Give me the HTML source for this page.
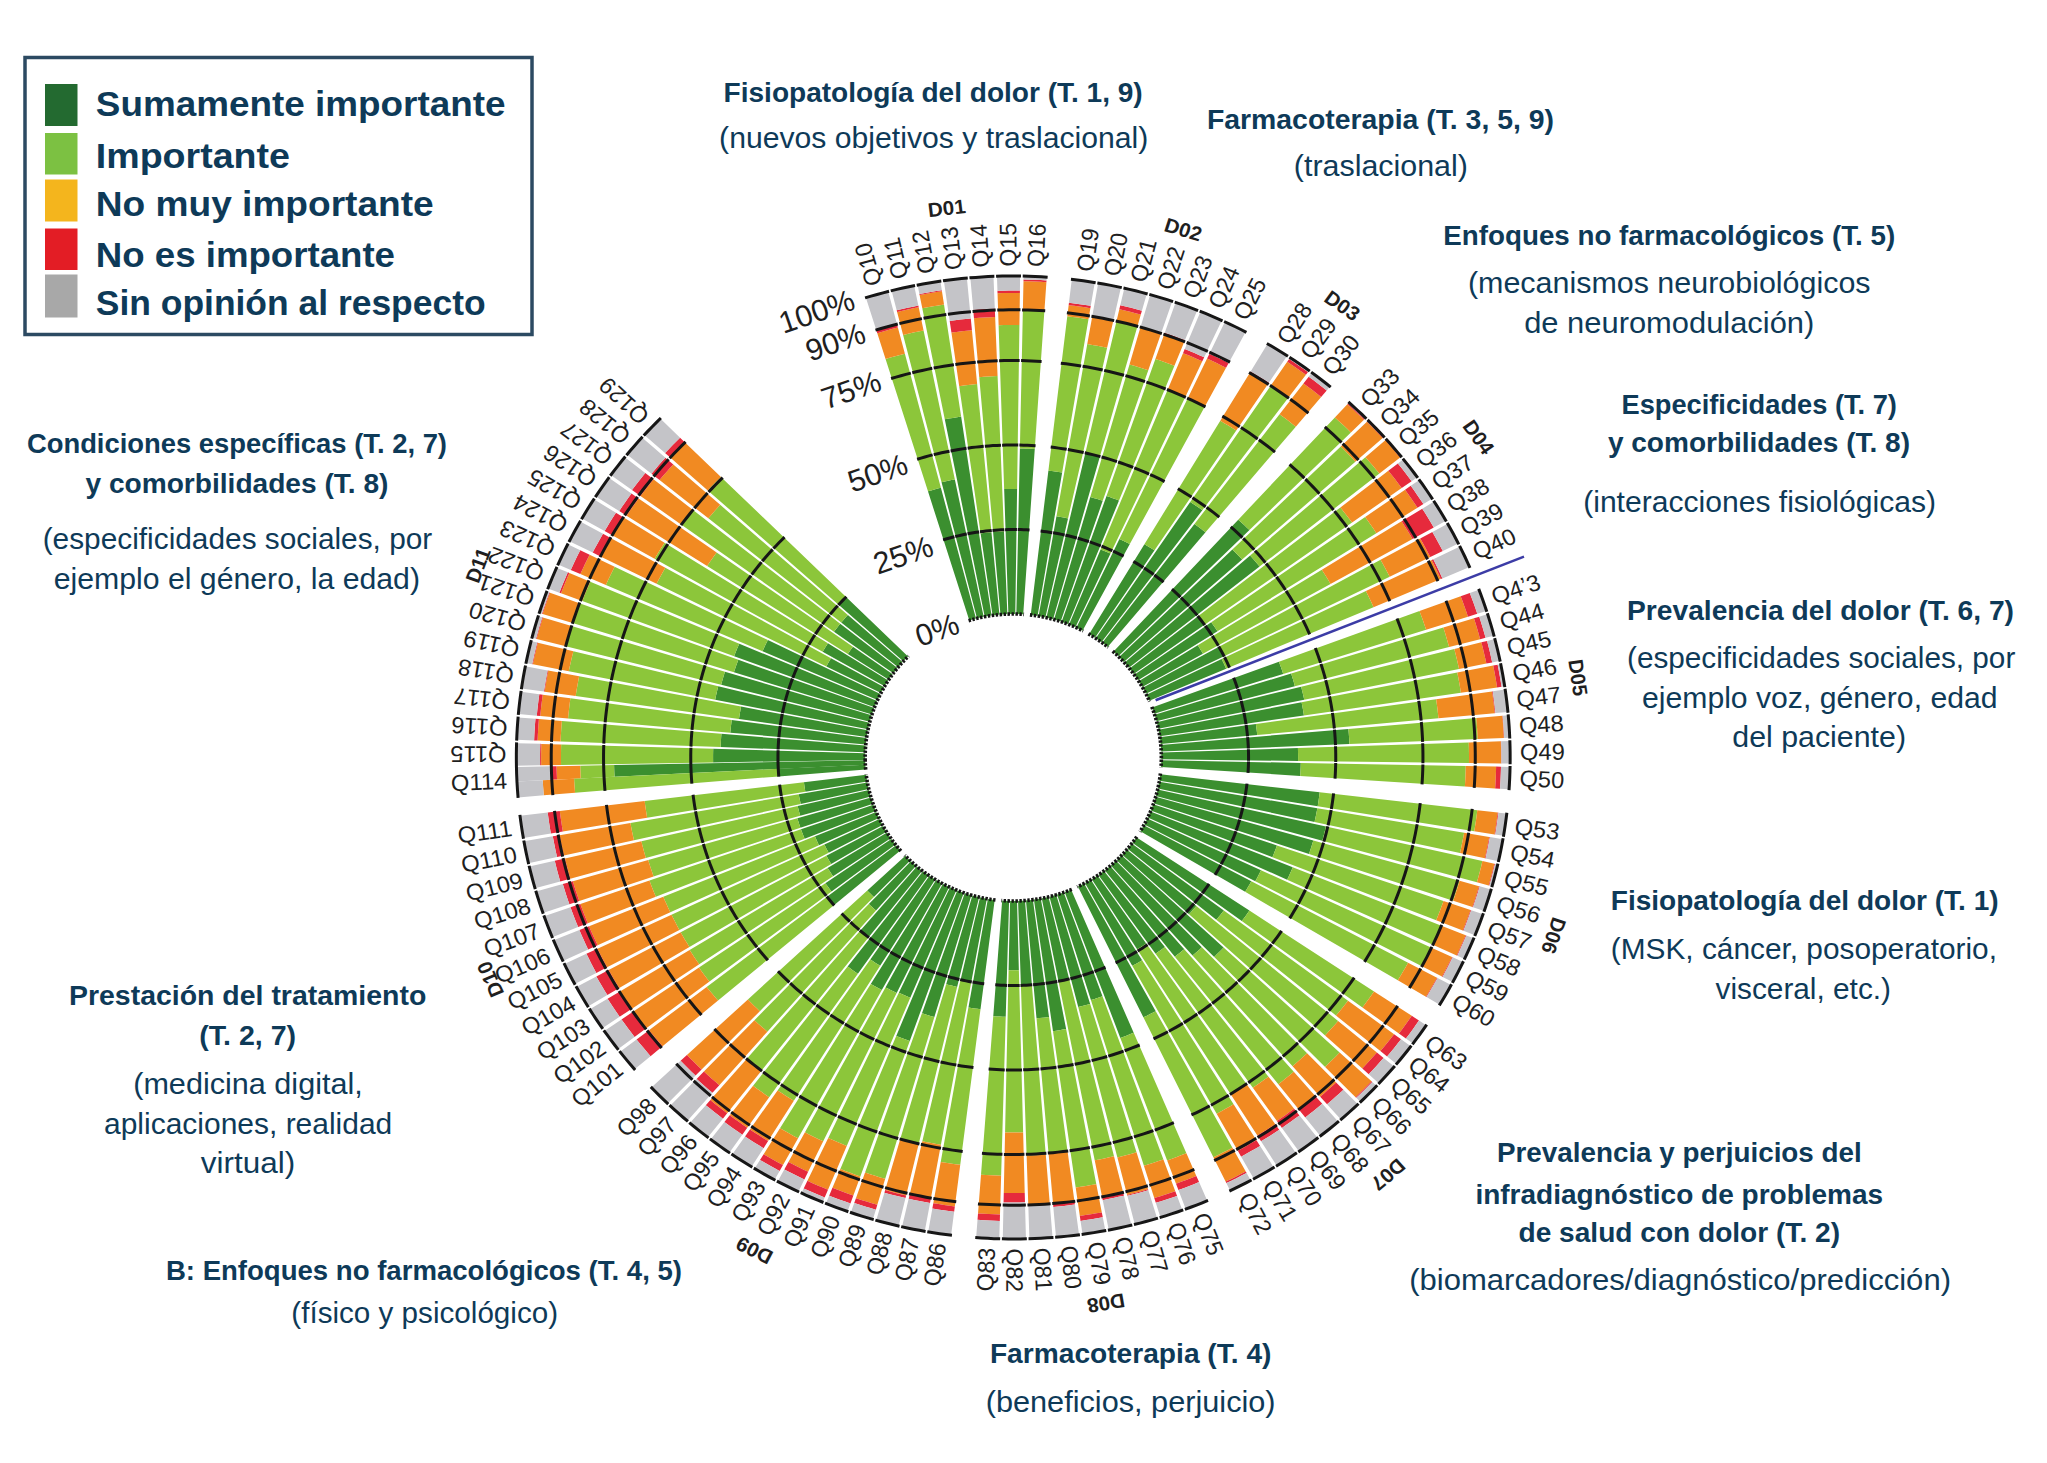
<!DOCTYPE html><html><head><meta charset="utf-8"><style>html,body{margin:0;padding:0;background:#fff;width:2047px;height:1463px;overflow:hidden}svg{display:block}text{font-family:"Liberation Sans",sans-serif}</style></head><body>
<svg width="2047" height="1463" viewBox="0 0 2047 1463">
<path d="M927.97,491.33 L931.18,490.39 L934.40,489.48 L937.63,488.60 L940.88,487.77 L975.99,618.62 L974.32,619.05 L972.65,619.50 L970.99,619.97 L969.34,620.45Z" fill="#3b8f2f"/>
<path d="M885.56,358.98 L890.37,357.57 L895.19,356.21 L900.03,354.90 L904.89,353.65 L940.88,487.77 L937.63,488.60 L934.40,489.48 L931.18,490.39 L927.97,491.33Z" fill="#8cc63a"/>
<path d="M877.29,333.16 L882.41,331.65 L887.54,330.20 L892.70,328.81 L897.87,327.48 L904.89,353.65 L900.03,354.90 L895.19,356.21 L890.37,357.57 L885.56,358.98Z" fill="#f18a22"/>
<path d="M875.95,328.96 L881.11,327.44 L886.30,325.98 L891.51,324.57 L896.73,323.22 L897.87,327.48 L892.70,328.81 L887.54,330.20 L882.41,331.65 L877.29,333.16Z" fill="#e62a3c"/>
<path d="M865.91,297.65 L871.46,296.02 L877.03,294.45 L882.61,292.94 L888.21,291.49 L896.73,323.22 L891.51,324.57 L886.30,325.98 L881.11,327.44 L875.95,328.96Z" fill="#c4c4c8"/>
<path d="M941.54,482.37 L944.86,481.58 L948.18,480.82 L951.52,480.11 L954.86,479.43 L983.72,616.88 L982.03,617.22 L980.35,617.59 L978.66,617.97 L976.99,618.37Z" fill="#3b8f2f"/>
<path d="M903.10,334.90 L908.20,333.68 L913.31,332.52 L918.43,331.42 L923.57,330.38 L954.86,479.43 L951.52,480.11 L948.18,480.82 L944.86,481.58 L941.54,482.37Z" fill="#8cc63a"/>
<path d="M897.12,311.96 L902.49,310.68 L907.88,309.46 L913.28,308.30 L918.70,307.20 L923.57,330.38 L918.43,331.42 L913.31,332.52 L908.20,333.68 L903.10,334.90Z" fill="#f18a22"/>
<path d="M896.69,310.32 L902.09,309.03 L907.49,307.81 L912.92,306.64 L918.35,305.54 L918.70,307.20 L913.28,308.30 L907.88,309.46 L902.49,310.68 L897.12,311.96Z" fill="#e62a3c"/>
<path d="M891.57,290.66 L897.20,289.32 L902.84,288.04 L908.50,286.82 L914.18,285.67 L918.35,305.54 L912.92,306.64 L907.49,307.81 L902.09,309.03 L896.69,310.32Z" fill="#c4c4c8"/>
<path d="M944.78,419.34 L948.85,418.59 L952.94,417.88 L957.03,417.22 L961.13,416.61 L991.55,615.55 L989.84,615.80 L988.14,616.08 L986.43,616.37 L984.74,616.68Z" fill="#3b8f2f"/>
<path d="M922.28,308.23 L927.69,307.23 L933.12,306.29 L938.56,305.42 L944.01,304.60 L961.13,416.61 L957.03,417.22 L952.94,417.88 L948.85,418.59 L944.78,419.34Z" fill="#8cc63a"/>
<path d="M919.59,294.96 L925.17,293.93 L930.75,292.97 L936.35,292.07 L941.96,291.23 L944.01,304.60 L938.56,305.42 L933.12,306.29 L927.69,307.23 L922.28,308.23Z" fill="#f18a22"/>
<path d="M919.39,293.96 L924.98,292.93 L930.58,291.97 L936.19,291.07 L941.81,290.23 L941.96,291.23 L936.35,292.07 L930.75,292.97 L925.17,293.93 L919.59,294.96Z" fill="#e62a3c"/>
<path d="M917.58,285.01 L923.27,283.96 L928.98,282.97 L934.70,282.05 L940.43,281.20 L941.81,290.23 L936.19,291.07 L930.58,291.97 L924.98,292.93 L919.39,293.96Z" fill="#c4c4c8"/>
<path d="M980.63,533.41 L983.34,533.05 L986.04,532.73 L988.75,532.44 L991.46,532.18 L999.43,614.63 L997.71,614.79 L996.00,614.98 L994.28,615.18 L992.57,615.41Z" fill="#3b8f2f"/>
<path d="M959.20,386.14 L963.68,385.56 L968.16,385.02 L972.65,384.54 L977.14,384.11 L991.46,532.18 L988.75,532.44 L986.04,532.73 L983.34,533.05 L980.63,533.41Z" fill="#8cc63a"/>
<path d="M951.41,332.59 L956.53,331.92 L961.66,331.31 L966.79,330.76 L971.93,330.26 L977.14,384.11 L972.65,384.54 L968.16,385.02 L963.68,385.56 L959.20,386.14Z" fill="#f18a22"/>
<path d="M949.70,320.88 L954.96,320.19 L960.23,319.56 L965.51,318.99 L970.79,318.48 L971.93,330.26 L966.79,330.76 L961.66,331.31 L956.53,331.92 L951.41,332.59Z" fill="#e62a3c"/>
<path d="M943.86,280.72 L949.60,279.97 L955.36,279.28 L961.12,278.66 L966.89,278.10 L970.79,318.48 L965.51,318.99 L960.23,319.56 L954.96,320.19 L949.70,320.88Z" fill="#c4c4c8"/>
<path d="M993.08,532.04 L995.80,531.82 L998.52,531.64 L1001.24,531.49 L1003.96,531.37 L1007.36,614.11 L1005.63,614.19 L1003.91,614.29 L1002.18,614.40 L1000.46,614.54Z" fill="#3b8f2f"/>
<path d="M979.23,377.14 L983.81,376.78 L988.39,376.47 L992.98,376.22 L997.58,376.01 L1003.96,531.37 L1001.24,531.49 L998.52,531.64 L995.80,531.82 L993.08,532.04Z" fill="#8cc63a"/>
<path d="M973.95,318.21 L979.25,317.79 L984.54,317.44 L989.84,317.14 L995.15,316.91 L997.58,376.01 L992.98,376.22 L988.39,376.47 L983.81,376.78 L979.23,377.14Z" fill="#f18a22"/>
<path d="M973.20,309.79 L978.59,309.37 L983.99,309.01 L989.39,308.70 L994.80,308.47 L995.15,316.91 L989.84,317.14 L984.54,317.44 L979.25,317.79 L973.95,318.21Z" fill="#e62a3c"/>
<path d="M970.34,277.80 L976.12,277.35 L981.90,276.96 L987.69,276.64 L993.48,276.38 L994.80,308.47 L989.39,308.70 L983.99,309.01 L978.59,309.37 L973.20,309.79Z" fill="#c4c4c8"/>
<path d="M1004.16,489.08 L1007.39,489.00 L1010.62,488.95 L1013.85,488.94 L1017.09,488.97 L1015.30,614.01 L1013.57,614.00 L1011.85,614.01 L1010.12,614.03 L1008.39,614.08Z" fill="#3b8f2f"/>
<path d="M998.60,325.24 L1003.81,325.11 L1009.02,325.03 L1014.22,325.01 L1019.43,325.05 L1017.09,488.97 L1013.85,488.94 L1010.62,488.95 L1007.39,489.00 L1004.16,489.08Z" fill="#8cc63a"/>
<path d="M997.52,293.15 L1003.11,293.00 L1008.70,292.92 L1014.30,292.90 L1019.89,292.94 L1019.43,325.05 L1014.22,325.01 L1009.02,325.03 L1003.81,325.11 L998.60,325.24Z" fill="#f18a22"/>
<path d="M997.44,290.79 L1003.06,290.64 L1008.68,290.56 L1014.30,290.54 L1019.92,290.58 L1019.89,292.94 L1014.30,292.90 L1008.70,292.92 L1003.11,293.00 L997.52,293.15Z" fill="#e62a3c"/>
<path d="M996.94,276.26 L1002.74,276.11 L1008.54,276.02 L1014.33,276.00 L1020.13,276.05 L1019.92,290.58 L1014.30,290.54 L1008.68,290.56 L1003.06,290.64 L997.44,290.79Z" fill="#c4c4c8"/>
<path d="M1019.89,448.45 L1023.61,448.54 L1027.33,448.68 L1031.05,448.86 L1034.76,449.08 L1023.24,614.33 L1021.51,614.22 L1019.79,614.14 L1018.06,614.08 L1016.33,614.03Z" fill="#3b8f2f"/>
<path d="M1022.87,309.90 L1028.26,310.04 L1033.64,310.24 L1039.03,310.50 L1044.41,310.82 L1034.76,449.08 L1031.05,448.86 L1027.33,448.68 L1023.61,448.54 L1019.89,448.45Z" fill="#8cc63a"/>
<path d="M1023.49,281.17 L1029.22,281.32 L1034.95,281.53 L1040.68,281.81 L1046.41,282.15 L1044.41,310.82 L1039.03,310.50 L1033.64,310.24 L1028.26,310.04 L1022.87,309.90Z" fill="#f18a22"/>
<path d="M1023.52,279.48 L1029.28,279.63 L1035.03,279.85 L1040.78,280.12 L1046.53,280.47 L1046.41,282.15 L1040.68,281.81 L1034.95,281.53 L1029.22,281.32 L1023.49,281.17Z" fill="#e62a3c"/>
<path d="M1023.60,276.10 L1029.39,276.25 L1035.18,276.47 L1040.98,276.75 L1046.76,277.10 L1046.53,280.47 L1040.78,280.12 L1035.03,279.85 L1029.28,279.63 L1023.52,279.48Z" fill="#c4c4c8"/>
<path d="M1048.39,470.67 L1051.84,471.09 L1055.28,471.55 L1058.72,472.04 L1062.16,472.57 L1037.55,615.94 L1035.84,615.68 L1034.13,615.43 L1032.42,615.21 L1030.71,615.00Z" fill="#3b8f2f"/>
<path d="M1067.30,316.28 L1072.61,316.92 L1077.91,317.62 L1083.20,318.38 L1088.48,319.20 L1062.16,472.57 L1058.72,472.04 L1055.28,471.55 L1051.84,471.09 L1048.39,470.67Z" fill="#8cc63a"/>
<path d="M1068.66,305.20 L1074.10,305.86 L1079.53,306.58 L1084.96,307.36 L1090.37,308.20 L1088.48,319.20 L1083.20,318.38 L1077.91,317.62 L1072.61,316.92 L1067.30,316.28Z" fill="#f18a22"/>
<path d="M1068.95,302.85 L1074.42,303.51 L1079.88,304.23 L1085.33,305.02 L1090.77,305.86 L1090.37,308.20 L1084.96,307.36 L1079.53,306.58 L1074.10,305.86 L1068.66,305.20Z" fill="#e62a3c"/>
<path d="M1071.82,279.36 L1077.58,280.05 L1083.32,280.81 L1089.06,281.64 L1094.78,282.53 L1090.77,305.86 L1085.33,305.02 L1079.88,304.23 L1074.42,303.51 L1068.95,302.85Z" fill="#c4c4c8"/>
<path d="M1056.46,516.20 L1059.36,516.71 L1062.25,517.25 L1065.14,517.82 L1068.03,518.42 L1045.35,617.41 L1043.66,617.06 L1041.96,616.72 L1040.27,616.41 L1038.57,616.11Z" fill="#3b8f2f"/>
<path d="M1087.28,344.03 L1092.26,344.90 L1097.22,345.82 L1102.17,346.79 L1107.11,347.83 L1068.03,518.42 L1065.14,517.82 L1062.25,517.25 L1059.36,516.71 L1056.46,516.20Z" fill="#8cc63a"/>
<path d="M1092.05,317.39 L1097.35,318.31 L1102.63,319.29 L1107.90,320.33 L1113.16,321.43 L1107.11,347.83 L1102.17,346.79 L1097.22,345.82 L1092.26,344.90 L1087.28,344.03Z" fill="#f18a22"/>
<path d="M1092.23,316.39 L1097.54,317.31 L1102.83,318.30 L1108.12,319.34 L1113.38,320.44 L1113.16,321.43 L1107.90,320.33 L1102.63,319.29 L1097.35,318.31 L1092.05,317.39Z" fill="#e62a3c"/>
<path d="M1098.20,283.09 L1103.90,284.08 L1109.60,285.14 L1115.28,286.26 L1120.94,287.44 L1113.38,320.44 L1108.12,319.34 L1102.83,318.30 L1097.54,317.31 L1092.23,316.39Z" fill="#c4c4c8"/>
<path d="M1085.34,452.91 L1089.00,453.74 L1092.65,454.62 L1096.29,455.54 L1099.92,456.50 L1053.05,619.28 L1051.38,618.84 L1049.71,618.42 L1048.04,618.01 L1046.35,617.63Z" fill="#3b8f2f"/>
<path d="M1116.37,321.79 L1121.61,322.98 L1126.83,324.24 L1132.04,325.55 L1137.24,326.92 L1099.92,456.50 L1096.29,455.54 L1092.65,454.62 L1089.00,453.74 L1085.34,452.91Z" fill="#8cc63a"/>
<path d="M1119.33,309.27 L1124.72,310.50 L1130.10,311.79 L1135.46,313.14 L1140.80,314.55 L1137.24,326.92 L1132.04,325.55 L1126.83,324.24 L1121.61,322.98 L1116.37,321.79Z" fill="#f18a22"/>
<path d="M1120.27,305.31 L1125.71,306.56 L1131.13,307.86 L1136.53,309.22 L1141.92,310.65 L1140.80,314.55 L1135.46,313.14 L1130.10,311.79 L1124.72,310.50 L1119.33,309.27Z" fill="#e62a3c"/>
<path d="M1124.32,288.18 L1129.97,289.47 L1135.59,290.82 L1141.21,292.24 L1146.80,293.72 L1141.92,310.65 L1136.53,309.22 L1131.13,307.86 L1125.71,306.56 L1120.27,305.31Z" fill="#c4c4c8"/>
<path d="M1090.27,497.06 L1093.40,497.94 L1096.52,498.87 L1099.63,499.83 L1102.73,500.82 L1060.64,621.55 L1059.00,621.02 L1057.36,620.51 L1055.70,620.02 L1054.04,619.55Z" fill="#3b8f2f"/>
<path d="M1129.47,364.49 L1134.20,365.83 L1138.91,367.22 L1143.60,368.67 L1148.27,370.17 L1102.73,500.82 L1099.63,499.83 L1096.52,498.87 L1093.40,497.94 L1090.27,497.06Z" fill="#8cc63a"/>
<path d="M1140.52,327.12 L1145.70,328.59 L1150.85,330.12 L1155.99,331.70 L1161.11,333.34 L1148.27,370.17 L1143.60,368.67 L1138.91,367.22 L1134.20,365.83 L1129.47,364.49Z" fill="#f18a22"/>
<path d="M1140.72,326.47 L1145.90,327.94 L1151.06,329.47 L1156.20,331.06 L1161.33,332.70 L1161.11,333.34 L1155.99,331.70 L1150.85,330.12 L1145.70,328.59 L1140.52,327.12Z" fill="#e62a3c"/>
<path d="M1150.13,294.63 L1155.70,296.21 L1161.24,297.85 L1166.77,299.55 L1172.27,301.32 L1161.33,332.70 L1156.20,331.06 L1151.06,329.47 L1145.90,327.94 L1140.72,326.47Z" fill="#c4c4c8"/>
<path d="M1106.51,496.00 L1109.65,497.07 L1112.78,498.18 L1115.89,499.32 L1119.00,500.50 L1068.10,624.20 L1066.49,623.59 L1064.87,623.00 L1063.25,622.43 L1061.62,621.87Z" fill="#3b8f2f"/>
<path d="M1155.38,358.95 L1160.17,360.59 L1164.94,362.27 L1169.69,364.02 L1174.42,365.81 L1119.00,500.50 L1115.89,499.32 L1112.78,498.18 L1109.65,497.07 L1106.51,496.00Z" fill="#8cc63a"/>
<path d="M1164.38,333.71 L1169.48,335.45 L1174.55,337.25 L1179.60,339.10 L1184.62,341.01 L1174.42,365.81 L1169.69,364.02 L1164.94,362.27 L1160.17,360.59 L1155.38,358.95Z" fill="#f18a22"/>
<path d="M1164.73,332.76 L1169.83,334.50 L1174.91,336.30 L1179.97,338.15 L1185.01,340.07 L1184.62,341.01 L1179.60,339.10 L1174.55,337.25 L1169.48,335.45 L1164.38,333.71Z" fill="#e62a3c"/>
<path d="M1175.55,302.41 L1181.02,304.27 L1186.46,306.20 L1191.88,308.19 L1197.28,310.24 L1185.01,340.07 L1179.97,338.15 L1174.91,336.30 L1169.83,334.50 L1164.73,332.76Z" fill="#c4c4c8"/>
<path d="M1100.60,549.44 L1103.10,550.44 L1105.59,551.47 L1108.06,552.53 L1110.52,553.61 L1075.39,627.25 L1073.82,626.55 L1072.24,625.88 L1070.65,625.22 L1069.05,624.58Z" fill="#3b8f2f"/>
<path d="M1167.64,389.76 L1172.05,391.54 L1176.45,393.36 L1180.82,395.23 L1185.17,397.14 L1110.52,553.61 L1108.06,552.53 L1105.59,551.47 L1103.10,550.44 L1100.60,549.44Z" fill="#8cc63a"/>
<path d="M1183.01,353.13 L1187.87,355.08 L1192.71,357.08 L1197.51,359.14 L1202.30,361.25 L1185.17,397.14 L1180.82,395.23 L1176.45,393.36 L1172.05,391.54 L1167.64,389.76Z" fill="#f18a22"/>
<path d="M1184.72,349.06 L1189.63,351.03 L1194.51,353.05 L1199.37,355.13 L1204.20,357.26 L1202.30,361.25 L1197.51,359.14 L1192.71,357.08 L1187.87,355.08 L1183.01,353.13Z" fill="#e62a3c"/>
<path d="M1200.50,311.49 L1205.85,313.64 L1211.18,315.85 L1216.49,318.12 L1221.77,320.44 L1204.20,357.26 L1199.37,355.13 L1194.51,353.05 L1189.63,351.03 L1184.72,349.06Z" fill="#c4c4c8"/>
<path d="M1119.42,538.99 L1122.04,540.20 L1124.65,541.44 L1127.24,542.72 L1129.82,544.02 L1082.51,630.66 L1080.98,629.89 L1079.44,629.13 L1077.89,628.39 L1076.33,627.67Z" fill="#3b8f2f"/>
<path d="M1187.76,398.31 L1192.07,400.31 L1196.36,402.36 L1200.63,404.45 L1204.86,406.59 L1129.82,544.02 L1127.24,542.72 L1124.65,541.44 L1122.04,540.20 L1119.42,538.99Z" fill="#8cc63a"/>
<path d="M1207.08,358.56 L1211.87,360.78 L1216.63,363.05 L1221.37,365.38 L1226.07,367.76 L1204.86,406.59 L1200.63,404.45 L1196.36,402.36 L1192.07,400.31 L1187.76,398.31Z" fill="#f18a22"/>
<path d="M1209.45,353.67 L1214.30,355.91 L1219.12,358.21 L1223.92,360.57 L1228.68,362.98 L1226.07,367.76 L1221.37,365.38 L1216.63,363.05 L1211.87,360.78 L1207.08,358.56Z" fill="#e62a3c"/>
<path d="M1224.91,321.86 L1230.14,324.29 L1235.34,326.77 L1240.51,329.31 L1245.65,331.91 L1228.68,362.98 L1223.92,360.57 L1219.12,358.21 L1214.30,355.91 L1209.45,353.67Z" fill="#c4c4c8"/>
<path d="M1144.40,544.21 L1146.96,545.71 L1149.50,547.23 L1152.02,548.79 L1154.52,550.37 L1094.90,637.78 L1093.46,636.87 L1092.00,635.97 L1090.53,635.09 L1089.05,634.22Z" fill="#3b8f2f"/>
<path d="M1220.28,420.80 L1224.32,423.17 L1228.33,425.57 L1232.31,428.03 L1236.26,430.53 L1154.52,550.37 L1152.02,548.79 L1149.50,547.23 L1146.96,545.71 L1144.40,544.21Z" fill="#8cc63a"/>
<path d="M1249.74,372.89 L1254.35,375.59 L1258.93,378.34 L1263.48,381.15 L1268.00,384.00 L1236.26,430.53 L1232.31,428.03 L1228.33,425.57 L1224.32,423.17 L1220.28,420.80Z" fill="#f18a22"/>
<path d="M1250.63,371.44 L1255.26,374.15 L1259.86,376.91 L1264.43,379.73 L1268.96,382.59 L1268.00,384.00 L1263.48,381.15 L1258.93,378.34 L1254.35,375.59 L1249.74,372.89Z" fill="#e62a3c"/>
<path d="M1267.59,343.85 L1272.55,346.76 L1277.48,349.72 L1282.37,352.73 L1287.23,355.80 L1268.96,382.59 L1264.43,379.73 L1259.86,376.91 L1255.26,374.15 L1250.63,371.44Z" fill="#c4c4c8"/>
<path d="M1190.22,501.93 L1193.28,503.95 L1196.32,506.00 L1199.34,508.09 L1202.33,510.21 L1101.41,642.20 L1100.02,641.21 L1098.61,640.24 L1097.19,639.28 L1095.76,638.34Z" fill="#3b8f2f"/>
<path d="M1270.68,385.73 L1275.14,388.67 L1279.56,391.65 L1283.95,394.69 L1288.30,397.77 L1202.33,510.21 L1199.34,508.09 L1196.32,506.00 L1193.28,503.95 L1190.22,501.93Z" fill="#8cc63a"/>
<path d="M1287.20,361.87 L1291.94,365.00 L1296.65,368.18 L1301.32,371.41 L1305.95,374.69 L1288.30,397.77 L1283.95,394.69 L1279.56,391.65 L1275.14,388.67 L1270.68,385.73Z" fill="#f18a22"/>
<path d="M1289.14,359.07 L1293.92,362.21 L1298.66,365.41 L1303.36,368.67 L1308.02,371.97 L1305.95,374.69 L1301.32,371.41 L1296.65,368.18 L1291.94,365.00 L1287.20,361.87Z" fill="#e62a3c"/>
<path d="M1290.11,357.66 L1294.91,360.82 L1299.67,364.03 L1304.38,367.30 L1309.06,370.62 L1308.02,371.97 L1303.36,368.67 L1298.66,365.41 L1293.92,362.21 L1289.14,359.07Z" fill="#c4c4c8"/>
<path d="M1194.46,523.92 L1197.26,525.98 L1200.04,528.08 L1202.79,530.21 L1205.51,532.37 L1107.66,646.94 L1106.33,645.88 L1104.98,644.84 L1103.61,643.81 L1102.24,642.80Z" fill="#3b8f2f"/>
<path d="M1279.56,414.23 L1283.68,417.26 L1287.75,420.34 L1291.79,423.47 L1295.80,426.64 L1205.51,532.37 L1202.79,530.21 L1200.04,528.08 L1197.26,525.98 L1194.46,523.92Z" fill="#8cc63a"/>
<path d="M1303.46,383.43 L1307.94,386.74 L1312.38,390.09 L1316.79,393.50 L1321.15,396.96 L1295.80,426.64 L1291.79,423.47 L1287.75,420.34 L1283.68,417.26 L1279.56,414.23Z" fill="#f18a22"/>
<path d="M1308.70,376.68 L1313.26,380.04 L1317.78,383.46 L1322.27,386.93 L1326.71,390.45 L1321.15,396.96 L1316.79,393.50 L1312.38,390.09 L1307.94,386.74 L1303.46,383.43Z" fill="#e62a3c"/>
<path d="M1311.84,372.62 L1316.45,376.03 L1321.03,379.48 L1325.56,382.98 L1330.04,386.54 L1326.71,390.45 L1322.27,386.93 L1317.78,383.46 L1313.26,380.04 L1308.70,376.68Z" fill="#c4c4c8"/>
<path d="M1238.24,519.66 L1241.09,522.22 L1243.91,524.82 L1246.69,527.44 L1249.45,530.09 L1118.30,656.36 L1117.08,655.18 L1115.84,654.01 L1114.59,652.86 L1113.32,651.72Z" fill="#3b8f2f"/>
<path d="M1334.88,417.51 L1338.95,421.17 L1342.98,424.87 L1346.96,428.62 L1350.90,432.42 L1249.45,530.09 L1246.69,527.44 L1243.91,524.82 L1241.09,522.22 L1238.24,519.66Z" fill="#8cc63a"/>
<path d="M1347.37,404.30 L1351.60,408.11 L1355.79,411.96 L1359.92,415.85 L1364.01,419.79 L1350.90,432.42 L1346.96,428.62 L1342.98,424.87 L1338.95,421.17 L1334.88,417.51Z" fill="#f18a22"/>
<path d="M1348.08,403.56 L1352.32,407.37 L1356.51,411.22 L1360.66,415.13 L1364.76,419.08 L1364.01,419.79 L1359.92,415.85 L1355.79,411.96 L1351.60,408.11 L1347.37,404.30Z" fill="#e62a3c"/>
<path d="M1349.02,402.56 L1353.27,406.38 L1357.48,410.25 L1361.64,414.16 L1365.75,418.13 L1364.76,419.08 L1360.66,415.13 L1356.51,411.22 L1352.32,407.37 L1348.08,403.56Z" fill="#c4c4c8"/>
<path d="M1232.39,549.44 L1234.88,551.93 L1237.34,554.45 L1239.77,557.00 L1242.17,559.57 L1123.75,661.96 L1122.59,660.72 L1121.42,659.49 L1120.23,658.27 L1119.03,657.07Z" fill="#3b8f2f"/>
<path d="M1340.77,446.54 L1344.50,450.26 L1348.17,454.03 L1351.80,457.83 L1355.39,461.68 L1242.17,559.57 L1239.77,557.00 L1237.34,554.45 L1234.88,551.93 L1232.39,549.44Z" fill="#8cc63a"/>
<path d="M1366.93,421.70 L1370.95,425.72 L1374.92,429.79 L1378.85,433.90 L1382.72,438.05 L1355.39,461.68 L1351.80,457.83 L1348.17,454.03 L1344.50,450.26 L1340.77,446.54Z" fill="#f18a22"/>
<path d="M1367.43,421.23 L1371.46,425.25 L1375.43,429.33 L1379.36,433.44 L1383.24,437.60 L1382.72,438.05 L1378.85,433.90 L1374.92,429.79 L1370.95,425.72 L1366.93,421.70Z" fill="#e62a3c"/>
<path d="M1368.18,420.52 L1372.21,424.55 L1376.20,428.63 L1380.13,432.76 L1384.02,436.93 L1383.24,437.60 L1379.36,433.44 L1375.43,429.33 L1371.46,425.25 L1367.43,421.23Z" fill="#c4c4c8"/>
<path d="M1250.14,555.54 L1252.55,558.23 L1254.94,560.95 L1257.29,563.70 L1259.60,566.47 L1128.88,667.84 L1127.79,666.54 L1126.69,665.25 L1125.57,663.97 L1124.43,662.71Z" fill="#3b8f2f"/>
<path d="M1365.37,457.30 L1368.96,461.30 L1372.50,465.35 L1375.99,469.43 L1379.44,473.55 L1259.60,566.47 L1257.29,563.70 L1254.94,560.95 L1252.55,558.23 L1250.14,555.54Z" fill="#8cc63a"/>
<path d="M1385.27,440.33 L1389.06,444.56 L1392.80,448.83 L1396.49,453.14 L1400.13,457.50 L1379.44,473.55 L1375.99,469.43 L1372.50,465.35 L1368.96,461.30 L1365.37,457.30Z" fill="#f18a22"/>
<path d="M1385.79,439.89 L1389.59,444.12 L1393.34,448.40 L1397.03,452.71 L1400.68,457.07 L1400.13,457.50 L1396.49,453.14 L1392.80,448.83 L1389.06,444.56 L1385.27,440.33Z" fill="#e62a3c"/>
<path d="M1386.32,439.44 L1390.12,443.68 L1393.87,447.96 L1397.57,452.29 L1401.22,456.65 L1400.68,457.07 L1397.03,452.71 L1393.34,448.40 L1389.59,444.12 L1385.79,439.89Z" fill="#c4c4c8"/>
<path d="M1197.98,616.29 L1199.67,618.39 L1201.33,620.50 L1202.97,622.64 L1204.58,624.79 L1133.67,673.98 L1132.66,672.62 L1131.63,671.28 L1130.58,669.94 L1129.52,668.62Z" fill="#3b8f2f"/>
<path d="M1340.39,507.43 L1343.38,511.15 L1346.32,514.89 L1349.22,518.68 L1352.07,522.49 L1204.58,624.79 L1202.97,622.64 L1201.33,620.50 L1199.67,618.39 L1197.98,616.29Z" fill="#8cc63a"/>
<path d="M1388.32,470.79 L1391.74,475.05 L1395.12,479.35 L1398.44,483.69 L1401.71,488.06 L1352.07,522.49 L1349.22,518.68 L1346.32,514.89 L1343.38,511.15 L1340.39,507.43Z" fill="#f18a22"/>
<path d="M1397.90,463.47 L1401.42,467.84 L1404.88,472.24 L1408.28,476.69 L1411.64,481.18 L1401.71,488.06 L1398.44,483.69 L1395.12,479.35 L1391.74,475.05 L1388.32,470.79Z" fill="#e62a3c"/>
<path d="M1403.38,459.28 L1406.94,463.71 L1410.45,468.18 L1413.91,472.69 L1417.31,477.24 L1411.64,481.18 L1408.28,476.69 L1404.88,472.24 L1401.42,467.84 L1397.90,463.47Z" fill="#c4c4c8"/>
<path d="M1211.23,622.19 L1212.85,624.44 L1214.44,626.70 L1216.00,628.99 L1217.53,631.29 L1138.12,680.35 L1137.18,678.95 L1136.23,677.55 L1135.26,676.17 L1134.27,674.79Z" fill="#3b8f2f"/>
<path d="M1365.16,516.99 L1368.03,520.99 L1370.85,525.02 L1373.63,529.07 L1376.36,533.16 L1217.53,631.29 L1216.00,628.99 L1214.44,626.70 L1212.85,624.44 L1211.23,622.19Z" fill="#8cc63a"/>
<path d="M1405.07,489.72 L1408.26,494.17 L1411.41,498.65 L1414.50,503.17 L1417.53,507.72 L1376.36,533.16 L1373.63,529.07 L1370.85,525.02 L1368.03,520.99 L1365.16,516.99Z" fill="#f18a22"/>
<path d="M1410.77,485.82 L1414.01,490.34 L1417.20,494.88 L1420.33,499.47 L1423.41,504.09 L1417.53,507.72 L1414.50,503.17 L1411.41,498.65 L1408.26,494.17 L1405.07,489.72Z" fill="#e62a3c"/>
<path d="M1419.32,479.98 L1422.63,484.59 L1425.89,489.24 L1429.09,493.92 L1432.24,498.64 L1423.41,504.09 L1420.33,499.47 L1417.20,494.88 L1414.01,490.34 L1410.77,485.82Z" fill="#c4c4c8"/>
<path d="M1197.76,645.25 L1199.09,647.35 L1200.41,649.46 L1201.70,651.58 L1202.96,653.72 L1142.21,686.95 L1141.35,685.50 L1140.47,684.05 L1139.58,682.62 L1138.67,681.20Z" fill="#3b8f2f"/>
<path d="M1321.83,569.77 L1324.07,573.27 L1326.27,576.80 L1328.42,580.35 L1330.53,583.92 L1202.96,653.72 L1201.70,651.58 L1200.41,649.46 L1199.09,647.35 L1197.76,645.25Z" fill="#8cc63a"/>
<path d="M1401.59,521.24 L1404.41,525.65 L1407.18,530.09 L1409.89,534.56 L1412.55,539.06 L1330.53,583.92 L1328.42,580.35 L1326.27,576.80 L1324.07,573.27 L1321.83,569.77Z" fill="#f18a22"/>
<path d="M1422.27,508.66 L1425.24,513.31 L1428.15,517.98 L1431.01,522.69 L1433.81,527.43 L1412.55,539.06 L1409.89,534.56 L1407.18,530.09 L1404.41,525.65 L1401.59,521.24Z" fill="#e62a3c"/>
<path d="M1434.09,501.48 L1437.14,506.25 L1440.14,511.06 L1443.08,515.90 L1445.96,520.78 L1433.81,527.43 L1431.01,522.69 L1428.15,517.98 L1425.24,513.31 L1422.27,508.66Z" fill="#c4c4c8"/>
<path d="M1218.95,646.79 L1220.27,649.13 L1221.56,651.48 L1222.82,653.84 L1224.05,656.21 L1145.93,693.75 L1145.15,692.26 L1144.36,690.77 L1143.54,689.29 L1142.71,687.82Z" fill="#3b8f2f"/>
<path d="M1380.57,559.81 L1382.92,563.98 L1385.23,568.17 L1387.48,572.39 L1389.68,576.63 L1224.05,656.21 L1222.82,653.84 L1221.56,651.48 L1220.27,649.13 L1218.95,646.79Z" fill="#8cc63a"/>
<path d="M1420.21,538.48 L1422.82,543.09 L1425.37,547.74 L1427.87,552.41 L1430.31,557.11 L1389.68,576.63 L1387.48,572.39 L1385.23,568.17 L1382.92,563.98 L1380.57,559.81Z" fill="#f18a22"/>
<path d="M1432.40,531.91 L1435.09,536.67 L1437.72,541.45 L1440.29,546.27 L1442.81,551.11 L1430.31,557.11 L1427.87,552.41 L1425.37,547.74 L1422.82,543.09 L1420.21,538.48Z" fill="#e62a3c"/>
<path d="M1447.65,523.71 L1450.44,528.63 L1453.16,533.59 L1455.83,538.58 L1458.43,543.60 L1442.81,551.11 L1440.29,546.27 L1437.72,541.45 L1435.09,536.67 L1432.40,531.91Z" fill="#c4c4c8"/>
<path d="M1221.64,659.12 L1222.81,661.48 L1223.95,663.86 L1225.07,666.25 L1226.15,668.65 L1149.26,700.74 L1148.57,699.20 L1147.86,697.68 L1147.13,696.16 L1146.38,694.65Z" fill="#3b8f2f"/>
<path d="M1365.89,591.02 L1367.87,595.02 L1369.80,599.04 L1371.69,603.08 L1373.52,607.15 L1226.15,668.65 L1225.07,666.25 L1223.95,663.86 L1222.81,661.48 L1221.64,659.12Z" fill="#8cc63a"/>
<path d="M1431.74,559.94 L1434.09,564.68 L1436.38,569.45 L1438.62,574.25 L1440.80,579.07 L1373.52,607.15 L1371.69,603.08 L1369.80,599.04 L1367.87,595.02 L1365.89,591.02Z" fill="#f18a22"/>
<path d="M1433.31,559.20 L1435.67,563.96 L1437.97,568.75 L1440.21,573.56 L1442.40,578.40 L1440.80,579.07 L1438.62,574.25 L1436.38,569.45 L1434.09,564.68 L1431.74,559.94Z" fill="#e62a3c"/>
<path d="M1459.96,546.61 L1462.47,551.68 L1464.92,556.77 L1467.31,561.89 L1469.63,567.04 L1442.40,578.40 L1440.21,573.56 L1437.97,568.75 L1435.67,563.96 L1433.31,559.20Z" fill="#c4c4c8"/>
<path d="M1278.91,661.77 L1280.04,664.78 L1281.14,667.81 L1282.20,670.84 L1283.23,673.89 L1154.31,713.81 L1153.78,712.22 L1153.22,710.64 L1152.65,709.06 L1152.06,707.48Z" fill="#3b8f2f"/>
<path d="M1419.49,611.12 L1421.23,615.72 L1422.91,620.34 L1424.53,624.98 L1426.10,629.64 L1283.23,673.89 L1282.20,670.84 L1281.14,667.81 L1280.04,664.78 L1278.91,661.77Z" fill="#8cc63a"/>
<path d="M1460.69,596.27 L1462.60,601.34 L1464.45,606.43 L1466.24,611.54 L1467.96,616.67 L1426.10,629.64 L1424.53,624.98 L1422.91,620.34 L1421.23,615.72 L1419.49,611.12Z" fill="#f18a22"/>
<path d="M1469.84,592.97 L1471.79,598.15 L1473.68,603.34 L1475.51,608.56 L1477.27,613.79 L1467.96,616.67 L1466.24,611.54 L1464.45,606.43 L1462.60,601.34 L1460.69,596.27Z" fill="#e62a3c"/>
<path d="M1479.00,589.67 L1480.99,594.95 L1482.91,600.25 L1484.77,605.57 L1486.57,610.91 L1477.27,613.79 L1475.51,608.56 L1473.68,603.34 L1471.79,598.15 L1469.84,592.97Z" fill="#c4c4c8"/>
<path d="M1291.15,673.50 L1292.14,676.65 L1293.10,679.81 L1294.01,682.97 L1294.89,686.15 L1156.53,721.20 L1156.08,719.59 L1155.61,717.97 L1155.13,716.37 L1154.62,714.77Z" fill="#3b8f2f"/>
<path d="M1443.33,627.50 L1444.86,632.37 L1446.34,637.26 L1447.76,642.16 L1449.12,647.08 L1294.89,686.15 L1294.01,682.97 L1293.10,679.81 L1292.14,676.65 L1291.15,673.50Z" fill="#8cc63a"/>
<path d="M1473.96,618.24 L1475.61,623.46 L1477.19,628.69 L1478.71,633.95 L1480.16,639.22 L1449.12,647.08 L1447.76,642.16 L1446.34,637.26 L1444.86,632.37 L1443.33,627.50Z" fill="#f18a22"/>
<path d="M1479.29,616.63 L1480.95,621.91 L1482.55,627.20 L1484.09,632.52 L1485.56,637.85 L1480.16,639.22 L1478.71,633.95 L1477.19,628.69 L1475.61,623.46 L1473.96,618.24Z" fill="#e62a3c"/>
<path d="M1487.61,614.11 L1489.31,619.49 L1490.94,624.88 L1492.50,630.29 L1494.00,635.71 L1485.56,637.85 L1484.09,632.52 L1482.55,627.20 L1480.95,621.91 L1479.29,616.63Z" fill="#c4c4c8"/>
<path d="M1301.15,686.64 L1301.98,689.90 L1302.77,693.17 L1303.53,696.45 L1304.24,699.74 L1158.33,728.70 L1157.97,727.06 L1157.60,725.43 L1157.20,723.80 L1156.78,722.17Z" fill="#3b8f2f"/>
<path d="M1454.30,648.95 L1455.57,653.94 L1456.79,658.95 L1457.95,663.97 L1459.04,669.01 L1304.24,699.74 L1303.53,696.45 L1302.77,693.17 L1301.98,689.90 L1301.15,686.64Z" fill="#8cc63a"/>
<path d="M1481.34,642.29 L1482.70,647.59 L1483.99,652.91 L1485.22,658.24 L1486.38,663.58 L1459.04,669.01 L1457.95,663.97 L1456.79,658.95 L1455.57,653.94 L1454.30,648.95Z" fill="#f18a22"/>
<path d="M1487.09,640.88 L1488.46,646.24 L1489.77,651.62 L1491.01,657.02 L1492.19,662.43 L1486.38,663.58 L1485.22,658.24 L1483.99,652.91 L1482.70,647.59 L1481.34,642.29Z" fill="#e62a3c"/>
<path d="M1494.87,638.97 L1496.26,644.42 L1497.59,649.89 L1498.85,655.37 L1500.05,660.87 L1492.19,662.43 L1491.01,657.02 L1489.77,651.62 L1488.46,646.24 L1487.09,640.88Z" fill="#c4c4c8"/>
<path d="M1301.57,702.29 L1302.22,705.56 L1302.82,708.83 L1303.39,712.10 L1303.92,715.39 L1159.71,736.28 L1159.45,734.63 L1159.16,732.97 L1158.86,731.33 L1158.53,729.68Z" fill="#3b8f2f"/>
<path d="M1457.27,672.48 L1458.27,677.50 L1459.20,682.54 L1460.07,687.59 L1460.88,692.64 L1303.92,715.39 L1303.39,712.10 L1302.82,708.83 L1302.22,705.56 L1301.57,702.29Z" fill="#8cc63a"/>
<path d="M1493.20,665.60 L1494.28,671.03 L1495.29,676.48 L1496.23,681.93 L1497.11,687.40 L1460.88,692.64 L1460.07,687.59 L1459.20,682.54 L1458.27,677.50 L1457.27,672.48Z" fill="#f18a22"/>
<path d="M1497.65,664.75 L1498.74,670.23 L1499.75,675.72 L1500.70,681.23 L1501.59,686.75 L1497.11,687.40 L1496.23,681.93 L1495.29,676.48 L1494.28,671.03 L1493.20,665.60Z" fill="#e62a3c"/>
<path d="M1500.73,664.16 L1501.82,669.68 L1502.85,675.20 L1503.80,680.75 L1504.69,686.30 L1501.59,686.75 L1500.70,681.23 L1499.75,675.72 L1498.74,670.23 L1497.65,664.75Z" fill="#c4c4c8"/>
<path d="M1255.87,724.02 L1256.25,726.77 L1256.61,729.52 L1256.93,732.27 L1257.21,735.03 L1160.68,743.92 L1160.50,742.25 L1160.31,740.59 L1160.10,738.93 L1159.86,737.27Z" fill="#3b8f2f"/>
<path d="M1436.13,699.15 L1436.80,703.93 L1437.42,708.73 L1437.98,713.52 L1438.48,718.33 L1257.21,735.03 L1256.93,732.27 L1256.61,729.52 L1256.25,726.77 L1255.87,724.02Z" fill="#8cc63a"/>
<path d="M1492.07,691.43 L1492.84,696.85 L1493.53,702.27 L1494.17,707.71 L1494.73,713.15 L1438.48,718.33 L1437.98,713.52 L1437.42,708.73 L1436.80,703.93 L1436.13,699.15Z" fill="#f18a22"/>
<path d="M1492.76,691.33 L1493.53,696.76 L1494.23,702.19 L1494.86,707.63 L1495.43,713.08 L1494.73,713.15 L1494.17,707.71 L1493.53,702.27 L1492.84,696.85 L1492.07,691.43Z" fill="#e62a3c"/>
<path d="M1505.20,689.62 L1505.98,695.19 L1506.70,700.76 L1507.35,706.34 L1507.93,711.93 L1495.43,713.08 L1494.86,707.63 L1494.23,702.19 L1493.53,696.76 L1492.76,691.33Z" fill="#c4c4c8"/>
<path d="M1348.41,728.91 L1348.73,732.70 L1349.00,736.50 L1349.23,740.29 L1349.42,744.09 L1161.22,751.60 L1161.14,749.93 L1161.03,748.25 L1160.91,746.58 L1160.77,744.92Z" fill="#3b8f2f"/>
<path d="M1476.28,718.00 L1476.72,723.24 L1477.10,728.48 L1477.42,733.73 L1477.67,738.98 L1349.42,744.09 L1349.23,740.29 L1349.00,736.50 L1348.73,732.70 L1348.41,728.91Z" fill="#8cc63a"/>
<path d="M1502.34,715.78 L1502.81,721.31 L1503.21,726.85 L1503.54,732.39 L1503.81,737.93 L1477.67,738.98 L1477.42,733.73 L1477.10,728.48 L1476.72,723.24 L1476.28,718.00Z" fill="#f18a22"/>
<path d="M1502.68,715.75 L1503.15,721.29 L1503.56,726.83 L1503.89,732.37 L1504.16,737.92 L1503.81,737.93 L1503.54,732.39 L1503.21,726.85 L1502.81,721.31 L1502.34,715.78Z" fill="#e62a3c"/>
<path d="M1508.24,715.28 L1508.72,720.87 L1509.13,726.48 L1509.47,732.09 L1509.74,737.70 L1504.16,737.92 L1503.89,732.37 L1503.56,726.83 L1503.15,721.29 L1502.68,715.75Z" fill="#c4c4c8"/>
<path d="M1297.91,748.07 L1298.01,751.29 L1298.06,754.51 L1298.08,757.73 L1298.06,760.95 L1161.33,759.29 L1161.34,757.62 L1161.33,755.95 L1161.30,754.27 L1161.26,752.60Z" fill="#3b8f2f"/>
<path d="M1468.73,742.42 L1468.88,747.57 L1468.97,752.72 L1469.00,757.87 L1468.96,763.02 L1298.06,760.95 L1298.08,757.73 L1298.06,754.51 L1298.01,751.29 L1297.91,748.07Z" fill="#8cc63a"/>
<path d="M1500.80,741.35 L1500.97,746.87 L1501.06,752.38 L1501.09,757.90 L1501.05,763.41 L1468.96,763.02 L1469.00,757.87 L1468.97,752.72 L1468.88,747.57 L1468.73,742.42Z" fill="#f18a22"/>
<path d="M1501.15,741.34 L1501.31,746.86 L1501.41,752.38 L1501.44,757.90 L1501.40,763.42 L1501.05,763.41 L1501.09,757.90 L1501.06,752.38 L1500.97,746.87 L1500.80,741.35Z" fill="#e62a3c"/>
<path d="M1509.87,741.05 L1510.03,746.67 L1510.13,752.29 L1510.16,757.90 L1510.12,763.52 L1501.40,763.42 L1501.44,757.90 L1501.41,752.38 L1501.31,746.86 L1501.15,741.34Z" fill="#c4c4c8"/>
<path d="M1300.81,762.93 L1300.73,766.18 L1300.60,769.43 L1300.44,772.68 L1300.24,775.92 L1161.02,766.99 L1161.12,765.31 L1161.21,763.64 L1161.27,761.97 L1161.31,760.29Z" fill="#3b8f2f"/>
<path d="M1465.77,766.04 L1465.64,771.16 L1465.44,776.27 L1465.19,781.38 L1464.87,786.49 L1300.24,775.92 L1300.44,772.68 L1300.60,769.43 L1300.73,766.18 L1300.81,762.93Z" fill="#8cc63a"/>
<path d="M1496.11,766.61 L1495.97,772.07 L1495.76,777.53 L1495.49,782.98 L1495.15,788.43 L1464.87,786.49 L1465.19,781.38 L1465.44,776.27 L1465.64,771.16 L1465.77,766.04Z" fill="#f18a22"/>
<path d="M1501.00,766.71 L1500.85,772.22 L1500.64,777.73 L1500.36,783.24 L1500.02,788.75 L1495.15,788.43 L1495.49,782.98 L1495.76,777.53 L1495.97,772.07 L1496.11,766.61Z" fill="#e62a3c"/>
<path d="M1510.06,766.88 L1509.92,772.49 L1509.70,778.11 L1509.42,783.72 L1509.07,789.33 L1500.02,788.75 L1500.36,783.24 L1500.64,777.73 L1500.85,772.22 L1501.00,766.71Z" fill="#c4c4c8"/>
<path d="M1319.69,792.34 L1319.25,795.81 L1318.77,799.26 L1318.25,802.71 L1317.68,806.16 L1159.37,780.85 L1159.64,779.20 L1159.89,777.54 L1160.12,775.89 L1160.33,774.22Z" fill="#3b8f2f"/>
<path d="M1477.32,810.27 L1476.66,815.51 L1475.93,820.74 L1475.13,825.97 L1474.28,831.19 L1317.68,806.16 L1318.25,802.71 L1318.77,799.26 L1319.25,795.81 L1319.69,792.34Z" fill="#8cc63a"/>
<path d="M1497.76,812.59 L1497.07,818.06 L1496.31,823.53 L1495.48,828.99 L1494.58,834.43 L1474.28,831.19 L1475.13,825.97 L1475.93,820.74 L1476.66,815.51 L1477.32,810.27Z" fill="#f18a22"/>
<path d="M1498.46,812.67 L1497.76,818.15 L1497.00,823.62 L1496.17,829.09 L1495.27,834.54 L1494.58,834.43 L1495.48,828.99 L1496.31,823.53 L1497.07,818.06 L1497.76,812.59Z" fill="#e62a3c"/>
<path d="M1506.77,813.61 L1506.06,819.19 L1505.29,824.76 L1504.44,830.32 L1503.53,835.86 L1495.27,834.54 L1496.17,829.09 L1497.00,823.62 L1497.76,818.15 L1498.46,812.67Z" fill="#c4c4c8"/>
<path d="M1317.33,808.21 L1316.69,811.65 L1316.02,815.08 L1315.31,818.49 L1314.55,821.91 L1157.87,788.41 L1158.23,786.78 L1158.57,785.13 L1158.89,783.49 L1159.20,781.84Z" fill="#3b8f2f"/>
<path d="M1464.11,832.70 L1463.18,837.79 L1462.18,842.87 L1461.12,847.94 L1460.00,853.00 L1314.55,821.91 L1315.31,818.49 L1316.02,815.08 L1316.69,811.65 L1317.33,808.21Z" fill="#8cc63a"/>
<path d="M1489.21,836.88 L1488.22,842.26 L1487.17,847.62 L1486.05,852.97 L1484.87,858.31 L1460.00,853.00 L1461.12,847.94 L1462.18,842.87 L1463.18,837.79 L1464.11,832.70Z" fill="#f18a22"/>
<path d="M1489.89,837.00 L1488.90,842.38 L1487.85,847.75 L1486.73,853.11 L1485.55,858.46 L1484.87,858.31 L1486.05,852.97 L1487.17,847.62 L1488.22,842.26 L1489.21,836.88Z" fill="#e62a3c"/>
<path d="M1502.96,839.17 L1501.94,844.71 L1500.86,850.22 L1499.71,855.73 L1498.49,861.22 L1485.55,858.46 L1486.73,853.11 L1487.85,847.75 L1488.90,842.38 L1489.89,837.00Z" fill="#c4c4c8"/>
<path d="M1325.99,826.57 L1325.13,830.10 L1324.24,833.62 L1323.30,837.13 L1322.32,840.63 L1155.95,795.88 L1156.40,794.27 L1156.83,792.64 L1157.25,791.02 L1157.64,789.39Z" fill="#3b8f2f"/>
<path d="M1482.43,861.12 L1481.15,866.42 L1479.81,871.70 L1478.40,876.97 L1476.93,882.22 L1322.32,840.63 L1323.30,837.13 L1324.24,833.62 L1325.13,830.10 L1325.99,826.57Z" fill="#8cc63a"/>
<path d="M1494.33,863.75 L1493.02,869.18 L1491.64,874.60 L1490.20,880.00 L1488.69,885.38 L1476.93,882.22 L1478.40,876.97 L1479.81,871.70 L1481.15,866.42 L1482.43,861.12Z" fill="#f18a22"/>
<path d="M1495.01,863.90 L1493.70,869.34 L1492.32,874.76 L1490.88,880.17 L1489.37,885.56 L1488.69,885.38 L1490.20,880.00 L1491.64,874.60 L1493.02,869.18 L1494.33,863.75Z" fill="#e62a3c"/>
<path d="M1497.73,864.50 L1496.41,869.97 L1495.03,875.42 L1493.57,880.86 L1492.05,886.28 L1489.37,885.56 L1490.88,880.17 L1492.32,874.76 L1493.70,869.34 L1495.01,863.90Z" fill="#c4c4c8"/>
<path d="M1313.33,840.40 L1312.31,843.79 L1311.25,847.16 L1310.15,850.53 L1309.01,853.88 L1153.62,803.24 L1154.16,801.65 L1154.68,800.05 L1155.18,798.45 L1155.67,796.84Z" fill="#3b8f2f"/>
<path d="M1459.58,880.81 L1458.07,885.84 L1456.49,890.86 L1454.86,895.86 L1453.16,900.85 L1309.01,853.88 L1310.15,850.53 L1311.25,847.16 L1312.31,843.79 L1313.33,840.40Z" fill="#8cc63a"/>
<path d="M1479.04,886.18 L1477.46,891.44 L1475.81,896.68 L1474.11,901.90 L1472.34,907.10 L1453.16,900.85 L1454.86,895.86 L1456.49,890.86 L1458.07,885.84 L1459.58,880.81Z" fill="#f18a22"/>
<path d="M1479.71,886.37 L1478.13,891.63 L1476.48,896.88 L1474.77,902.10 L1473.00,907.31 L1472.34,907.10 L1474.11,901.90 L1475.81,896.68 L1477.46,891.44 L1479.04,886.18Z" fill="#e62a3c"/>
<path d="M1491.12,889.52 L1489.49,894.91 L1487.81,900.28 L1486.06,905.64 L1484.24,910.98 L1473.00,907.31 L1474.77,902.10 L1476.48,896.88 L1478.13,891.63 L1479.71,886.37Z" fill="#c4c4c8"/>
<path d="M1276.97,845.42 L1275.90,848.40 L1274.79,851.36 L1273.64,854.31 L1272.45,857.25 L1150.88,810.47 L1151.51,808.91 L1152.12,807.34 L1152.71,805.77 L1153.29,804.19Z" fill="#3b8f2f"/>
<path d="M1443.54,900.96 L1441.79,905.81 L1439.97,910.65 L1438.10,915.46 L1436.17,920.25 L1272.45,857.25 L1273.64,854.31 L1274.79,851.36 L1275.90,848.40 L1276.97,845.42Z" fill="#8cc63a"/>
<path d="M1470.59,909.98 L1468.72,915.14 L1466.79,920.27 L1464.80,925.39 L1462.75,930.48 L1436.17,920.25 L1438.10,915.46 L1439.97,910.65 L1441.79,905.81 L1443.54,900.96Z" fill="#f18a22"/>
<path d="M1471.25,910.20 L1469.38,915.36 L1467.45,920.51 L1465.45,925.63 L1463.40,930.73 L1462.75,930.48 L1464.80,925.39 L1466.79,920.27 L1468.72,915.14 L1470.59,909.98Z" fill="#e62a3c"/>
<path d="M1483.12,914.15 L1481.21,919.46 L1479.22,924.73 L1477.18,929.99 L1475.07,935.22 L1463.40,930.73 L1465.45,925.63 L1467.45,920.51 L1469.38,915.36 L1471.25,910.20Z" fill="#c4c4c8"/>
<path d="M1292.74,867.25 L1291.40,870.40 L1290.02,873.54 L1288.61,876.66 L1287.15,879.77 L1147.76,817.54 L1148.47,816.02 L1149.17,814.48 L1149.84,812.94 L1150.50,811.40Z" fill="#3b8f2f"/>
<path d="M1441.45,925.65 L1439.40,930.48 L1437.29,935.28 L1435.12,940.06 L1432.89,944.82 L1287.15,879.77 L1288.61,876.66 L1290.02,873.54 L1291.40,870.40 L1292.74,867.25Z" fill="#8cc63a"/>
<path d="M1465.70,935.17 L1463.53,940.27 L1461.30,945.35 L1459.00,950.40 L1456.65,955.43 L1432.89,944.82 L1435.12,940.06 L1437.29,935.28 L1439.40,930.48 L1441.45,925.65Z" fill="#f18a22"/>
<path d="M1466.34,935.42 L1464.17,940.53 L1461.94,945.62 L1459.64,950.68 L1457.29,955.71 L1456.65,955.43 L1459.00,950.40 L1461.30,945.35 L1463.53,940.27 L1465.70,935.17Z" fill="#e62a3c"/>
<path d="M1473.78,938.34 L1471.57,943.53 L1469.30,948.70 L1466.97,953.85 L1464.57,958.96 L1457.29,955.71 L1459.64,950.68 L1461.94,945.62 L1464.17,940.53 L1466.34,935.42Z" fill="#c4c4c8"/>
<path d="M1261.01,870.13 L1259.63,872.92 L1258.23,875.70 L1256.79,878.46 L1255.31,881.21 L1144.24,824.44 L1145.04,822.96 L1145.82,821.46 L1146.58,819.96 L1147.32,818.45Z" fill="#3b8f2f"/>
<path d="M1431.53,947.65 L1429.21,952.37 L1426.84,957.06 L1424.41,961.72 L1421.92,966.35 L1255.31,881.21 L1256.79,878.46 L1258.23,875.70 L1259.63,872.92 L1261.01,870.13Z" fill="#8cc63a"/>
<path d="M1452.06,956.98 L1449.63,961.93 L1447.14,966.85 L1444.59,971.74 L1441.98,976.60 L1421.92,966.35 L1424.41,961.72 L1426.84,957.06 L1429.21,952.37 L1431.53,947.65Z" fill="#f18a22"/>
<path d="M1452.69,957.27 L1450.25,962.22 L1447.76,967.15 L1445.21,972.05 L1442.59,976.92 L1441.98,976.60 L1444.59,971.74 L1447.14,966.85 L1449.63,961.93 L1452.06,956.98Z" fill="#e62a3c"/>
<path d="M1463.11,962.01 L1460.62,967.08 L1458.06,972.12 L1455.45,977.14 L1452.78,982.12 L1442.59,976.92 L1445.21,972.05 L1447.76,967.15 L1450.25,962.22 L1452.69,957.27Z" fill="#c4c4c8"/>
<path d="M1251.34,881.24 L1249.84,883.93 L1248.30,886.59 L1246.73,889.24 L1245.13,891.87 L1140.35,831.15 L1141.23,829.71 L1142.09,828.26 L1142.93,826.80 L1143.76,825.33Z" fill="#3b8f2f"/>
<path d="M1408.11,962.72 L1405.62,967.17 L1403.06,971.59 L1400.46,975.98 L1397.80,980.35 L1245.13,891.87 L1246.73,889.24 L1248.30,886.59 L1249.84,883.93 L1251.34,881.24Z" fill="#8cc63a"/>
<path d="M1437.01,977.74 L1434.33,982.51 L1431.59,987.26 L1428.79,991.97 L1425.94,996.65 L1397.80,980.35 L1400.46,975.98 L1403.06,971.59 L1405.62,967.17 L1408.11,962.72Z" fill="#f18a22"/>
<path d="M1437.62,978.06 L1434.94,982.84 L1432.20,987.59 L1429.40,992.31 L1426.54,997.00 L1425.94,996.65 L1428.79,991.97 L1431.59,987.26 L1434.33,982.51 L1437.01,977.74Z" fill="#e62a3c"/>
<path d="M1451.15,985.09 L1448.38,990.02 L1445.55,994.92 L1442.66,999.79 L1439.71,1004.63 L1426.54,997.00 L1429.40,992.31 L1432.20,987.59 L1434.94,982.84 L1437.62,978.06Z" fill="#c4c4c8"/>
<path d="M1249.40,910.59 L1247.54,913.25 L1245.65,915.89 L1243.73,918.51 L1241.78,921.10 L1132.36,842.77 L1133.38,841.42 L1134.38,840.06 L1135.37,838.68 L1136.34,837.29Z" fill="#3b8f2f"/>
<path d="M1374.07,991.41 L1371.23,995.47 L1368.34,999.50 L1365.40,1003.50 L1362.41,1007.47 L1241.78,921.10 L1243.73,918.51 L1245.65,915.89 L1247.54,913.25 L1249.40,910.59Z" fill="#8cc63a"/>
<path d="M1411.76,1015.84 L1408.62,1020.33 L1405.43,1024.78 L1402.18,1029.20 L1398.88,1033.58 L1362.41,1007.47 L1365.40,1003.50 L1368.34,999.50 L1371.23,995.47 L1374.07,991.41Z" fill="#f18a22"/>
<path d="M1419.00,1020.54 L1415.81,1025.11 L1412.56,1029.64 L1409.26,1034.14 L1405.90,1038.60 L1398.88,1033.58 L1402.18,1029.20 L1405.43,1024.78 L1408.62,1020.33 L1411.76,1015.84Z" fill="#e62a3c"/>
<path d="M1426.25,1025.24 L1423.00,1029.89 L1419.69,1034.51 L1416.33,1039.08 L1412.91,1043.62 L1405.90,1038.60 L1409.26,1034.14 L1412.56,1029.64 L1415.81,1025.11 L1419.00,1020.54Z" fill="#c4c4c8"/>
<path d="M1223.85,910.48 L1221.99,912.85 L1220.11,915.20 L1218.19,917.53 L1216.25,919.83 L1127.47,848.84 L1128.56,847.54 L1129.64,846.23 L1130.70,844.91 L1131.74,843.57Z" fill="#3b8f2f"/>
<path d="M1348.05,1000.70 L1345.09,1004.47 L1342.10,1008.20 L1339.06,1011.90 L1335.97,1015.57 L1216.25,919.83 L1218.19,917.53 L1220.11,915.20 L1221.99,912.85 L1223.85,910.48Z" fill="#8cc63a"/>
<path d="M1394.10,1034.15 L1390.74,1038.44 L1387.33,1042.68 L1383.87,1046.89 L1380.36,1051.06 L1335.97,1015.57 L1339.06,1011.90 L1342.10,1008.20 L1345.09,1004.47 L1348.05,1000.70Z" fill="#f18a22"/>
<path d="M1401.07,1039.22 L1397.66,1043.58 L1394.19,1047.91 L1390.66,1052.20 L1387.09,1056.44 L1380.36,1051.06 L1383.87,1046.89 L1387.33,1042.68 L1390.74,1038.44 L1394.10,1034.15Z" fill="#e62a3c"/>
<path d="M1410.84,1046.31 L1407.34,1050.79 L1403.78,1055.22 L1400.17,1059.62 L1396.51,1063.97 L1387.09,1056.44 L1390.66,1052.20 L1394.19,1047.91 L1397.66,1043.58 L1401.07,1039.22Z" fill="#c4c4c8"/>
<path d="M1196.36,906.01 L1194.55,908.07 L1192.73,910.11 L1190.88,912.13 L1189.01,914.13 L1122.25,854.64 L1123.41,853.40 L1124.56,852.15 L1125.69,850.88 L1126.81,849.61Z" fill="#3b8f2f"/>
<path d="M1338.12,1021.00 L1334.93,1024.65 L1331.69,1028.27 L1328.40,1031.85 L1325.08,1035.39 L1189.01,914.13 L1190.88,912.13 L1192.73,910.11 L1194.55,908.07 L1196.36,906.01Z" fill="#8cc63a"/>
<path d="M1376.90,1052.45 L1373.33,1056.54 L1369.70,1060.59 L1366.03,1064.60 L1362.31,1068.57 L1325.08,1035.39 L1328.40,1031.85 L1331.69,1028.27 L1334.93,1024.65 L1338.12,1021.00Z" fill="#f18a22"/>
<path d="M1383.59,1057.88 L1379.95,1062.04 L1376.26,1066.17 L1372.52,1070.25 L1368.73,1074.29 L1362.31,1068.57 L1366.03,1064.60 L1369.70,1060.59 L1373.33,1056.54 L1376.90,1052.45Z" fill="#e62a3c"/>
<path d="M1394.29,1066.55 L1390.54,1070.84 L1386.75,1075.09 L1382.90,1079.29 L1379.00,1083.44 L1368.73,1074.29 L1372.52,1070.25 L1376.26,1066.17 L1379.95,1062.04 L1383.59,1057.88Z" fill="#c4c4c8"/>
<path d="M1223.59,947.59 L1221.28,949.95 L1218.95,952.29 L1216.59,954.60 L1214.21,956.89 L1116.72,860.16 L1117.95,858.99 L1119.16,857.80 L1120.36,856.59 L1121.55,855.37Z" fill="#3b8f2f"/>
<path d="M1339.65,1052.48 L1336.08,1056.15 L1332.46,1059.78 L1328.80,1063.37 L1325.10,1066.91 L1214.21,956.89 L1216.59,954.60 L1218.95,952.29 L1221.28,949.95 L1223.59,947.59Z" fill="#8cc63a"/>
<path d="M1371.54,1081.30 L1367.62,1085.32 L1363.65,1089.31 L1359.63,1093.25 L1355.56,1097.14 L1325.10,1066.91 L1328.80,1063.37 L1332.46,1059.78 L1336.08,1056.15 L1339.65,1052.48Z" fill="#f18a22"/>
<path d="M1372.31,1081.99 L1368.37,1086.03 L1364.39,1090.02 L1360.37,1093.96 L1356.29,1097.87 L1355.56,1097.14 L1359.63,1093.25 L1363.65,1089.31 L1367.62,1085.32 L1371.54,1081.30Z" fill="#e62a3c"/>
<path d="M1376.64,1085.91 L1372.66,1089.99 L1368.64,1094.03 L1364.56,1098.03 L1360.43,1101.98 L1356.29,1097.87 L1360.37,1093.96 L1364.39,1090.02 L1368.37,1086.03 L1372.31,1081.99Z" fill="#c4c4c8"/>
<path d="M1201.88,947.29 L1199.58,949.41 L1197.26,951.50 L1194.91,953.57 L1192.54,955.61 L1110.89,865.39 L1112.18,864.28 L1113.46,863.15 L1114.73,862.01 L1115.98,860.86Z" fill="#3b8f2f"/>
<path d="M1307.13,1053.19 L1303.55,1056.49 L1299.93,1059.75 L1296.28,1062.97 L1292.58,1066.15 L1192.54,955.61 L1194.91,953.57 L1197.26,951.50 L1199.58,949.41 L1201.88,947.29Z" fill="#8cc63a"/>
<path d="M1336.17,1082.40 L1332.24,1086.03 L1328.26,1089.62 L1324.24,1093.15 L1320.18,1096.65 L1292.58,1066.15 L1296.28,1062.97 L1299.93,1059.75 L1303.55,1056.49 L1307.13,1053.19Z" fill="#f18a22"/>
<path d="M1343.43,1089.71 L1339.41,1093.42 L1335.34,1097.08 L1331.23,1100.70 L1327.08,1104.27 L1320.18,1096.65 L1324.24,1093.15 L1328.26,1089.62 L1332.24,1086.03 L1336.17,1082.40Z" fill="#e62a3c"/>
<path d="M1357.95,1104.31 L1353.75,1108.19 L1349.50,1112.01 L1345.21,1115.79 L1340.87,1119.52 L1327.08,1104.27 L1331.23,1100.70 L1335.34,1097.08 L1339.41,1093.42 L1343.43,1089.71Z" fill="#c4c4c8"/>
<path d="M1184.26,949.14 L1181.94,951.06 L1179.60,952.96 L1177.23,954.82 L1174.85,956.67 L1104.78,870.31 L1106.13,869.27 L1107.47,868.21 L1108.80,867.14 L1110.11,866.05Z" fill="#3b8f2f"/>
<path d="M1293.77,1071.87 L1289.97,1075.02 L1286.13,1078.12 L1282.25,1081.19 L1278.33,1084.21 L1174.85,956.67 L1177.23,954.82 L1179.60,952.96 L1181.94,951.06 L1184.26,949.14Z" fill="#8cc63a"/>
<path d="M1315.45,1096.16 L1311.35,1099.55 L1307.21,1102.90 L1303.03,1106.20 L1298.81,1109.45 L1278.33,1084.21 L1282.25,1081.19 L1286.13,1078.12 L1289.97,1075.02 L1293.77,1071.87Z" fill="#f18a22"/>
<path d="M1322.29,1103.83 L1318.10,1107.30 L1313.87,1110.72 L1309.59,1114.09 L1305.28,1117.42 L1298.81,1109.45 L1303.03,1106.20 L1307.21,1102.90 L1311.35,1099.55 L1315.45,1096.16Z" fill="#e62a3c"/>
<path d="M1338.26,1121.72 L1333.85,1125.37 L1329.40,1128.97 L1324.91,1132.52 L1320.37,1136.02 L1305.28,1117.42 L1309.59,1114.09 L1313.87,1110.72 L1318.10,1107.30 L1322.29,1103.83Z" fill="#c4c4c8"/>
<path d="M1164.86,947.07 L1162.57,948.77 L1160.26,950.44 L1157.92,952.09 L1155.57,953.71 L1098.41,874.90 L1099.81,873.93 L1101.21,872.95 L1102.59,871.94 L1103.97,870.92Z" fill="#3b8f2f"/>
<path d="M1268.50,1076.64 L1264.64,1079.50 L1260.74,1082.32 L1256.81,1085.10 L1252.85,1087.83 L1155.57,953.71 L1157.92,952.09 L1160.26,950.44 L1162.57,948.77 L1164.86,947.07Z" fill="#8cc63a"/>
<path d="M1294.14,1108.70 L1289.89,1111.85 L1285.60,1114.95 L1281.28,1118.01 L1276.92,1121.01 L1252.85,1087.83 L1256.81,1085.10 L1260.74,1082.32 L1264.64,1079.50 L1268.50,1076.64Z" fill="#f18a22"/>
<path d="M1299.48,1115.38 L1295.15,1118.59 L1290.78,1121.75 L1286.38,1124.86 L1281.94,1127.93 L1276.92,1121.01 L1281.28,1118.01 L1285.60,1114.95 L1289.89,1111.85 L1294.14,1108.70Z" fill="#e62a3c"/>
<path d="M1317.64,1138.09 L1313.04,1141.50 L1308.39,1144.86 L1303.71,1148.17 L1298.99,1151.43 L1281.94,1127.93 L1286.38,1124.86 L1290.78,1121.75 L1295.15,1118.59 L1299.48,1115.38Z" fill="#c4c4c8"/>
<path d="M1146.21,943.55 L1143.96,945.05 L1141.70,946.51 L1139.41,947.95 L1137.11,949.36 L1091.79,879.16 L1093.25,878.26 L1094.70,877.35 L1096.13,876.42 L1097.56,875.47Z" fill="#3b8f2f"/>
<path d="M1246.50,1083.88 L1242.55,1086.50 L1238.58,1089.07 L1234.57,1091.59 L1230.53,1094.07 L1137.11,949.36 L1139.41,947.95 L1141.70,946.51 L1143.96,945.05 L1146.21,943.55Z" fill="#8cc63a"/>
<path d="M1275.29,1124.18 L1270.86,1127.11 L1266.39,1130.00 L1261.89,1132.84 L1257.35,1135.62 L1230.53,1094.07 L1234.57,1091.59 L1238.58,1089.07 L1242.55,1086.50 L1246.50,1083.88Z" fill="#f18a22"/>
<path d="M1279.26,1129.73 L1274.76,1132.72 L1270.23,1135.65 L1265.66,1138.53 L1261.05,1141.35 L1257.35,1135.62 L1261.89,1132.84 L1266.39,1130.00 L1270.86,1127.11 L1275.29,1124.18Z" fill="#e62a3c"/>
<path d="M1296.14,1153.35 L1291.36,1156.52 L1286.53,1159.64 L1281.67,1162.70 L1276.78,1165.71 L1261.05,1141.35 L1265.66,1138.53 L1270.23,1135.65 L1274.76,1132.72 L1279.26,1129.73Z" fill="#c4c4c8"/>
<path d="M1142.13,960.27 L1139.68,961.71 L1137.21,963.13 L1134.73,964.51 L1132.23,965.87 L1084.94,883.06 L1086.45,882.24 L1087.95,881.41 L1089.43,880.56 L1090.91,879.69Z" fill="#3b8f2f"/>
<path d="M1233.59,1104.17 L1229.40,1106.63 L1225.18,1109.05 L1220.94,1111.43 L1216.66,1113.75 L1132.23,965.87 L1134.73,964.51 L1137.21,963.13 L1139.68,961.71 L1142.13,960.27Z" fill="#8cc63a"/>
<path d="M1256.46,1140.14 L1251.83,1142.86 L1247.18,1145.53 L1242.49,1148.15 L1237.77,1150.72 L1216.66,1113.75 L1220.94,1111.43 L1225.18,1109.05 L1229.40,1106.63 L1233.59,1104.17Z" fill="#f18a22"/>
<path d="M1260.11,1145.90 L1255.42,1148.66 L1250.69,1151.37 L1245.94,1154.03 L1241.15,1156.63 L1237.77,1150.72 L1242.49,1148.15 L1247.18,1145.53 L1251.83,1142.86 L1256.46,1140.14Z" fill="#e62a3c"/>
<path d="M1273.83,1167.48 L1268.88,1170.40 L1263.89,1173.26 L1258.87,1176.07 L1253.81,1178.81 L1241.15,1156.63 L1245.94,1154.03 L1250.69,1151.37 L1255.42,1148.66 L1260.11,1145.90Z" fill="#c4c4c8"/>
<path d="M1155.73,1011.21 L1152.67,1012.80 L1149.59,1014.36 L1146.48,1015.88 L1143.36,1017.37 L1077.89,886.61 L1079.44,885.87 L1080.98,885.11 L1082.52,884.34 L1084.04,883.54Z" fill="#3b8f2f"/>
<path d="M1232.43,1147.77 L1227.72,1150.22 L1222.97,1152.62 L1218.20,1154.97 L1213.40,1157.26 L1143.36,1017.37 L1146.48,1015.88 L1149.59,1014.36 L1152.67,1012.80 L1155.73,1011.21Z" fill="#8cc63a"/>
<path d="M1245.77,1171.52 L1240.77,1174.12 L1235.74,1176.67 L1230.68,1179.15 L1225.58,1181.58 L1213.40,1157.26 L1218.20,1154.97 L1222.97,1152.62 L1227.72,1150.22 L1232.43,1147.77Z" fill="#f18a22"/>
<path d="M1246.60,1173.01 L1241.59,1175.62 L1236.54,1178.17 L1231.46,1180.67 L1226.35,1183.10 L1225.58,1181.58 L1230.68,1179.15 L1235.74,1176.67 L1240.77,1174.12 L1245.77,1171.52Z" fill="#e62a3c"/>
<path d="M1250.77,1180.43 L1245.66,1183.09 L1240.52,1185.68 L1235.35,1188.23 L1230.15,1190.71 L1226.35,1183.10 L1231.46,1180.67 L1236.54,1178.17 L1241.59,1175.62 L1246.60,1173.01Z" fill="#c4c4c8"/>
<path d="M1133.70,1032.76 L1130.38,1034.10 L1127.04,1035.40 L1123.69,1036.67 L1120.32,1037.90 L1064.64,892.08 L1066.26,891.49 L1067.87,890.88 L1069.47,890.26 L1071.06,889.61Z" fill="#3b8f2f"/>
<path d="M1186.40,1153.18 L1181.63,1155.11 L1176.83,1156.99 L1172.01,1158.81 L1167.16,1160.58 L1120.32,1037.90 L1123.69,1036.67 L1127.04,1035.40 L1130.38,1034.10 L1133.70,1032.76Z" fill="#8cc63a"/>
<path d="M1196.34,1175.90 L1191.29,1177.94 L1186.22,1179.92 L1181.12,1181.85 L1176.00,1183.72 L1167.16,1160.58 L1172.01,1158.81 L1176.83,1156.99 L1181.63,1155.11 L1186.40,1153.18Z" fill="#f18a22"/>
<path d="M1199.07,1182.12 L1193.94,1184.19 L1188.79,1186.21 L1183.62,1188.16 L1178.42,1190.06 L1176.00,1183.72 L1181.12,1181.85 L1186.22,1179.92 L1191.29,1177.94 L1196.34,1175.90Z" fill="#e62a3c"/>
<path d="M1207.24,1200.79 L1201.88,1202.96 L1196.51,1205.06 L1191.11,1207.10 L1185.68,1209.08 L1178.42,1190.06 L1183.62,1188.16 L1188.79,1186.21 L1193.94,1184.19 L1199.07,1182.12Z" fill="#c4c4c8"/>
<path d="M1102.50,996.35 L1099.62,997.34 L1096.73,998.30 L1093.82,999.23 L1090.91,1000.12 L1057.12,894.56 L1058.77,894.05 L1060.41,893.53 L1062.04,892.99 L1063.67,892.43Z" fill="#3b8f2f"/>
<path d="M1163.43,1159.39 L1158.58,1161.06 L1153.71,1162.67 L1148.82,1164.23 L1143.91,1165.74 L1090.91,1000.12 L1093.82,999.23 L1096.73,998.30 L1099.62,997.34 L1102.50,996.35Z" fill="#8cc63a"/>
<path d="M1175.30,1191.17 L1170.07,1192.97 L1164.82,1194.71 L1159.54,1196.40 L1154.25,1198.02 L1143.91,1165.74 L1148.82,1164.23 L1153.71,1162.67 L1158.58,1161.06 L1163.43,1159.39Z" fill="#f18a22"/>
<path d="M1177.08,1195.93 L1171.79,1197.76 L1166.48,1199.52 L1161.15,1201.22 L1155.80,1202.86 L1154.25,1198.02 L1159.54,1196.40 L1164.82,1194.71 L1170.07,1192.97 L1175.30,1191.17Z" fill="#e62a3c"/>
<path d="M1182.43,1210.23 L1176.97,1212.12 L1171.48,1213.94 L1165.97,1215.69 L1160.45,1217.39 L1155.80,1202.86 L1161.15,1201.22 L1166.48,1199.52 L1171.79,1197.76 L1177.08,1195.93Z" fill="#c4c4c8"/>
<path d="M1090.17,1003.88 L1087.20,1004.73 L1084.22,1005.55 L1081.22,1006.34 L1078.22,1007.09 L1049.47,896.64 L1051.14,896.22 L1052.81,895.78 L1054.47,895.33 L1056.13,894.85Z" fill="#3b8f2f"/>
<path d="M1136.53,1152.37 L1131.77,1153.74 L1126.99,1155.05 L1122.19,1156.31 L1117.38,1157.52 L1078.22,1007.09 L1081.22,1006.34 L1084.22,1005.55 L1087.20,1004.73 L1090.17,1003.88Z" fill="#8cc63a"/>
<path d="M1148.04,1189.26 L1142.84,1190.75 L1137.61,1192.19 L1132.37,1193.56 L1127.11,1194.88 L1117.38,1157.52 L1122.19,1156.31 L1126.99,1155.05 L1131.77,1153.74 L1136.53,1152.37Z" fill="#f18a22"/>
<path d="M1148.35,1190.23 L1143.13,1191.72 L1137.89,1193.16 L1132.64,1194.54 L1127.37,1195.86 L1127.11,1194.88 L1132.37,1193.56 L1137.61,1192.19 L1142.84,1190.75 L1148.04,1189.26Z" fill="#e62a3c"/>
<path d="M1157.13,1218.37 L1151.57,1219.97 L1146.00,1221.50 L1140.40,1222.97 L1134.79,1224.38 L1127.37,1195.86 L1132.64,1194.54 L1137.89,1193.16 L1143.13,1191.72 L1148.35,1190.23Z" fill="#c4c4c8"/>
<path d="M1069.21,978.96 L1066.54,979.58 L1063.86,980.16 L1061.18,980.72 L1058.49,981.25 L1041.72,898.32 L1043.41,897.99 L1045.10,897.64 L1046.79,897.27 L1048.47,896.88Z" fill="#3b8f2f"/>
<path d="M1114.00,1156.24 L1109.20,1157.35 L1104.38,1158.41 L1099.54,1159.41 L1094.70,1160.36 L1058.49,981.25 L1061.18,980.72 L1063.86,980.16 L1066.54,979.58 L1069.21,978.96Z" fill="#8cc63a"/>
<path d="M1123.13,1192.36 L1117.89,1193.57 L1112.63,1194.72 L1107.36,1195.81 L1102.07,1196.85 L1094.70,1160.36 L1099.54,1159.41 L1104.38,1158.41 L1109.20,1157.35 L1114.00,1156.24Z" fill="#f18a22"/>
<path d="M1123.96,1195.64 L1118.68,1196.86 L1113.38,1198.02 L1108.07,1199.12 L1102.74,1200.17 L1102.07,1196.85 L1107.36,1195.81 L1112.63,1194.72 L1117.89,1193.57 L1123.13,1192.36Z" fill="#e62a3c"/>
<path d="M1131.43,1225.19 L1125.79,1226.49 L1120.13,1227.73 L1114.46,1228.91 L1108.78,1230.02 L1102.74,1200.17 L1108.07,1199.12 L1113.38,1198.02 L1118.68,1196.86 L1123.96,1195.64Z" fill="#c4c4c8"/>
<path d="M1066.12,1029.04 L1062.85,1029.62 L1059.57,1030.16 L1056.28,1030.67 L1052.99,1031.14 L1033.89,899.60 L1035.60,899.36 L1037.30,899.09 L1039.01,898.81 L1040.71,898.51Z" fill="#3b8f2f"/>
<path d="M1096.32,1184.15 L1091.18,1185.06 L1086.03,1185.91 L1080.86,1186.71 L1075.69,1187.44 L1052.99,1031.14 L1056.28,1030.67 L1059.57,1030.16 L1062.85,1029.62 L1066.12,1029.04Z" fill="#8cc63a"/>
<path d="M1101.82,1212.38 L1096.34,1213.35 L1090.84,1214.26 L1085.34,1215.11 L1079.82,1215.89 L1075.69,1187.44 L1080.86,1186.71 L1086.03,1185.91 L1091.18,1185.06 L1096.32,1184.15Z" fill="#f18a22"/>
<path d="M1102.79,1217.37 L1097.25,1218.35 L1091.69,1219.27 L1086.13,1220.12 L1080.55,1220.91 L1079.82,1215.89 L1085.34,1215.11 L1090.84,1214.26 L1096.34,1213.35 L1101.82,1212.38Z" fill="#e62a3c"/>
<path d="M1105.38,1230.65 L1099.67,1231.66 L1093.96,1232.61 L1088.23,1233.49 L1082.50,1234.30 L1080.55,1220.91 L1086.13,1220.12 L1091.69,1219.27 L1097.25,1218.35 L1102.79,1217.37Z" fill="#c4c4c8"/>
<path d="M1049.03,1016.99 L1045.91,1017.38 L1042.78,1017.73 L1039.64,1018.05 L1036.50,1018.33 L1025.99,900.47 L1027.72,900.31 L1029.43,900.14 L1031.15,899.95 L1032.86,899.74Z" fill="#3b8f2f"/>
<path d="M1067.42,1150.33 L1062.69,1150.92 L1057.95,1151.45 L1053.20,1151.93 L1048.45,1152.35 L1036.50,1018.33 L1039.64,1018.05 L1042.78,1017.73 L1045.91,1017.38 L1049.03,1016.99Z" fill="#8cc63a"/>
<path d="M1074.35,1200.59 L1069.01,1201.25 L1063.67,1201.85 L1058.31,1202.39 L1052.95,1202.87 L1048.45,1152.35 L1053.20,1151.93 L1057.95,1151.45 L1062.69,1150.92 L1067.42,1150.33Z" fill="#f18a22"/>
<path d="M1074.91,1204.61 L1069.52,1205.27 L1064.12,1205.88 L1058.72,1206.42 L1053.31,1206.91 L1052.95,1202.87 L1058.31,1202.39 L1063.67,1201.85 L1069.01,1201.25 L1074.35,1200.59Z" fill="#e62a3c"/>
<path d="M1079.06,1234.76 L1073.31,1235.47 L1067.55,1236.12 L1061.79,1236.70 L1056.01,1237.21 L1053.31,1206.91 L1058.72,1206.42 L1064.12,1205.88 L1069.52,1205.27 L1074.91,1204.61Z" fill="#c4c4c8"/>
<path d="M1031.86,984.79 L1029.13,984.98 L1026.39,985.14 L1023.64,985.28 L1020.90,985.38 L1018.07,900.92 L1019.79,900.86 L1021.52,900.78 L1023.24,900.67 L1024.97,900.55Z" fill="#3b8f2f"/>
<path d="M1045.77,1154.60 L1040.99,1154.94 L1036.20,1155.23 L1031.41,1155.46 L1026.62,1155.64 L1020.90,985.38 L1023.64,985.28 L1026.39,985.14 L1029.13,984.98 L1031.86,984.79Z" fill="#8cc63a"/>
<path d="M1049.83,1204.13 L1044.45,1204.52 L1039.06,1204.84 L1033.68,1205.10 L1028.29,1205.30 L1026.62,1155.64 L1031.41,1155.46 L1036.20,1155.23 L1040.99,1154.94 L1045.77,1154.60Z" fill="#f18a22"/>
<path d="M1049.88,1204.81 L1044.50,1205.19 L1039.10,1205.51 L1033.71,1205.78 L1028.31,1205.98 L1028.29,1205.30 L1033.68,1205.10 L1039.06,1204.84 L1044.45,1204.52 L1049.83,1204.13Z" fill="#e62a3c"/>
<path d="M1052.56,1237.49 L1046.78,1237.90 L1040.99,1238.25 L1035.20,1238.53 L1029.41,1238.75 L1028.31,1205.98 L1033.71,1205.78 L1039.10,1205.51 L1044.50,1205.19 L1049.88,1204.81Z" fill="#c4c4c8"/>
<path d="M1018.86,970.22 L1016.30,970.27 L1013.74,970.29 L1011.17,970.28 L1008.61,970.24 L1010.12,900.97 L1011.85,900.99 L1013.58,901.00 L1015.31,900.99 L1017.03,900.95Z" fill="#3b8f2f"/>
<path d="M1023.14,1132.41 L1018.62,1132.49 L1014.11,1132.53 L1009.59,1132.51 L1005.08,1132.45 L1008.61,970.24 L1011.17,970.28 L1013.74,970.29 L1016.30,970.27 L1018.86,970.22Z" fill="#8cc63a"/>
<path d="M1024.73,1192.89 L1019.49,1192.99 L1014.25,1193.03 L1009.00,1193.01 L1003.76,1192.93 L1005.08,1132.45 L1009.59,1132.51 L1014.11,1132.53 L1018.62,1132.49 L1023.14,1132.41Z" fill="#f18a22"/>
<path d="M1024.98,1202.35 L1019.63,1202.45 L1014.27,1202.49 L1008.91,1202.48 L1003.55,1202.40 L1003.76,1192.93 L1009.00,1193.01 L1014.25,1193.03 L1019.49,1192.99 L1024.73,1192.89Z" fill="#e62a3c"/>
<path d="M1025.95,1238.84 L1020.15,1238.95 L1014.35,1239.00 L1008.55,1238.98 L1002.76,1238.89 L1003.55,1202.40 L1008.91,1202.48 L1014.27,1202.49 L1019.63,1202.45 L1024.98,1202.35Z" fill="#c4c4c8"/>
<path d="M1005.73,1016.83 L1002.61,1016.73 L999.49,1016.59 L996.37,1016.42 L993.25,1016.21 L1002.19,900.60 L1003.91,900.71 L1005.64,900.81 L1007.36,900.89 L1009.09,900.94Z" fill="#3b8f2f"/>
<path d="M1001.13,1175.63 L996.09,1175.46 L991.06,1175.24 L986.03,1174.96 L981.01,1174.63 L993.25,1016.21 L996.37,1016.42 L999.49,1016.59 L1002.61,1016.73 L1005.73,1016.83Z" fill="#8cc63a"/>
<path d="M1000.00,1214.48 L994.50,1214.30 L989.00,1214.06 L983.50,1213.75 L978.01,1213.39 L981.01,1174.63 L986.03,1174.96 L991.06,1175.24 L996.09,1175.46 L1001.13,1175.63Z" fill="#f18a22"/>
<path d="M999.81,1220.90 L994.23,1220.72 L988.66,1220.47 L983.08,1220.16 L977.52,1219.79 L978.01,1213.39 L983.50,1213.75 L989.00,1214.06 L994.50,1214.30 L1000.00,1214.48Z" fill="#e62a3c"/>
<path d="M999.29,1238.81 L993.50,1238.62 L987.71,1238.36 L981.92,1238.04 L976.14,1237.66 L977.52,1219.79 L983.08,1220.16 L988.66,1220.47 L994.23,1220.72 L999.81,1220.90Z" fill="#c4c4c8"/>
<path d="M980.50,1009.20 L977.47,1008.81 L974.45,1008.39 L971.43,1007.93 L968.42,1007.44 L987.89,898.88 L989.59,899.16 L991.30,899.42 L993.01,899.65 L994.72,899.87Z" fill="#3b8f2f"/>
<path d="M960.25,1164.80 L955.35,1164.17 L950.46,1163.49 L945.58,1162.75 L940.70,1161.96 L968.42,1007.44 L971.43,1007.93 L974.45,1008.39 L977.47,1008.81 L980.50,1009.20Z" fill="#8cc63a"/>
<path d="M954.84,1206.38 L949.44,1205.69 L944.05,1204.94 L938.67,1204.12 L933.30,1203.25 L940.70,1161.96 L945.58,1162.75 L950.46,1163.49 L955.35,1164.17 L960.25,1164.80Z" fill="#f18a22"/>
<path d="M954.15,1211.74 L948.68,1211.04 L943.22,1210.28 L937.78,1209.46 L932.34,1208.58 L933.30,1203.25 L938.67,1204.12 L944.05,1204.94 L949.44,1205.69 L954.84,1206.38Z" fill="#e62a3c"/>
<path d="M951.09,1235.22 L945.34,1234.48 L939.61,1233.68 L933.88,1232.82 L928.16,1231.89 L932.34,1208.58 L937.78,1209.46 L943.22,1210.28 L948.68,1211.04 L954.15,1211.74Z" fill="#c4c4c8"/>
<path d="M971.34,981.85 L968.64,981.37 L965.95,980.85 L963.27,980.30 L960.59,979.72 L980.10,897.36 L981.79,897.72 L983.48,898.07 L985.18,898.40 L986.87,898.71Z" fill="#3b8f2f"/>
<path d="M940.90,1144.83 L936.24,1143.98 L931.59,1143.09 L926.96,1142.14 L922.33,1141.13 L960.59,979.72 L963.27,980.30 L965.95,980.85 L968.64,981.37 L971.34,981.85Z" fill="#8cc63a"/>
<path d="M930.96,1198.04 L925.66,1197.08 L920.37,1196.06 L915.10,1194.98 L909.84,1193.84 L922.33,1141.13 L926.96,1142.14 L931.59,1143.09 L936.24,1143.98 L940.90,1144.83Z" fill="#f18a22"/>
<path d="M930.03,1203.03 L924.67,1202.06 L919.32,1201.03 L913.99,1199.94 L908.67,1198.78 L909.84,1193.84 L915.10,1194.98 L920.37,1196.06 L925.66,1197.08 L930.96,1198.04Z" fill="#e62a3c"/>
<path d="M924.75,1231.30 L919.05,1230.27 L913.36,1229.17 L907.69,1228.01 L902.03,1226.78 L908.67,1198.78 L913.99,1199.94 L919.32,1201.03 L924.67,1202.06 L930.03,1203.03Z" fill="#c4c4c8"/>
<path d="M957.14,986.92 L954.38,986.27 L951.63,985.59 L948.89,984.88 L946.15,984.13 L972.41,895.44 L974.08,895.89 L975.75,896.32 L977.42,896.74 L979.10,897.13Z" fill="#3b8f2f"/>
<path d="M918.77,1143.80 L914.12,1142.70 L909.49,1141.56 L904.87,1140.36 L900.27,1139.11 L946.15,984.13 L948.89,984.88 L951.63,985.59 L954.38,986.27 L957.14,986.92Z" fill="#8cc63a"/>
<path d="M906.14,1195.43 L900.87,1194.19 L895.62,1192.89 L890.39,1191.53 L885.17,1190.12 L900.27,1139.11 L904.87,1140.36 L909.49,1141.56 L914.12,1142.70 L918.77,1143.80Z" fill="#f18a22"/>
<path d="M905.50,1198.07 L900.20,1196.82 L894.92,1195.51 L889.65,1194.14 L884.40,1192.72 L885.17,1190.12 L890.39,1191.53 L895.62,1192.89 L900.87,1194.19 L906.14,1195.43Z" fill="#e62a3c"/>
<path d="M898.66,1226.02 L893.02,1224.69 L887.41,1223.30 L881.81,1221.85 L876.23,1220.33 L884.40,1192.72 L889.65,1194.14 L894.92,1195.51 L900.20,1196.82 L905.50,1198.07Z" fill="#c4c4c8"/>
<path d="M934.38,1017.07 L931.26,1016.16 L928.15,1015.22 L925.05,1014.24 L921.97,1013.22 L964.84,893.12 L966.48,893.65 L968.12,894.17 L969.77,894.67 L971.42,895.16Z" fill="#3b8f2f"/>
<path d="M885.21,1178.86 L880.15,1177.39 L875.10,1175.86 L870.07,1174.26 L865.07,1172.62 L921.97,1013.22 L925.05,1014.24 L928.15,1015.22 L931.26,1016.16 L934.38,1017.07Z" fill="#8cc63a"/>
<path d="M877.33,1204.80 L871.96,1203.24 L866.60,1201.61 L861.26,1199.92 L855.94,1198.17 L865.07,1172.62 L870.07,1174.26 L875.10,1175.86 L880.15,1177.39 L885.21,1178.86Z" fill="#f18a22"/>
<path d="M875.85,1209.67 L870.42,1208.08 L865.00,1206.44 L859.61,1204.73 L854.23,1202.96 L855.94,1198.17 L861.26,1199.92 L866.60,1201.61 L871.96,1203.24 L877.33,1204.80Z" fill="#e62a3c"/>
<path d="M872.90,1219.39 L867.35,1217.78 L861.81,1216.10 L856.30,1214.35 L850.81,1212.55 L854.23,1202.96 L859.61,1204.73 L865.00,1206.44 L870.42,1208.08 L875.85,1209.67Z" fill="#c4c4c8"/>
<path d="M909.77,1040.96 L906.37,1039.77 L902.98,1038.54 L899.60,1037.28 L896.24,1035.97 L957.40,890.41 L959.01,891.03 L960.62,891.63 L962.24,892.22 L963.86,892.79Z" fill="#3b8f2f"/>
<path d="M860.34,1176.39 L855.30,1174.63 L850.29,1172.81 L845.30,1170.94 L840.34,1169.02 L896.24,1035.97 L899.60,1037.28 L902.98,1038.54 L906.37,1039.77 L909.77,1040.96Z" fill="#8cc63a"/>
<path d="M853.36,1195.51 L848.10,1193.67 L842.85,1191.77 L837.64,1189.82 L832.44,1187.80 L840.34,1169.02 L845.30,1170.94 L850.29,1172.81 L855.30,1174.63 L860.34,1176.39Z" fill="#f18a22"/>
<path d="M850.45,1203.47 L845.09,1201.60 L839.76,1199.67 L834.44,1197.68 L829.16,1195.63 L832.44,1187.80 L837.64,1189.82 L842.85,1191.77 L848.10,1193.67 L853.36,1195.51Z" fill="#e62a3c"/>
<path d="M847.54,1211.44 L842.09,1209.53 L836.66,1207.57 L831.25,1205.54 L825.87,1203.45 L829.16,1195.63 L834.44,1197.68 L839.76,1199.67 L845.09,1201.60 L850.45,1203.47Z" fill="#c4c4c8"/>
<path d="M910.29,997.72 L907.41,996.54 L904.54,995.32 L901.68,994.08 L898.84,992.80 L950.13,887.31 L951.70,888.02 L953.27,888.71 L954.86,889.37 L956.45,890.03Z" fill="#3b8f2f"/>
<path d="M846.74,1145.99 L842.08,1144.08 L837.44,1142.12 L832.82,1140.10 L828.22,1138.04 L898.84,992.80 L901.68,994.08 L904.54,995.32 L907.41,996.54 L910.29,997.72Z" fill="#8cc63a"/>
<path d="M828.01,1189.69 L822.82,1187.57 L817.66,1185.38 L812.52,1183.14 L807.41,1180.85 L828.22,1138.04 L832.82,1140.10 L837.44,1142.12 L842.08,1144.08 L846.74,1145.99Z" fill="#f18a22"/>
<path d="M824.67,1197.49 L819.38,1195.33 L814.13,1193.11 L808.89,1190.83 L803.69,1188.49 L807.41,1180.85 L812.52,1183.14 L817.66,1185.38 L822.82,1187.57 L828.01,1189.69Z" fill="#e62a3c"/>
<path d="M822.66,1202.18 L817.32,1199.99 L812.01,1197.75 L806.72,1195.44 L801.46,1193.08 L803.69,1188.49 L808.89,1190.83 L814.13,1193.11 L819.38,1195.33 L824.67,1197.49Z" fill="#c4c4c8"/>
<path d="M896.70,992.94 L893.87,991.60 L891.06,990.24 L888.27,988.84 L885.49,987.41 L943.04,883.85 L944.57,884.63 L946.10,885.40 L947.65,886.15 L949.20,886.88Z" fill="#3b8f2f"/>
<path d="M823.22,1141.35 L818.62,1139.18 L814.03,1136.95 L809.48,1134.67 L804.95,1132.34 L885.49,987.41 L888.27,988.84 L891.06,990.24 L893.87,991.60 L896.70,992.94Z" fill="#8cc63a"/>
<path d="M808.14,1171.83 L803.16,1169.48 L798.22,1167.08 L793.30,1164.62 L788.41,1162.10 L804.95,1132.34 L809.48,1134.67 L814.03,1136.95 L818.62,1139.18 L823.22,1141.35Z" fill="#f18a22"/>
<path d="M804.37,1179.44 L799.30,1177.05 L794.26,1174.61 L789.26,1172.10 L784.28,1169.54 L788.41,1162.10 L793.30,1164.62 L798.22,1167.08 L803.16,1169.48 L808.14,1171.83Z" fill="#e62a3c"/>
<path d="M798.33,1191.63 L793.12,1189.17 L787.94,1186.66 L782.78,1184.08 L777.66,1181.45 L784.28,1169.54 L789.26,1172.10 L794.26,1174.61 L799.30,1177.05 L804.37,1179.44Z" fill="#c4c4c8"/>
<path d="M881.83,990.10 L879.04,988.60 L876.26,987.07 L873.51,985.50 L870.77,983.91 L936.15,880.02 L937.63,880.88 L939.12,881.73 L940.62,882.56 L942.13,883.37Z" fill="#3b8f2f"/>
<path d="M798.07,1138.34 L793.50,1135.88 L788.96,1133.37 L784.45,1130.81 L779.97,1128.20 L870.77,983.91 L873.51,985.50 L876.26,987.07 L879.04,988.60 L881.83,990.10Z" fill="#8cc63a"/>
<path d="M782.99,1165.02 L778.10,1162.39 L773.24,1159.70 L768.42,1156.96 L763.63,1154.17 L779.97,1128.20 L784.45,1130.81 L788.96,1133.37 L793.50,1135.88 L798.07,1138.34Z" fill="#f18a22"/>
<path d="M779.64,1170.95 L774.68,1168.28 L769.75,1165.56 L764.86,1162.77 L759.99,1159.94 L763.63,1154.17 L768.42,1156.96 L773.24,1159.70 L778.10,1162.39 L782.99,1165.02Z" fill="#e62a3c"/>
<path d="M774.62,1179.84 L769.55,1177.12 L764.51,1174.33 L759.51,1171.49 L754.55,1168.60 L759.99,1159.94 L764.86,1162.77 L769.75,1165.56 L774.68,1168.28 L779.64,1170.95Z" fill="#c4c4c8"/>
<path d="M880.17,965.70 L877.67,964.18 L875.19,962.63 L872.73,961.06 L870.29,959.45 L929.48,875.84 L930.91,876.77 L932.35,877.70 L933.81,878.60 L935.27,879.49Z" fill="#3b8f2f"/>
<path d="M793.84,1100.75 L789.72,1098.25 L785.63,1095.69 L781.58,1093.10 L777.55,1090.46 L870.29,959.45 L872.73,961.06 L875.19,962.63 L877.67,964.18 L880.17,965.70Z" fill="#8cc63a"/>
<path d="M768.12,1140.98 L763.52,1138.18 L758.96,1135.33 L754.42,1132.43 L749.93,1129.48 L777.55,1090.46 L781.58,1093.10 L785.63,1095.69 L789.72,1098.25 L793.84,1100.75Z" fill="#f18a22"/>
<path d="M763.53,1148.16 L758.85,1145.31 L754.19,1142.41 L749.58,1139.45 L745.00,1136.45 L749.93,1129.48 L754.42,1132.43 L758.96,1135.33 L763.52,1138.18 L768.12,1140.98Z" fill="#e62a3c"/>
<path d="M751.59,1166.84 L746.68,1163.85 L741.81,1160.81 L736.97,1157.71 L732.17,1154.56 L745.00,1136.45 L749.58,1139.45 L754.19,1142.41 L758.85,1145.31 L763.53,1148.16Z" fill="#c4c4c8"/>
<path d="M857.88,973.74 L855.28,971.97 L852.71,970.17 L850.16,968.34 L847.63,966.48 L923.05,871.31 L924.43,872.33 L925.82,873.32 L927.22,874.30 L928.63,875.27Z" fill="#3b8f2f"/>
<path d="M769.18,1097.18 L765.11,1094.40 L761.07,1091.57 L757.06,1088.69 L753.09,1085.77 L847.63,966.48 L850.16,968.34 L852.71,970.17 L855.28,971.97 L857.88,973.74Z" fill="#8cc63a"/>
<path d="M747.26,1127.69 L742.82,1124.66 L738.42,1121.58 L734.05,1118.44 L729.72,1115.26 L753.09,1085.77 L757.06,1088.69 L761.07,1091.57 L765.11,1094.40 L769.18,1097.18Z" fill="#f18a22"/>
<path d="M742.27,1134.63 L737.75,1131.54 L733.27,1128.40 L728.82,1125.21 L724.41,1121.96 L729.72,1115.26 L734.05,1118.44 L738.42,1121.58 L742.82,1124.66 L747.26,1127.69Z" fill="#e62a3c"/>
<path d="M729.32,1152.66 L724.58,1149.42 L719.88,1146.13 L715.22,1142.79 L710.60,1139.39 L724.41,1121.96 L728.82,1125.21 L733.27,1128.40 L737.75,1131.54 L742.27,1134.63Z" fill="#c4c4c8"/>
<path d="M868.64,937.36 L866.49,935.71 L864.35,934.04 L862.24,932.35 L860.14,930.63 L916.89,866.46 L918.20,867.55 L919.54,868.61 L920.88,869.66 L922.24,870.70Z" fill="#3b8f2f"/>
<path d="M761.46,1070.68 L757.70,1067.81 L753.98,1064.90 L750.30,1061.95 L746.65,1058.95 L860.14,930.63 L862.24,932.35 L864.35,934.04 L866.49,935.71 L868.64,937.36Z" fill="#8cc63a"/>
<path d="M727.16,1113.34 L722.89,1110.08 L718.67,1106.77 L714.48,1103.42 L710.34,1100.02 L746.65,1058.95 L750.30,1061.95 L753.98,1064.90 L757.70,1067.81 L761.46,1070.68Z" fill="#f18a22"/>
<path d="M722.87,1118.67 L718.54,1115.36 L714.25,1112.01 L710.00,1108.60 L705.80,1105.15 L710.34,1100.02 L714.48,1103.42 L718.67,1106.77 L722.89,1110.08 L727.16,1113.34Z" fill="#e62a3c"/>
<path d="M707.86,1137.34 L703.31,1133.86 L698.80,1130.33 L694.33,1126.75 L689.91,1123.12 L705.80,1105.15 L710.00,1108.60 L714.25,1112.01 L718.54,1115.36 L722.87,1118.67Z" fill="#c4c4c8"/>
<path d="M876.06,910.45 L874.23,908.89 L872.41,907.31 L870.62,905.71 L868.85,904.09 L910.99,861.30 L912.25,862.45 L913.52,863.58 L914.81,864.70 L916.10,865.81Z" fill="#3b8f2f"/>
<path d="M767.37,1031.63 L764.09,1028.83 L760.84,1026.00 L757.62,1023.13 L754.44,1020.22 L868.85,904.09 L870.62,905.71 L872.41,907.31 L874.23,908.89 L876.06,910.45Z" fill="#8cc63a"/>
<path d="M719.32,1085.21 L715.39,1081.86 L711.51,1078.47 L707.66,1075.04 L703.86,1071.56 L754.44,1020.22 L757.62,1023.13 L760.84,1026.00 L764.09,1028.83 L767.37,1031.63Z" fill="#f18a22"/>
<path d="M712.45,1092.86 L708.44,1089.44 L704.46,1085.97 L700.53,1082.46 L696.64,1078.90 L703.86,1071.56 L707.66,1075.04 L711.51,1078.47 L715.39,1081.86 L719.32,1085.21Z" fill="#e62a3c"/>
<path d="M687.28,1120.92 L682.93,1117.21 L678.62,1113.45 L674.36,1109.65 L670.14,1105.79 L696.64,1078.90 L700.53,1082.46 L704.46,1085.97 L708.44,1089.44 L712.45,1092.86Z" fill="#c4c4c8"/>
<path d="M873.86,897.04 L872.19,895.45 L870.54,893.85 L868.91,892.22 L867.29,890.58 L905.40,855.84 L906.59,857.05 L907.80,858.25 L909.02,859.44 L910.25,860.61Z" fill="#3b8f2f"/>
<path d="M759.83,1011.18 L756.80,1008.30 L753.80,1005.38 L750.83,1002.43 L747.90,999.45 L867.29,890.58 L868.91,892.22 L870.54,893.85 L872.19,895.45 L873.86,897.04Z" fill="#8cc63a"/>
<path d="M701.61,1069.46 L697.87,1065.92 L694.18,1062.33 L690.53,1058.71 L686.93,1055.04 L747.90,999.45 L750.83,1002.43 L753.80,1005.38 L756.80,1008.30 L759.83,1011.18Z" fill="#f18a22"/>
<path d="M695.54,1075.54 L691.74,1071.92 L687.97,1068.27 L684.25,1064.57 L680.58,1060.83 L686.93,1055.04 L690.53,1058.71 L694.18,1062.33 L697.87,1065.92 L701.61,1069.46Z" fill="#e62a3c"/>
<path d="M667.64,1103.46 L663.50,1099.53 L659.41,1095.56 L655.36,1091.53 L651.36,1087.46 L680.58,1060.83 L684.25,1064.57 L687.97,1068.27 L691.74,1071.92 L695.54,1075.54Z" fill="#c4c4c8"/>
<path d="M833.94,905.14 L832.18,903.10 L830.44,901.04 L828.72,898.97 L827.03,896.87 L896.05,845.22 L897.11,846.54 L898.19,847.84 L899.29,849.14 L900.40,850.42Z" fill="#3b8f2f"/>
<path d="M718.05,1000.56 L715.14,997.21 L712.28,993.82 L709.45,990.40 L706.67,986.95 L827.03,896.87 L828.72,898.97 L830.44,901.04 L832.18,903.10 L833.94,905.14Z" fill="#8cc63a"/>
<path d="M662.50,1046.30 L659.04,1042.32 L655.64,1038.30 L652.28,1034.23 L648.97,1030.13 L706.67,986.95 L709.45,990.40 L712.28,993.82 L715.14,997.21 L718.05,1000.56Z" fill="#f18a22"/>
<path d="M650.53,1056.15 L646.96,1052.03 L643.44,1047.87 L639.97,1043.67 L636.55,1039.43 L648.97,1030.13 L652.28,1034.23 L655.64,1038.30 L659.04,1042.32 L662.50,1046.30Z" fill="#e62a3c"/>
<path d="M634.59,1069.28 L630.86,1064.98 L627.18,1060.64 L623.56,1056.25 L619.99,1051.83 L636.55,1039.43 L639.97,1043.67 L643.44,1047.87 L646.96,1052.03 L650.53,1056.15Z" fill="#c4c4c8"/>
<path d="M831.58,891.51 L829.98,889.45 L828.41,887.37 L826.86,885.27 L825.33,883.16 L891.36,839.00 L892.35,840.37 L893.36,841.74 L894.38,843.09 L895.42,844.42Z" fill="#3b8f2f"/>
<path d="M709.47,981.60 L706.79,978.15 L704.15,974.67 L701.56,971.16 L699.01,967.62 L825.33,883.16 L826.86,885.27 L828.41,887.37 L829.98,889.45 L831.58,891.51Z" fill="#8cc63a"/>
<path d="M645.63,1028.69 L642.39,1024.51 L639.20,1020.30 L636.06,1016.06 L632.98,1011.78 L699.01,967.62 L701.56,971.16 L704.15,974.67 L706.79,978.15 L709.47,981.60Z" fill="#f18a22"/>
<path d="M634.53,1036.88 L631.19,1032.58 L627.91,1028.24 L624.67,1023.87 L621.49,1019.45 L632.98,1011.78 L636.06,1016.06 L639.20,1020.30 L642.39,1024.51 L645.63,1028.69Z" fill="#e62a3c"/>
<path d="M617.88,1049.16 L614.39,1044.67 L610.96,1040.14 L607.59,1035.58 L604.27,1030.97 L621.49,1019.45 L624.67,1023.87 L627.91,1028.24 L631.19,1032.58 L634.53,1036.88Z" fill="#c4c4c8"/>
<path d="M833.08,876.18 L831.67,874.14 L830.28,872.08 L828.91,870.00 L827.57,867.91 L887.03,832.55 L887.94,833.97 L888.87,835.39 L889.82,836.79 L890.78,838.18Z" fill="#3b8f2f"/>
<path d="M699.23,964.35 L696.77,960.79 L694.34,957.20 L691.96,953.58 L689.62,949.93 L827.57,867.91 L828.91,870.00 L830.28,872.08 L831.67,874.14 L833.08,876.18Z" fill="#8cc63a"/>
<path d="M631.16,1009.20 L628.15,1004.86 L625.20,1000.49 L622.30,996.09 L619.45,991.65 L689.62,949.93 L691.96,953.58 L694.34,957.20 L696.77,960.79 L699.23,964.35Z" fill="#f18a22"/>
<path d="M619.62,1016.80 L616.52,1012.33 L613.48,1007.83 L610.49,1003.29 L607.56,998.72 L619.45,991.65 L622.30,996.09 L625.20,1000.49 L628.15,1004.86 L631.16,1009.20Z" fill="#e62a3c"/>
<path d="M602.31,1028.20 L599.08,1023.54 L595.90,1018.84 L592.78,1014.10 L589.72,1009.33 L607.56,998.72 L610.49,1003.29 L613.48,1007.83 L616.52,1012.33 L619.62,1016.80Z" fill="#c4c4c8"/>
<path d="M831.26,864.03 L829.98,861.96 L828.74,859.89 L827.52,857.79 L826.32,855.69 L883.06,825.89 L883.89,827.35 L884.74,828.81 L885.61,830.26 L886.49,831.70Z" fill="#3b8f2f"/>
<path d="M689.43,947.04 L687.17,943.37 L684.96,939.67 L682.79,935.95 L680.66,932.20 L826.32,855.69 L827.52,857.79 L828.74,859.89 L829.98,861.96 L831.26,864.03Z" fill="#8cc63a"/>
<path d="M619.27,988.11 L616.52,983.64 L613.82,979.14 L611.18,974.61 L608.60,970.05 L680.66,932.20 L682.79,935.95 L684.96,939.67 L687.17,943.37 L689.43,947.04Z" fill="#f18a22"/>
<path d="M607.33,995.10 L604.49,990.50 L601.72,985.86 L599.00,981.19 L596.33,976.49 L608.60,970.05 L611.18,974.61 L613.82,979.14 L616.52,983.64 L619.27,988.11Z" fill="#e62a3c"/>
<path d="M587.92,1006.46 L584.95,1001.64 L582.04,996.78 L579.19,991.89 L576.40,986.96 L596.33,976.49 L599.00,981.19 L601.72,985.86 L604.49,990.50 L607.33,995.10Z" fill="#c4c4c8"/>
<path d="M828.70,852.83 L827.57,850.74 L826.46,848.63 L825.37,846.51 L824.31,844.38 L879.46,819.02 L880.21,820.53 L880.98,822.03 L881.76,823.52 L882.57,825.01Z" fill="#3b8f2f"/>
<path d="M679.41,929.95 L677.36,926.16 L675.35,922.35 L673.39,918.52 L671.47,914.67 L824.31,844.38 L825.37,846.51 L826.46,848.63 L827.57,850.74 L828.70,852.83Z" fill="#8cc63a"/>
<path d="M607.08,967.31 L604.58,962.71 L602.14,958.07 L599.75,953.41 L597.42,948.72 L671.47,914.67 L673.39,918.52 L675.35,922.35 L677.36,926.16 L679.41,929.95Z" fill="#f18a22"/>
<path d="M596.30,972.88 L593.74,968.15 L591.23,963.39 L588.78,958.61 L586.39,953.79 L597.42,948.72 L599.75,953.41 L602.14,958.07 L604.58,962.71 L607.08,967.31Z" fill="#e62a3c"/>
<path d="M574.76,984.01 L572.06,979.03 L569.42,974.03 L566.85,969.00 L564.33,963.94 L586.39,953.79 L588.78,958.61 L591.23,963.39 L593.74,968.15 L596.30,972.88Z" fill="#c4c4c8"/>
<path d="M818.95,845.25 L817.91,843.04 L816.89,840.83 L815.90,838.60 L814.94,836.37 L876.25,811.98 L876.91,813.53 L877.60,815.07 L878.30,816.60 L879.02,818.12Z" fill="#3b8f2f"/>
<path d="M670.35,912.35 L668.51,908.47 L666.72,904.56 L664.97,900.63 L663.27,896.68 L814.94,836.37 L815.90,838.60 L816.89,840.83 L817.91,843.04 L818.95,845.25Z" fill="#8cc63a"/>
<path d="M597.63,945.19 L595.40,940.48 L593.23,935.75 L591.11,930.98 L589.05,926.20 L663.27,896.68 L664.97,900.63 L666.72,904.56 L668.51,908.47 L670.35,912.35Z" fill="#f18a22"/>
<path d="M588.15,949.48 L585.87,944.66 L583.64,939.81 L581.47,934.94 L579.37,930.05 L589.05,926.20 L591.11,930.98 L593.23,935.75 L595.40,940.48 L597.63,945.19Z" fill="#e62a3c"/>
<path d="M562.85,960.90 L560.44,955.79 L558.08,950.66 L555.78,945.50 L553.55,940.32 L579.37,930.05 L581.47,934.94 L583.64,939.81 L585.87,944.66 L588.15,949.48Z" fill="#c4c4c8"/>
<path d="M804.66,838.81 L803.70,836.45 L802.76,834.07 L801.86,831.69 L800.98,829.29 L873.43,804.79 L874.01,806.37 L874.61,807.94 L875.22,809.50 L875.86,811.06Z" fill="#3b8f2f"/>
<path d="M655.80,896.84 L654.15,892.79 L652.55,888.72 L650.99,884.63 L649.48,880.53 L800.98,829.29 L801.86,831.69 L802.76,834.07 L803.70,836.45 L804.66,838.81Z" fill="#8cc63a"/>
<path d="M587.84,923.33 L585.88,918.51 L583.97,913.67 L582.12,908.80 L580.32,903.92 L649.48,880.53 L650.99,884.63 L652.55,888.72 L654.15,892.79 L655.80,896.84Z" fill="#f18a22"/>
<path d="M578.14,927.11 L576.12,922.18 L574.17,917.23 L572.28,912.26 L570.44,907.26 L580.32,903.92 L582.12,908.80 L583.97,913.67 L585.88,918.51 L587.84,923.33Z" fill="#e62a3c"/>
<path d="M552.25,937.21 L550.12,931.98 L548.05,926.73 L546.04,921.46 L544.10,916.17 L570.44,907.26 L572.28,912.26 L574.17,917.23 L576.12,922.18 L578.14,927.11Z" fill="#c4c4c8"/>
<path d="M800.47,827.86 L799.63,825.45 L798.83,823.03 L798.05,820.60 L797.31,818.16 L871.01,797.46 L871.51,799.06 L872.02,800.66 L872.54,802.25 L873.09,803.84Z" fill="#3b8f2f"/>
<path d="M653.56,876.43 L652.15,872.36 L650.79,868.27 L649.48,864.16 L648.22,860.04 L797.31,818.16 L798.05,820.60 L798.83,823.03 L799.63,825.45 L800.47,827.86Z" fill="#8cc63a"/>
<path d="M579.28,900.99 L577.58,896.07 L575.94,891.14 L574.36,886.19 L572.85,881.22 L648.22,860.04 L649.48,864.16 L650.79,868.27 L652.15,872.36 L653.56,876.43Z" fill="#f18a22"/>
<path d="M569.38,904.26 L567.64,899.24 L565.96,894.19 L564.35,889.12 L562.79,884.04 L572.85,881.22 L574.36,886.19 L575.94,891.14 L577.58,896.07 L579.28,900.99Z" fill="#e62a3c"/>
<path d="M542.97,913.00 L541.13,907.67 L539.35,902.32 L537.64,896.95 L535.99,891.57 L562.79,884.04 L564.35,889.12 L565.96,894.19 L567.64,899.24 L569.38,904.26Z" fill="#c4c4c8"/>
<path d="M800.24,815.78 L799.55,813.37 L798.89,810.95 L798.26,808.52 L797.66,806.09 L869.01,790.01 L869.41,791.64 L869.83,793.26 L870.27,794.88 L870.73,796.49Z" fill="#3b8f2f"/>
<path d="M645.82,858.03 L644.63,853.87 L643.50,849.70 L642.41,845.51 L641.38,841.31 L797.66,806.09 L798.26,808.52 L798.89,810.95 L799.55,813.37 L800.24,815.78Z" fill="#8cc63a"/>
<path d="M570.29,878.70 L568.86,873.68 L567.49,868.65 L566.18,863.60 L564.93,858.54 L641.38,841.31 L642.41,845.51 L643.50,849.70 L644.63,853.87 L645.82,858.03Z" fill="#f18a22"/>
<path d="M560.22,881.45 L558.75,876.32 L557.35,871.18 L556.02,866.01 L554.74,860.84 L564.93,858.54 L566.18,863.60 L567.49,868.65 L568.86,873.68 L570.29,878.70Z" fill="#e62a3c"/>
<path d="M535.04,888.34 L533.50,882.92 L532.02,877.49 L530.61,872.04 L529.26,866.58 L554.74,860.84 L556.02,866.01 L557.35,871.18 L558.75,876.32 L560.22,881.45Z" fill="#c4c4c8"/>
<path d="M800.72,803.89 L800.18,801.48 L799.66,799.07 L799.17,796.65 L798.72,794.23 L867.42,782.47 L867.73,784.11 L868.06,785.76 L868.41,787.40 L868.78,789.03Z" fill="#3b8f2f"/>
<path d="M633.98,840.28 L633.01,835.99 L632.09,831.68 L631.22,827.37 L630.40,823.05 L798.72,794.23 L799.17,796.65 L799.66,799.07 L800.18,801.48 L800.72,803.89Z" fill="#8cc63a"/>
<path d="M563.88,855.58 L562.73,850.50 L561.64,845.40 L560.61,840.28 L559.64,835.16 L630.40,823.05 L631.22,827.37 L632.09,831.68 L633.01,835.99 L633.98,840.28Z" fill="#f18a22"/>
<path d="M557.07,857.07 L555.90,851.90 L554.80,846.73 L553.76,841.54 L552.77,836.34 L559.64,835.16 L560.61,840.28 L561.64,845.40 L562.73,850.50 L563.88,855.58Z" fill="#e62a3c"/>
<path d="M528.49,863.31 L527.25,857.82 L526.07,852.32 L524.96,846.80 L523.92,841.28 L552.77,836.34 L553.76,841.54 L554.80,846.73 L555.90,851.90 L557.07,857.07Z" fill="#c4c4c8"/>
<path d="M805.34,791.65 L804.94,789.30 L804.57,786.94 L804.23,784.58 L803.92,782.21 L866.25,774.86 L866.46,776.52 L866.70,778.17 L866.96,779.83 L867.24,781.48Z" fill="#3b8f2f"/>
<path d="M647.14,817.63 L646.44,813.49 L645.79,809.34 L645.19,805.18 L644.64,801.02 L803.92,782.21 L804.23,784.58 L804.57,786.94 L804.94,789.30 L805.34,791.65Z" fill="#8cc63a"/>
<path d="M562.88,831.47 L562.02,826.38 L561.22,821.27 L560.48,816.16 L559.81,811.03 L644.64,801.02 L645.19,805.18 L645.79,809.34 L646.44,813.49 L647.14,817.63Z" fill="#f18a22"/>
<path d="M550.84,833.45 L549.96,828.22 L549.14,822.97 L548.38,817.72 L547.69,812.46 L559.81,811.03 L560.48,816.16 L561.22,821.27 L562.02,826.38 L562.88,831.47Z" fill="#e62a3c"/>
<path d="M523.33,837.97 L522.39,832.42 L521.53,826.87 L520.72,821.31 L519.99,815.73 L547.69,812.46 L548.38,817.72 L549.14,822.97 L549.96,828.22 L550.84,833.45Z" fill="#c4c4c8"/>
<path d="M614.51,776.78 L614.37,773.85 L614.25,770.92 L614.16,767.99 L614.09,765.06 L865.19,760.30 L865.21,761.39 L865.25,762.48 L865.29,763.57 L865.34,764.65Z" fill="#3b8f2f"/>
<path d="M580.71,778.42 L580.56,775.24 L580.44,772.06 L580.33,768.88 L580.26,765.70 L614.09,765.06 L614.16,767.99 L614.25,770.92 L614.37,773.85 L614.51,776.78Z" fill="#8cc63a"/>
<path d="M557.02,779.56 L556.86,776.21 L556.73,772.86 L556.62,769.51 L556.54,766.15 L580.26,765.70 L580.33,768.88 L580.44,772.06 L580.56,775.24 L580.71,778.42Z" fill="#f18a22"/>
<path d="M551.80,779.81 L551.64,776.43 L551.50,773.03 L551.39,769.64 L551.31,766.25 L556.54,766.15 L556.62,769.51 L556.73,772.86 L556.86,776.21 L557.02,779.56Z" fill="#e62a3c"/>
<path d="M516.96,781.50 L516.79,777.85 L516.64,774.21 L516.52,770.56 L516.44,766.91 L551.31,766.25 L551.39,769.64 L551.50,773.03 L551.64,776.43 L551.80,779.81Z" fill="#c4c4c8"/>
<path d="M713.12,762.43 L713.08,759.03 L713.08,755.64 L713.12,752.25 L713.21,748.85 L865.22,753.23 L865.18,754.91 L865.16,756.58 L865.16,758.26 L865.18,759.93Z" fill="#3b8f2f"/>
<path d="M561.06,764.92 L561.00,759.81 L561.00,754.70 L561.06,749.58 L561.19,744.47 L713.21,748.85 L713.12,752.25 L713.08,755.64 L713.08,759.03 L713.12,762.43Z" fill="#8cc63a"/>
<path d="M541.18,765.25 L541.11,759.91 L541.12,754.57 L541.18,749.24 L541.32,743.90 L561.19,744.47 L561.06,749.58 L561.00,754.70 L561.00,759.81 L561.06,764.92Z" fill="#f18a22"/>
<path d="M540.13,765.27 L540.07,759.92 L540.07,754.57 L540.14,749.22 L540.27,743.87 L541.32,743.90 L541.18,749.24 L541.12,754.57 L541.11,759.91 L541.18,765.25Z" fill="#e62a3c"/>
<path d="M516.41,765.66 L516.35,760.04 L516.35,754.42 L516.42,748.80 L516.56,743.19 L540.27,743.87 L540.14,749.22 L540.07,754.57 L540.07,759.92 L540.13,765.27Z" fill="#c4c4c8"/>
<path d="M720.60,747.09 L720.74,743.78 L720.93,740.47 L721.15,737.17 L721.42,733.87 L865.67,745.55 L865.54,747.22 L865.42,748.89 L865.33,750.56 L865.26,752.23Z" fill="#3b8f2f"/>
<path d="M560.60,741.39 L560.82,736.28 L561.11,731.16 L561.46,726.05 L561.87,720.95 L721.42,733.87 L721.15,737.17 L720.93,740.47 L720.74,743.78 L720.60,747.09Z" fill="#8cc63a"/>
<path d="M537.59,740.57 L537.83,735.20 L538.13,729.83 L538.49,724.46 L538.92,719.09 L561.87,720.95 L561.46,726.05 L561.11,731.16 L560.82,736.28 L560.60,741.39Z" fill="#f18a22"/>
<path d="M534.11,740.45 L534.34,735.04 L534.65,729.62 L535.01,724.21 L535.45,718.81 L538.92,719.09 L538.49,724.46 L538.13,729.83 L537.83,735.20 L537.59,740.57Z" fill="#e62a3c"/>
<path d="M516.68,739.83 L516.92,734.22 L517.24,728.61 L517.62,723.00 L518.07,717.40 L535.45,718.81 L535.01,724.21 L534.65,729.62 L534.34,735.04 L534.11,740.45Z" fill="#c4c4c8"/>
<path d="M730.28,732.66 L730.60,729.46 L730.95,726.27 L731.35,723.08 L731.78,719.89 L866.55,737.90 L866.32,739.56 L866.11,741.22 L865.93,742.89 L865.76,744.55Z" fill="#3b8f2f"/>
<path d="M568.05,718.42 L568.55,713.39 L569.11,708.36 L569.73,703.35 L570.41,698.33 L731.78,719.89 L731.35,723.08 L730.95,726.27 L730.60,729.46 L730.28,732.66Z" fill="#8cc63a"/>
<path d="M540.25,715.98 L540.79,710.63 L541.38,705.30 L542.04,699.96 L542.77,694.64 L570.41,698.33 L569.73,703.35 L569.11,708.36 L568.55,713.39 L568.05,718.42Z" fill="#f18a22"/>
<path d="M536.78,715.67 L537.32,710.29 L537.92,704.91 L538.58,699.54 L539.31,694.18 L542.77,694.64 L542.04,699.96 L541.38,705.30 L540.79,710.63 L540.25,715.98Z" fill="#e62a3c"/>
<path d="M518.37,714.06 L518.93,708.47 L519.55,702.88 L520.24,697.30 L521.00,691.73 L539.31,694.18 L538.58,699.54 L537.92,704.91 L537.32,710.29 L536.78,715.67Z" fill="#c4c4c8"/>
<path d="M738.96,718.96 L739.45,715.87 L739.97,712.77 L740.52,709.69 L741.12,706.61 L867.84,730.31 L867.52,731.95 L867.23,733.60 L866.95,735.25 L866.69,736.91Z" fill="#3b8f2f"/>
<path d="M575.68,696.02 L576.45,691.08 L577.28,686.15 L578.17,681.22 L579.12,676.31 L741.12,706.61 L740.52,709.69 L739.97,712.77 L739.45,715.87 L738.96,718.96Z" fill="#8cc63a"/>
<path d="M544.61,691.66 L545.44,686.36 L546.33,681.08 L547.28,675.81 L548.29,670.54 L579.12,676.31 L578.17,681.22 L577.28,686.15 L576.45,691.08 L575.68,696.02Z" fill="#f18a22"/>
<path d="M543.92,691.56 L544.75,686.26 L545.64,680.97 L546.59,675.69 L547.61,670.42 L548.29,670.54 L547.28,675.81 L546.33,681.08 L545.44,686.36 L544.61,691.66Z" fill="#e62a3c"/>
<path d="M521.48,688.41 L522.35,682.85 L523.28,677.31 L524.28,671.77 L525.35,666.25 L547.61,670.42 L546.59,675.69 L545.64,680.97 L544.75,686.26 L543.92,691.56Z" fill="#c4c4c8"/>
<path d="M715.16,699.66 L715.87,696.29 L716.63,692.93 L717.43,689.59 L718.26,686.25 L869.56,722.79 L869.15,724.42 L868.76,726.05 L868.39,727.68 L868.04,729.32Z" fill="#3b8f2f"/>
<path d="M568.77,671.25 L569.84,666.23 L570.97,661.23 L572.15,656.23 L573.40,651.25 L718.26,686.25 L717.43,689.59 L716.63,692.93 L715.87,696.29 L715.16,699.66Z" fill="#8cc63a"/>
<path d="M532.86,664.29 L534.01,658.86 L535.23,653.45 L536.52,648.05 L537.87,642.67 L573.40,651.25 L572.15,656.23 L570.97,661.23 L569.84,666.23 L568.77,671.25Z" fill="#f18a22"/>
<path d="M532.17,664.15 L533.33,658.72 L534.55,653.30 L535.84,647.90 L537.19,642.51 L537.87,642.67 L536.52,648.05 L535.23,653.45 L534.01,658.86 L532.86,664.29Z" fill="#e62a3c"/>
<path d="M526.01,662.96 L527.19,657.46 L528.42,651.97 L529.73,646.49 L531.10,641.04 L537.19,642.51 L535.84,647.90 L534.55,653.30 L533.33,658.72 L532.17,664.15Z" fill="#c4c4c8"/>
<path d="M721.15,684.84 L722.04,681.55 L722.98,678.26 L723.95,674.98 L724.97,671.72 L871.68,715.37 L871.19,716.98 L870.71,718.59 L870.25,720.20 L869.81,721.82Z" fill="#3b8f2f"/>
<path d="M565.73,646.18 L567.10,641.13 L568.54,636.10 L570.03,631.08 L571.58,626.07 L724.97,671.72 L723.95,674.98 L722.98,678.26 L722.04,681.55 L721.15,684.84Z" fill="#8cc63a"/>
<path d="M536.68,638.96 L538.14,633.58 L539.66,628.21 L541.25,622.87 L542.90,617.54 L571.58,626.07 L570.03,631.08 L568.54,636.10 L567.10,641.13 L565.73,646.18Z" fill="#f18a22"/>
<path d="M536.00,638.79 L537.46,633.40 L538.99,628.03 L540.58,622.68 L542.24,617.34 L542.90,617.54 L541.25,622.87 L539.66,628.21 L538.14,633.58 L536.68,638.96Z" fill="#e62a3c"/>
<path d="M531.95,637.78 L533.42,632.35 L534.96,626.93 L536.57,621.53 L538.23,616.15 L542.24,617.34 L540.58,622.68 L538.99,628.03 L537.46,633.40 L536.00,638.79Z" fill="#c4c4c8"/>
<path d="M733.91,672.31 L734.95,669.16 L736.04,666.02 L737.16,662.89 L738.31,659.77 L874.22,708.08 L873.63,709.66 L873.07,711.24 L872.52,712.83 L871.99,714.42Z" fill="#3b8f2f"/>
<path d="M572.54,623.09 L574.18,618.12 L575.89,613.17 L577.66,608.23 L579.49,603.32 L738.31,659.77 L737.16,662.89 L736.04,666.02 L734.95,669.16 L733.91,672.31Z" fill="#8cc63a"/>
<path d="M542.59,613.96 L544.35,608.65 L546.18,603.36 L548.06,598.09 L550.01,592.84 L579.49,603.32 L577.66,608.23 L575.89,613.17 L574.18,618.12 L572.54,623.09Z" fill="#f18a22"/>
<path d="M541.93,613.76 L543.69,608.44 L545.51,603.14 L547.41,597.86 L549.36,592.61 L550.01,592.84 L548.06,598.09 L546.18,603.36 L544.35,608.65 L542.59,613.96Z" fill="#e62a3c"/>
<path d="M539.26,612.95 L541.04,607.60 L542.87,602.27 L544.77,596.96 L546.74,591.68 L549.36,592.61 L547.41,597.86 L545.51,603.14 L543.69,608.44 L541.93,613.76Z" fill="#c4c4c8"/>
<path d="M734.12,656.14 L735.36,652.99 L736.64,649.86 L737.96,646.74 L739.31,643.63 L877.15,700.93 L876.48,702.47 L875.83,704.02 L875.19,705.58 L874.58,707.14Z" fill="#3b8f2f"/>
<path d="M582.24,600.98 L584.15,596.12 L586.13,591.28 L588.16,586.46 L590.25,581.67 L739.31,643.63 L737.96,646.74 L736.64,649.86 L735.36,652.99 L734.12,656.14Z" fill="#8cc63a"/>
<path d="M561.01,593.27 L563.02,588.17 L565.09,583.09 L567.22,578.04 L569.41,573.01 L590.25,581.67 L588.16,586.46 L586.13,591.28 L584.15,596.12 L582.24,600.98Z" fill="#f18a22"/>
<path d="M559.38,592.68 L561.39,587.56 L563.47,582.46 L565.61,577.39 L567.81,572.34 L569.41,573.01 L567.22,578.04 L565.09,583.09 L563.02,588.17 L561.01,593.27Z" fill="#e62a3c"/>
<path d="M547.94,588.53 L550.01,583.28 L552.14,578.05 L554.33,572.85 L556.59,567.68 L567.81,572.34 L565.61,577.39 L563.47,582.46 L561.39,587.56 L559.38,592.68Z" fill="#c4c4c8"/>
<path d="M762.51,651.26 L763.80,648.43 L765.13,645.62 L766.50,642.82 L767.89,640.04 L880.48,693.94 L879.72,695.44 L878.98,696.96 L878.26,698.48 L877.56,700.01Z" fill="#3b8f2f"/>
<path d="M605.90,584.91 L608.01,580.32 L610.17,575.75 L612.39,571.20 L614.66,566.68 L767.89,640.04 L766.50,642.82 L765.13,645.62 L763.80,648.43 L762.51,651.26Z" fill="#8cc63a"/>
<path d="M580.33,574.08 L582.57,569.19 L584.87,564.34 L587.22,559.51 L589.64,554.71 L614.66,566.68 L612.39,571.20 L610.17,575.75 L608.01,580.32 L605.90,584.91Z" fill="#f18a22"/>
<path d="M570.75,570.01 L573.03,565.02 L575.38,560.06 L577.79,555.12 L580.26,550.21 L589.64,554.71 L587.22,559.51 L584.87,564.34 L582.57,569.19 L580.33,574.08Z" fill="#e62a3c"/>
<path d="M557.96,564.60 L560.32,559.46 L562.73,554.36 L565.21,549.28 L567.75,544.23 L580.26,550.21 L577.79,555.12 L575.38,560.06 L573.03,565.02 L570.75,570.01Z" fill="#c4c4c8"/>
<path d="M826.40,666.47 L827.51,664.37 L828.64,662.27 L829.80,660.19 L830.99,658.13 L884.19,687.13 L883.35,688.60 L882.53,690.07 L881.72,691.55 L880.94,693.04Z" fill="#3b8f2f"/>
<path d="M656.55,583.73 L658.67,579.71 L660.83,575.71 L663.05,571.74 L665.31,567.80 L830.99,658.13 L829.80,660.19 L828.64,662.27 L827.51,664.37 L826.40,666.47Z" fill="#8cc63a"/>
<path d="M600.46,556.40 L602.91,551.75 L605.41,547.12 L607.97,542.53 L610.59,537.96 L665.31,567.80 L663.05,571.74 L660.83,575.71 L658.67,579.71 L656.55,583.73Z" fill="#f18a22"/>
<path d="M592.67,552.61 L595.16,547.87 L597.71,543.15 L600.32,538.47 L602.99,533.82 L610.59,537.96 L607.97,542.53 L605.41,547.12 L602.91,551.75 L600.46,556.40Z" fill="#e62a3c"/>
<path d="M569.29,541.22 L571.93,536.22 L574.62,531.24 L577.37,526.30 L580.19,521.39 L602.99,533.82 L600.32,538.47 L597.71,543.15 L595.16,547.87 L592.67,552.61Z" fill="#c4c4c8"/>
<path d="M822.62,651.86 L823.91,649.72 L825.22,647.58 L826.55,645.46 L827.92,643.36 L888.27,680.53 L887.35,681.95 L886.45,683.37 L885.56,684.81 L884.70,686.26Z" fill="#3b8f2f"/>
<path d="M654.57,558.74 L656.99,554.70 L659.45,550.68 L661.97,546.70 L664.53,542.74 L827.92,643.36 L826.55,645.46 L825.22,647.58 L823.91,649.72 L822.62,651.86Z" fill="#8cc63a"/>
<path d="M612.18,535.25 L614.88,530.73 L617.64,526.24 L620.45,521.78 L623.31,517.36 L664.53,542.74 L661.97,546.70 L659.45,550.68 L656.99,554.70 L654.57,558.74Z" fill="#f18a22"/>
<path d="M604.61,531.05 L607.36,526.45 L610.17,521.87 L613.04,517.33 L615.95,512.82 L623.31,517.36 L620.45,521.78 L617.64,526.24 L614.88,530.73 L612.18,535.25Z" fill="#e62a3c"/>
<path d="M581.90,518.47 L584.81,513.61 L587.77,508.78 L590.79,503.99 L593.88,499.23 L615.95,512.82 L613.04,517.33 L610.17,521.87 L607.36,526.45 L604.61,531.05Z" fill="#c4c4c8"/>
<path d="M847.79,654.02 L849.05,652.16 L850.33,650.31 L851.63,648.48 L852.95,646.66 L892.70,674.14 L891.71,675.51 L890.73,676.89 L889.77,678.28 L888.82,679.68Z" fill="#3b8f2f"/>
<path d="M707.11,566.05 L709.44,562.60 L711.81,559.18 L714.22,555.78 L716.66,552.42 L852.95,646.66 L851.63,648.48 L850.33,650.31 L849.05,652.16 L847.79,654.02Z" fill="#8cc63a"/>
<path d="M626.52,515.64 L629.46,511.29 L632.45,506.97 L635.49,502.68 L638.58,498.42 L716.66,552.42 L714.22,555.78 L711.81,559.18 L709.44,562.60 L707.11,566.05Z" fill="#f18a22"/>
<path d="M619.19,511.06 L622.18,506.62 L625.23,502.22 L628.33,497.85 L631.48,493.52 L638.58,498.42 L635.49,502.68 L632.45,506.97 L629.46,511.29 L626.52,515.64Z" fill="#e62a3c"/>
<path d="M595.74,496.40 L598.92,491.70 L602.15,487.03 L605.43,482.40 L608.77,477.81 L631.48,493.52 L628.33,497.85 L625.23,502.22 L622.18,506.62 L619.19,511.06Z" fill="#c4c4c8"/>
<path d="M833.98,631.70 L835.51,629.68 L837.06,627.68 L838.63,625.70 L840.23,623.73 L897.49,668.00 L896.42,669.32 L895.37,670.64 L894.33,671.98 L893.31,673.33Z" fill="#3b8f2f"/>
<path d="M681.42,524.65 L684.25,520.91 L687.12,517.21 L690.03,513.54 L692.99,509.90 L840.23,623.73 L838.63,625.70 L837.06,627.68 L835.51,629.68 L833.98,631.70Z" fill="#8cc63a"/>
<path d="M640.46,495.90 L643.63,491.70 L646.86,487.54 L650.13,483.42 L653.46,479.33 L692.99,509.90 L690.03,513.54 L687.12,517.21 L684.25,520.91 L681.42,524.65Z" fill="#f18a22"/>
<path d="M631.98,489.95 L635.23,485.66 L638.53,481.40 L641.88,477.19 L645.28,473.01 L653.46,479.33 L650.13,483.42 L646.86,487.54 L643.63,491.70 L640.46,495.90Z" fill="#e62a3c"/>
<path d="M610.79,475.08 L614.22,470.55 L617.70,466.06 L621.24,461.61 L624.83,457.20 L645.28,473.01 L641.88,477.19 L638.53,481.40 L635.23,485.66 L631.98,489.95Z" fill="#c4c4c8"/>
<path d="M841.20,622.57 L842.83,620.63 L844.49,618.71 L846.18,616.82 L847.88,614.94 L902.61,662.12 L901.47,663.37 L900.34,664.64 L899.23,665.93 L898.14,667.22Z" fill="#3b8f2f"/>
<path d="M708.34,518.37 L711.24,514.94 L714.18,511.54 L717.16,508.18 L720.18,504.85 L847.88,614.94 L846.18,616.82 L844.49,618.71 L842.83,620.63 L841.20,622.57Z" fill="#8cc63a"/>
<path d="M659.53,480.10 L662.90,476.12 L666.31,472.18 L669.77,468.27 L673.28,464.41 L720.18,504.85 L717.16,508.18 L714.18,511.54 L711.24,514.94 L708.34,518.37Z" fill="#f18a22"/>
<path d="M651.40,473.72 L654.84,469.65 L658.33,465.61 L661.87,461.62 L665.46,457.67 L673.28,464.41 L669.77,468.27 L666.31,472.18 L662.90,476.12 L659.53,480.10Z" fill="#e62a3c"/>
<path d="M627.00,454.58 L630.67,450.23 L634.40,445.93 L638.17,441.67 L642.00,437.45 L665.46,457.67 L661.87,461.62 L658.33,465.61 L654.84,469.65 L651.40,473.72Z" fill="#c4c4c8"/>
<path d="M838.55,604.77 L840.40,602.80 L842.28,600.86 L844.17,598.93 L846.10,597.03 L908.05,656.51 L906.84,657.70 L905.64,658.91 L904.46,660.13 L903.30,661.37Z" fill="#3b8f2f"/>
<path d="M707.77,490.42 L711.00,486.99 L714.28,483.59 L717.60,480.23 L720.96,476.90 L846.10,597.03 L844.17,598.93 L842.28,600.86 L840.40,602.80 L838.55,604.77Z" fill="#8cc63a"/>
<path d="M670.21,457.59 L673.85,453.73 L677.53,449.92 L681.25,446.14 L685.03,442.41 L720.96,476.90 L717.60,480.23 L714.28,483.59 L711.00,486.99 L707.77,490.42Z" fill="#f18a22"/>
<path d="M665.03,453.06 L668.72,449.15 L672.46,445.27 L676.24,441.44 L680.07,437.65 L685.03,442.41 L681.25,446.14 L677.53,449.92 L673.85,453.73 L670.21,457.59Z" fill="#e62a3c"/>
<path d="M644.32,434.95 L648.22,430.80 L652.18,426.69 L656.19,422.64 L660.25,418.62 L680.07,437.65 L676.24,441.44 L672.46,445.27 L668.72,449.15 L665.03,453.06Z" fill="#c4c4c8"/>
<path d="M778.76,776.41 L778.61,774.52 L778.47,772.64 L778.35,770.75 L778.25,768.86 L865.34,764.65 L865.41,765.84 L865.48,767.03 L865.57,768.21 L865.67,769.40Z" fill="#3b8f2f"/>
<path d="M575.06,792.83 L574.78,789.31 L574.52,785.79 L574.29,782.26 L574.09,778.74 L778.25,768.86 L778.35,770.75 L778.47,772.64 L778.61,774.52 L778.76,776.41Z" fill="#8cc63a"/>
<path d="M543.78,795.36 L543.47,791.58 L543.19,787.81 L542.95,784.03 L542.74,780.25 L574.09,778.74 L574.29,782.26 L574.52,785.79 L574.78,789.31 L575.06,792.83Z" fill="#f18a22"/>
<path d="M518.05,797.43 L517.73,793.45 L517.44,789.47 L517.18,785.49 L516.96,781.50 L542.74,780.25 L542.95,784.03 L543.19,787.81 L543.47,791.58 L543.78,795.36Z" fill="#c4c4c8"/>
<path d="M943.09,539.87 L945.91,539.04 L948.75,538.23 L951.59,537.47 L954.44,536.74 M917.09,459.22 L920.96,458.07 L924.84,456.97 L928.73,455.92 L932.64,454.92 M891.09,378.56 L896.00,377.10 L900.93,375.71 L905.88,374.37 L910.85,373.10 M875.49,330.17 L881.03,328.52 L886.59,326.95 L892.17,325.45 L897.77,324.01 M865.08,297.90 L871.04,296.14 L877.03,294.45 L883.03,292.83 L889.05,291.28 M955.23,536.54 L958.10,535.85 L960.97,535.20 L963.85,534.58 L966.74,534.00 M933.73,454.65 L937.66,453.71 L941.59,452.81 L945.54,451.96 L949.50,451.17 M912.23,372.76 L917.22,371.56 L922.22,370.42 L927.24,369.35 L932.27,368.33 M899.33,323.62 L904.95,322.27 L910.59,320.99 L916.25,319.78 L921.92,318.63 M890.73,290.87 L896.78,289.41 L902.84,288.04 L908.93,286.73 L915.03,285.50 M967.54,533.84 L970.44,533.31 L973.35,532.80 L976.26,532.34 L979.17,531.90 M950.60,450.95 L954.58,450.22 L958.56,449.53 L962.55,448.89 L966.54,448.29 M933.66,368.06 L938.71,367.13 L943.77,366.25 L948.84,365.44 L953.92,364.69 M923.50,318.33 L929.19,317.27 L934.89,316.29 L940.61,315.37 L946.34,314.52 M916.73,285.17 L922.85,284.04 L928.98,282.97 L935.13,281.99 L941.29,281.08 M979.98,531.79 L982.91,531.40 L985.84,531.05 L988.77,530.74 L991.71,530.46 M967.66,448.14 L971.66,447.61 L975.68,447.13 L979.70,446.70 L983.72,446.31 M955.33,364.49 L960.42,363.81 L965.52,363.20 L970.62,362.65 L975.74,362.17 M947.93,314.30 L953.67,313.54 L959.42,312.85 L965.18,312.23 L970.95,311.68 M943.00,280.84 L949.17,280.02 L955.36,279.28 L961.55,278.61 L967.75,278.02 M992.52,530.39 L995.46,530.15 L998.41,529.95 L1001.35,529.79 L1004.30,529.67 M984.84,446.21 L988.87,445.89 L992.90,445.62 L996.94,445.40 L1000.98,445.23 M977.16,362.04 L982.28,361.64 L987.40,361.29 L992.53,361.01 L997.67,360.79 M972.55,311.54 L978.32,311.08 L984.10,310.69 L989.89,310.37 L995.67,310.12 M969.48,277.87 L975.69,277.38 L981.90,276.96 L988.12,276.62 L994.35,276.35 M1005.12,529.64 L1008.07,529.56 L1011.02,529.51 L1013.97,529.50 L1016.92,529.53 M1002.10,445.19 L1006.15,445.08 L1010.19,445.01 L1014.23,445.00 L1018.28,445.04 M999.09,360.74 L1004.23,360.60 L1009.36,360.52 L1014.50,360.50 L1019.64,360.55 M997.28,310.07 L1003.07,309.91 L1008.87,309.82 L1014.66,309.80 L1020.45,309.85 M996.08,276.29 L1002.31,276.12 L1008.54,276.02 L1014.77,276.00 L1021.00,276.06 M1017.74,529.54 L1020.69,529.61 L1023.64,529.72 L1026.58,529.87 L1029.53,530.05 M1019.40,445.06 L1023.44,445.16 L1027.49,445.30 L1031.52,445.50 L1035.56,445.75 M1021.07,360.57 L1026.20,360.70 L1031.34,360.89 L1036.47,361.14 L1041.59,361.45 M1022.06,309.88 L1027.86,310.02 L1033.64,310.24 L1039.43,310.52 L1045.21,310.87 M1022.73,276.09 L1028.96,276.24 L1035.18,276.47 L1041.41,276.77 L1047.63,277.15 M1040.58,531.04 L1043.51,531.39 L1046.43,531.78 L1049.35,532.20 L1052.26,532.66 M1050.71,447.11 L1054.72,447.59 L1058.73,448.12 L1062.73,448.70 L1066.72,449.32 M1060.83,363.19 L1065.93,363.80 L1071.02,364.47 L1076.11,365.20 L1081.18,365.99 M1066.91,312.83 L1072.66,313.52 L1078.40,314.27 L1084.13,315.10 L1089.85,316.00 M1070.96,279.26 L1077.15,280.00 L1083.32,280.81 L1089.48,281.70 L1095.64,282.66 M1053.07,532.79 L1055.97,533.29 L1058.87,533.83 L1061.76,534.40 L1064.65,535.01 M1067.83,449.51 L1071.81,450.19 L1075.78,450.93 L1079.74,451.71 L1083.69,452.55 M1082.58,366.23 L1087.64,367.10 L1092.69,368.03 L1097.72,369.03 L1102.74,370.09 M1091.44,316.26 L1097.14,317.24 L1102.83,318.30 L1108.51,319.42 L1114.17,320.61 M1097.34,282.94 L1103.48,284.00 L1109.60,285.14 L1115.70,286.35 L1121.79,287.63 M1065.45,535.18 L1068.32,535.83 L1071.18,536.52 L1074.04,537.24 L1076.88,538.00 M1084.79,452.79 L1088.73,453.68 L1092.65,454.62 L1096.57,455.61 L1100.47,456.64 M1104.13,370.39 L1109.14,371.53 L1114.12,372.72 L1119.10,373.98 L1124.05,375.29 M1115.74,320.95 L1121.38,322.23 L1127.01,323.58 L1132.61,325.00 L1138.20,326.48 M1123.48,288.00 L1129.55,289.37 L1135.59,290.82 L1141.62,292.35 L1147.63,293.94 M1077.67,538.21 L1080.50,539.01 L1083.33,539.85 L1086.14,540.72 L1088.94,541.62 M1101.55,456.94 L1105.43,458.04 L1109.30,459.18 L1113.15,460.37 L1116.99,461.61 M1125.42,375.67 L1130.36,377.06 L1135.27,378.52 L1140.16,380.03 L1145.04,381.60 M1139.75,326.91 L1145.31,328.48 L1150.85,330.12 L1156.37,331.82 L1161.87,333.59 M1149.30,294.40 L1155.28,296.09 L1161.24,297.85 L1167.18,299.68 L1173.09,301.59 M1089.71,541.87 L1092.50,542.82 L1095.27,543.80 L1098.03,544.81 L1100.77,545.86 M1118.05,461.96 L1121.87,463.26 L1125.67,464.60 L1129.45,465.99 L1133.21,467.42 M1146.39,382.05 L1151.24,383.69 L1156.06,385.40 L1160.87,387.16 L1165.65,388.99 M1163.39,334.10 L1168.86,335.96 L1174.30,337.88 L1179.72,339.87 L1185.11,341.93 M1174.73,302.13 L1180.61,304.13 L1186.46,306.20 L1192.29,308.34 L1198.09,310.55 M1101.53,546.16 L1104.26,547.25 L1106.98,548.37 L1109.68,549.52 L1112.36,550.71 M1134.25,467.83 L1137.99,469.32 L1141.71,470.86 L1145.41,472.45 L1149.09,474.07 M1166.97,389.50 L1171.72,391.40 L1176.45,393.36 L1181.15,395.37 L1185.82,397.44 M1186.60,342.51 L1191.96,344.65 L1197.29,346.85 L1202.59,349.12 L1207.86,351.45 M1199.69,311.18 L1205.45,313.48 L1211.18,315.85 L1216.88,318.29 L1222.55,320.80 M1113.10,551.05 L1115.77,552.28 L1118.41,553.54 L1121.04,554.83 L1123.66,556.16 M1150.11,474.53 L1153.76,476.22 L1157.39,477.95 L1160.99,479.72 L1164.58,481.54 M1187.11,398.02 L1191.75,400.16 L1196.36,402.36 L1200.94,404.61 L1205.50,406.92 M1209.32,352.11 L1214.55,354.53 L1219.75,357.00 L1224.91,359.54 L1230.05,362.15 M1224.12,321.51 L1229.75,324.10 L1235.34,326.77 L1240.89,329.50 L1246.42,332.30 M1133.33,561.43 L1135.86,562.90 L1138.37,564.41 L1140.86,565.94 L1143.33,567.51 M1177.84,488.76 L1181.30,490.78 L1184.74,492.84 L1188.15,494.95 L1191.54,497.09 M1222.34,416.09 L1226.74,418.66 L1231.11,421.28 L1235.45,423.95 L1239.74,426.68 M1249.04,372.49 L1254.01,375.39 L1258.93,378.34 L1263.82,381.36 L1268.67,384.43 M1266.85,343.43 L1272.18,346.54 L1277.48,349.72 L1282.74,352.96 L1287.95,356.27 M1144.01,567.95 L1146.45,569.55 L1148.87,571.19 L1151.27,572.85 L1153.65,574.54 M1192.47,497.70 L1195.82,499.90 L1199.14,502.13 L1202.43,504.41 L1205.69,506.73 M1240.93,427.45 L1245.19,430.24 L1249.40,433.08 L1253.58,435.98 L1257.72,438.92 M1270.01,385.30 L1274.81,388.45 L1279.56,391.65 L1284.27,394.92 L1288.94,398.24 M1289.39,357.20 L1294.55,360.58 L1299.67,364.03 L1304.74,367.54 L1309.76,371.12 M1154.31,575.01 L1156.66,576.74 L1158.99,578.50 L1161.29,580.28 L1163.57,582.10 M1206.59,507.38 L1209.81,509.75 L1213.00,512.16 L1216.16,514.61 L1219.29,517.09 M1258.87,439.75 L1262.96,442.76 L1267.01,445.82 L1271.03,448.93 L1275.00,452.08 M1290.23,399.17 L1294.85,402.57 L1299.42,406.02 L1303.95,409.52 L1308.43,413.08 M1311.15,372.12 L1316.11,375.77 L1321.03,379.48 L1325.89,383.25 L1330.71,387.08 M1171.94,589.16 L1174.11,591.10 L1176.25,593.07 L1178.36,595.06 L1180.45,597.08 M1230.76,526.77 L1233.73,529.43 L1236.66,532.13 L1239.56,534.86 L1242.42,537.63 M1289.57,464.38 L1293.34,467.76 L1297.07,471.19 L1300.75,474.66 L1304.39,478.18 M1324.86,426.95 L1329.11,430.76 L1333.31,434.62 L1337.47,438.54 L1341.57,442.50 M1348.38,401.99 L1352.96,406.09 L1357.48,410.25 L1361.95,414.46 L1366.36,418.72 M1181.03,597.65 L1183.08,599.70 L1185.11,601.77 L1187.11,603.88 L1189.09,606.00 M1243.21,538.40 L1246.03,541.22 L1248.81,544.06 L1251.55,546.94 L1254.26,549.85 M1305.39,479.16 L1308.97,482.73 L1312.50,486.35 L1315.99,490.00 L1319.43,493.70 M1342.70,443.61 L1346.74,447.64 L1350.72,451.72 L1354.65,455.84 L1358.53,460.01 M1367.57,419.92 L1371.91,424.25 L1376.20,428.63 L1380.43,433.07 L1384.59,437.56 M1189.63,606.59 L1191.57,608.75 L1193.48,610.93 L1195.37,613.13 L1197.22,615.35 M1255.00,550.67 L1257.66,553.62 L1260.28,556.61 L1262.86,559.62 L1265.40,562.67 M1320.37,494.74 L1323.75,498.49 L1327.08,502.28 L1330.35,506.12 L1333.58,509.99 M1359.59,461.18 L1363.40,465.41 L1367.15,469.69 L1370.85,474.01 L1374.49,478.38 M1385.74,438.81 L1389.84,443.36 L1393.87,447.96 L1397.85,452.61 L1401.76,457.31 M1197.73,615.98 L1199.55,618.23 L1201.33,620.50 L1203.09,622.80 L1204.82,625.12 M1266.10,563.52 L1268.59,566.61 L1271.04,569.73 L1273.45,572.88 L1275.82,576.05 M1334.47,511.07 L1337.63,515.00 L1340.75,518.96 L1343.81,522.95 L1346.82,526.99 M1375.49,479.60 L1379.06,484.03 L1382.57,488.49 L1386.02,493.00 L1389.42,497.55 M1402.84,458.62 L1406.68,463.38 L1410.45,468.18 L1414.17,473.03 L1417.82,477.93 M1205.29,625.76 L1206.98,628.11 L1208.64,630.47 L1210.27,632.86 L1211.87,635.26 M1276.47,576.94 L1278.79,580.15 L1281.06,583.39 L1283.29,586.66 L1285.48,589.96 M1347.64,528.12 L1350.59,532.20 L1353.47,536.31 L1356.31,540.47 L1359.09,544.65 M1390.35,498.82 L1393.67,503.42 L1396.92,508.07 L1400.12,512.75 L1403.26,517.47 M1418.82,479.29 L1422.39,484.24 L1425.89,489.24 L1429.33,494.27 L1432.70,499.35 M1212.31,635.93 L1213.87,638.36 L1215.39,640.81 L1216.89,643.27 L1218.35,645.75 M1286.08,590.87 L1288.22,594.20 L1290.31,597.56 L1292.36,600.94 L1294.36,604.34 M1359.85,545.82 L1362.57,550.05 L1365.22,554.31 L1367.83,558.60 L1370.37,562.93 M1404.12,518.79 L1407.18,523.55 L1410.17,528.36 L1413.11,533.20 L1415.98,538.08 M1433.63,500.76 L1436.92,505.89 L1440.14,511.06 L1443.30,516.27 L1446.38,521.51 M1218.75,646.45 L1220.17,648.95 L1221.56,651.48 L1222.91,654.01 L1224.24,656.57 M1294.91,605.29 L1296.86,608.72 L1298.76,612.18 L1300.62,615.66 L1302.43,619.16 M1371.07,564.13 L1373.54,568.49 L1375.96,572.89 L1378.32,577.31 L1380.62,581.76 M1416.77,539.44 L1419.56,544.36 L1422.28,549.31 L1424.94,554.30 L1427.54,559.32 M1447.23,522.97 L1450.23,528.27 L1453.16,533.59 L1456.03,538.96 L1458.82,544.35 M1224.60,657.28 L1225.88,659.86 L1227.12,662.45 L1228.34,665.06 L1229.52,667.68 M1302.93,620.14 L1304.68,623.67 L1306.39,627.22 L1308.05,630.80 L1309.67,634.39 M1381.25,583.00 L1383.48,587.49 L1385.65,592.00 L1387.77,596.54 L1389.82,601.10 M1428.25,560.71 L1430.77,565.77 L1433.21,570.86 L1435.60,575.98 L1437.91,581.12 M1459.58,545.86 L1462.29,551.30 L1464.92,556.77 L1467.48,562.27 L1469.97,567.81 M1233.65,677.66 L1234.66,680.34 L1235.64,683.04 L1236.59,685.75 L1237.50,688.47 M1315.33,648.07 L1316.72,651.75 L1318.07,655.44 L1319.36,659.15 L1320.61,662.88 M1397.01,618.48 L1398.78,623.15 L1400.49,627.85 L1402.14,632.56 L1403.72,637.30 M1446.02,600.72 L1448.02,605.99 L1449.94,611.29 L1451.80,616.61 L1453.59,621.95 M1478.69,588.89 L1480.84,594.56 L1482.91,600.25 L1484.91,605.97 L1486.83,611.71 M1237.75,689.22 L1238.61,691.96 L1239.44,694.70 L1240.24,697.45 L1241.00,700.22 M1320.95,663.92 L1322.14,667.67 L1323.28,671.43 L1324.37,675.20 L1325.41,678.99 M1404.15,638.62 L1405.66,643.37 L1407.11,648.15 L1408.49,652.95 L1409.81,657.76 M1454.07,623.43 L1455.77,628.80 L1457.40,634.19 L1458.97,639.59 L1460.46,645.02 M1487.35,613.31 L1489.18,619.08 L1490.94,624.88 L1492.62,630.69 L1494.22,636.53 M1241.20,700.99 L1241.92,703.76 L1242.59,706.54 L1243.24,709.33 L1243.84,712.13 M1325.69,680.04 L1326.66,683.84 L1327.59,687.66 L1328.47,691.48 L1329.30,695.32 M1410.17,659.10 L1411.41,663.93 L1412.59,668.77 L1413.71,673.63 L1414.76,678.50 M1460.86,646.53 L1462.26,651.98 L1463.59,657.44 L1464.85,662.92 L1466.04,668.42 M1494.65,638.15 L1496.16,644.01 L1497.59,649.89 L1498.94,655.78 L1500.22,661.69 M1244.00,712.91 L1244.56,715.72 L1245.08,718.53 L1245.57,721.35 L1246.02,724.18 M1329.52,696.38 L1330.29,700.23 L1331.00,704.09 L1331.67,707.95 L1332.29,711.83 M1415.04,679.86 L1416.02,684.75 L1416.93,689.65 L1417.77,694.56 L1418.55,699.48 M1466.35,669.94 L1467.45,675.46 L1468.48,680.98 L1469.43,686.52 L1470.32,692.07 M1500.56,663.33 L1501.74,669.26 L1502.85,675.20 L1503.87,681.16 L1504.82,687.13 M1246.14,724.96 L1246.54,727.80 L1246.91,730.63 L1247.24,733.47 L1247.53,736.32 M1332.45,712.90 L1333.00,716.79 L1333.50,720.67 L1333.95,724.57 L1334.36,728.47 M1418.76,700.85 L1419.46,705.78 L1420.10,710.72 L1420.67,715.66 L1421.18,720.62 M1470.55,693.61 L1471.34,699.17 L1472.06,704.74 L1472.70,710.32 L1473.28,715.91 M1505.07,688.79 L1505.92,694.77 L1506.70,700.76 L1507.39,706.76 L1508.01,712.77 M1247.60,737.11 L1247.85,739.96 L1248.06,742.81 L1248.23,745.66 L1248.36,748.52 M1334.46,729.55 L1334.79,733.46 L1335.08,737.37 L1335.32,741.28 L1335.50,745.19 M1421.31,722.00 L1421.74,726.96 L1422.10,731.92 L1422.40,736.89 L1422.64,741.87 M1473.42,717.46 L1473.91,723.06 L1474.32,728.66 L1474.65,734.26 L1474.92,739.87 M1508.17,714.44 L1508.69,720.46 L1509.13,726.48 L1509.49,732.51 L1509.77,738.54 M1248.39,749.31 L1248.48,752.17 L1248.53,755.03 L1248.55,757.89 L1248.52,760.75 M1335.54,746.28 L1335.66,750.20 L1335.73,754.12 L1335.75,758.03 L1335.72,761.95 M1422.69,743.25 L1422.84,748.22 L1422.93,753.20 L1422.95,758.18 L1422.91,763.16 M1474.98,741.43 L1475.15,747.04 L1475.25,752.65 L1475.28,758.27 L1475.23,763.88 M1509.84,740.21 L1510.02,746.25 L1510.13,752.29 L1510.16,758.32 L1510.11,764.36 M1248.51,761.54 L1248.44,764.40 L1248.33,767.26 L1248.19,770.11 L1248.00,772.97 M1335.70,763.04 L1335.60,766.96 L1335.45,770.87 L1335.26,774.79 L1335.01,778.70 M1422.89,764.54 L1422.77,769.52 L1422.58,774.49 L1422.33,779.46 L1422.01,784.43 M1475.20,765.44 L1475.06,771.05 L1474.85,776.66 L1474.57,782.27 L1474.21,787.87 M1510.08,766.04 L1509.93,772.07 L1509.70,778.11 L1509.40,784.14 L1509.01,790.17 M1246.99,783.68 L1246.63,786.51 L1246.24,789.35 L1245.81,792.18 L1245.34,795.00 M1333.62,793.38 L1333.13,797.27 L1332.59,801.15 L1332.00,805.03 L1331.36,808.90 M1420.24,803.08 L1419.62,808.02 L1418.94,812.95 L1418.19,817.88 L1417.37,822.79 M1472.22,808.90 L1471.52,814.47 L1470.75,820.04 L1469.90,825.59 L1468.98,831.13 M1506.87,812.78 L1506.12,818.77 L1505.29,824.76 L1504.38,830.73 L1503.39,836.69 M1245.21,795.78 L1244.69,798.60 L1244.14,801.41 L1243.56,804.21 L1242.93,807.00 M1331.17,809.97 L1330.47,813.83 L1329.71,817.68 L1328.91,821.52 L1328.06,825.35 M1417.14,824.16 L1416.24,829.06 L1415.29,833.95 L1414.26,838.83 L1413.18,843.70 M1468.72,832.67 L1467.71,838.20 L1466.63,843.72 L1465.48,849.22 L1464.25,854.70 M1503.10,838.35 L1502.02,844.29 L1500.86,850.22 L1499.62,856.14 L1498.30,862.04 M1242.75,807.78 L1242.08,810.56 L1241.38,813.34 L1240.64,816.11 L1239.86,818.87 M1327.81,826.41 L1326.89,830.23 L1325.93,834.03 L1324.91,837.83 L1323.85,841.61 M1412.87,845.05 L1411.70,849.89 L1410.48,854.73 L1409.19,859.55 L1407.84,864.35 M1463.90,856.23 L1462.59,861.69 L1461.21,867.15 L1459.75,872.58 L1458.23,878.00 M1497.93,863.68 L1496.51,869.56 L1495.03,875.42 L1493.46,881.27 L1491.82,887.09 M1239.64,819.63 L1238.82,822.38 L1237.96,825.11 L1237.07,827.84 L1236.14,830.55 M1323.55,842.66 L1322.42,846.42 L1321.24,850.17 L1320.02,853.90 L1318.75,857.62 M1407.45,865.68 L1406.02,870.46 L1404.53,875.23 L1402.97,879.97 L1401.36,884.70 M1457.79,879.50 L1456.18,884.89 L1454.49,890.26 L1452.74,895.61 L1450.92,900.94 M1491.35,888.71 L1489.62,894.51 L1487.81,900.28 L1485.92,906.04 L1483.96,911.77 M1235.88,831.30 L1234.91,834.00 L1233.90,836.69 L1232.86,839.36 L1231.78,842.03 M1318.39,858.65 L1317.05,862.35 L1315.67,866.04 L1314.24,869.70 L1312.77,873.35 M1400.90,886.01 L1399.20,890.71 L1397.45,895.39 L1395.63,900.04 L1393.76,904.68 M1450.40,902.42 L1448.49,907.72 L1446.51,913.00 L1444.47,918.25 L1442.35,923.47 M1483.41,913.36 L1481.35,919.06 L1479.22,924.73 L1477.02,930.38 L1474.75,936.01 M1231.47,842.76 L1230.35,845.41 L1229.20,848.04 L1228.01,850.66 L1226.79,853.26 M1312.35,874.36 L1310.82,877.99 L1309.23,881.59 L1307.60,885.18 L1305.93,888.75 M1393.23,905.96 L1391.28,910.57 L1389.27,915.15 L1387.20,919.71 L1385.07,924.24 M1441.75,924.92 L1439.55,930.12 L1437.29,935.28 L1434.95,940.42 L1432.55,945.53 M1474.10,937.56 L1471.74,943.15 L1469.30,948.70 L1466.79,954.23 L1464.21,959.73 M1226.44,853.98 L1225.18,856.56 L1223.88,859.13 L1222.55,861.68 L1221.18,864.21 M1305.45,889.73 L1303.72,893.27 L1301.94,896.79 L1300.12,900.29 L1298.24,903.76 M1384.47,925.49 L1382.26,929.99 L1380.00,934.46 L1377.68,938.90 L1375.31,943.31 M1431.87,946.94 L1429.39,952.02 L1426.84,957.06 L1424.22,962.07 L1421.54,967.04 M1463.48,961.25 L1460.81,966.70 L1458.06,972.12 L1455.25,977.51 L1452.37,982.86 M1220.80,864.92 L1219.39,867.43 L1217.95,869.92 L1216.48,872.40 L1214.98,874.86 M1297.72,904.73 L1295.79,908.17 L1293.82,911.59 L1291.80,914.99 L1289.74,918.36 M1374.64,944.53 L1372.19,948.91 L1369.68,953.26 L1367.12,957.57 L1364.50,961.86 M1420.79,968.42 L1418.03,973.36 L1415.20,978.26 L1412.31,983.12 L1409.36,987.96 M1451.56,984.34 L1448.59,989.65 L1445.55,994.92 L1442.44,1000.16 L1439.27,1005.35 M1209.04,883.95 L1207.39,886.32 L1205.71,888.67 L1204.00,891.00 L1202.25,893.30 M1281.61,930.81 L1279.34,934.06 L1277.04,937.28 L1274.69,940.47 L1272.30,943.63 M1354.17,977.68 L1351.29,981.80 L1348.36,985.89 L1345.38,989.95 L1342.35,993.96 M1397.71,1005.80 L1394.47,1010.45 L1391.16,1015.06 L1387.80,1019.63 L1384.38,1024.16 M1426.73,1024.54 L1423.25,1029.55 L1419.69,1034.51 L1416.08,1039.42 L1412.40,1044.30 M1201.76,893.94 L1199.98,896.22 L1198.17,898.48 L1196.34,900.71 L1194.47,902.93 M1271.63,944.51 L1269.19,947.63 L1266.71,950.73 L1264.19,953.79 L1261.63,956.83 M1341.50,995.07 L1338.40,999.04 L1335.25,1002.98 L1332.04,1006.87 L1328.79,1010.72 M1383.42,1025.41 L1379.92,1029.89 L1376.37,1034.32 L1372.76,1038.71 L1369.09,1043.06 M1411.36,1045.64 L1407.60,1050.46 L1403.78,1055.22 L1399.90,1059.95 L1395.95,1064.62 M1193.94,903.54 L1192.04,905.72 L1190.11,907.88 L1188.15,910.02 L1186.16,912.13 M1260.91,957.66 L1258.30,960.66 L1255.65,963.62 L1252.97,966.55 L1250.24,969.44 M1327.88,1011.79 L1324.56,1015.59 L1321.20,1019.35 L1317.79,1023.07 L1314.33,1026.75 M1368.06,1044.26 L1364.32,1048.55 L1360.53,1052.79 L1356.68,1056.99 L1352.78,1061.14 M1394.85,1065.91 L1390.83,1070.52 L1386.75,1075.09 L1382.61,1079.60 L1378.41,1084.06 M1185.60,912.72 L1183.58,914.80 L1181.53,916.86 L1179.46,918.89 L1177.35,920.89 M1249.48,970.24 L1246.71,973.10 L1243.90,975.91 L1241.06,978.70 L1238.17,981.45 M1313.36,1027.77 L1309.84,1031.39 L1306.27,1034.97 L1302.65,1038.51 L1298.99,1042.01 M1351.68,1062.28 L1347.71,1066.37 L1343.69,1070.41 L1339.61,1074.40 L1335.49,1078.34 M1377.23,1085.29 L1372.96,1089.69 L1368.64,1094.03 L1364.25,1098.33 L1359.81,1102.56 M1176.77,921.45 L1174.63,923.42 L1172.47,925.37 L1170.29,927.29 L1168.08,929.19 M1237.37,982.21 L1234.44,984.91 L1231.48,987.58 L1228.49,990.22 L1225.46,992.81 M1297.97,1042.97 L1294.25,1046.41 L1290.49,1049.80 L1286.69,1053.14 L1282.84,1056.44 M1334.33,1079.43 L1330.14,1083.30 L1325.90,1087.13 L1321.61,1090.90 L1317.27,1094.62 M1358.57,1103.73 L1354.06,1107.90 L1349.50,1112.01 L1344.89,1116.07 L1340.22,1120.07 M1167.46,929.71 L1165.22,931.57 L1162.95,933.40 L1160.67,935.21 L1158.36,936.98 M1224.61,993.53 L1221.54,996.08 L1218.44,998.59 L1215.30,1001.07 L1212.13,1003.50 M1281.76,1057.35 L1277.86,1060.59 L1273.92,1063.78 L1269.94,1066.93 L1265.91,1070.02 M1316.06,1095.64 L1311.66,1099.30 L1307.21,1102.90 L1302.72,1106.44 L1298.18,1109.93 M1338.92,1121.17 L1334.18,1125.10 L1329.40,1128.97 L1324.57,1132.79 L1319.69,1136.54 M1157.71,937.47 L1155.37,939.21 L1153.01,940.92 L1150.62,942.61 L1148.22,944.26 M1211.25,1004.17 L1208.04,1006.56 L1204.80,1008.90 L1201.53,1011.21 L1198.24,1013.48 M1264.79,1070.87 L1260.71,1073.90 L1256.60,1076.88 L1252.45,1079.82 L1248.26,1082.70 M1296.91,1110.89 L1292.31,1114.31 L1287.68,1117.67 L1282.99,1120.98 L1278.27,1124.23 M1318.33,1137.57 L1313.38,1141.25 L1308.39,1144.86 L1303.36,1148.42 L1298.28,1151.91 M1147.54,944.72 L1145.11,946.33 L1142.66,947.92 L1140.18,949.48 L1137.69,951.01 M1197.31,1014.10 L1193.98,1016.32 L1190.62,1018.49 L1187.22,1020.63 L1183.81,1022.72 M1247.09,1083.49 L1242.85,1086.30 L1238.58,1089.07 L1234.27,1091.78 L1229.92,1094.44 M1276.95,1125.12 L1272.17,1128.29 L1267.35,1131.41 L1262.49,1134.47 L1257.59,1137.47 M1296.86,1152.87 L1291.72,1156.29 L1286.53,1159.64 L1281.31,1162.93 L1276.04,1166.16 M1136.99,951.43 L1134.47,952.91 L1131.93,954.37 L1129.38,955.80 L1126.80,957.19 M1182.85,1023.30 L1179.40,1025.34 L1175.92,1027.33 L1172.41,1029.29 L1168.88,1031.20 M1228.71,1095.17 L1224.32,1097.76 L1219.90,1100.30 L1215.45,1102.78 L1210.97,1105.21 M1256.23,1138.29 L1251.28,1141.21 L1246.30,1144.08 L1241.27,1146.88 L1236.22,1149.62 M1274.57,1167.04 L1269.25,1170.18 L1263.89,1173.26 L1258.49,1176.27 L1253.05,1179.22 M1126.08,957.58 L1123.48,958.93 L1120.87,960.25 L1118.24,961.55 L1115.59,962.81 M1167.90,1031.73 L1164.34,1033.58 L1160.75,1035.40 L1157.15,1037.17 L1153.52,1038.89 M1209.72,1105.88 L1205.19,1108.24 L1200.64,1110.54 L1196.06,1112.79 L1191.44,1114.98 M1234.81,1150.37 L1229.71,1153.03 L1224.57,1155.63 L1219.40,1158.16 L1214.20,1160.64 M1251.53,1180.03 L1246.05,1182.89 L1240.52,1185.68 L1234.97,1188.41 L1229.37,1191.07 M1105.48,967.25 L1102.76,968.36 L1100.03,969.43 L1097.28,970.47 L1094.51,971.47 M1139.67,1044.99 L1135.94,1046.50 L1132.19,1047.97 L1128.42,1049.39 L1124.63,1050.77 M1173.85,1122.73 L1169.11,1124.65 L1164.35,1126.52 L1159.56,1128.32 L1154.75,1130.07 M1194.36,1169.37 L1189.02,1171.54 L1183.64,1173.64 L1178.25,1175.68 L1172.82,1177.65 M1208.03,1200.46 L1202.29,1202.80 L1196.51,1205.06 L1190.70,1207.25 L1184.87,1209.37 M1093.75,971.74 L1090.97,972.70 L1088.18,973.63 L1085.37,974.53 L1082.56,975.38 M1123.58,1051.14 L1119.77,1052.46 L1115.94,1053.73 L1112.10,1054.96 L1108.24,1056.14 M1153.41,1130.55 L1148.57,1132.22 L1143.71,1133.83 L1138.83,1135.39 L1133.93,1136.89 M1171.31,1178.19 L1165.85,1180.07 L1160.37,1181.90 L1154.87,1183.65 L1149.34,1185.34 M1183.24,1209.95 L1177.37,1211.98 L1171.48,1213.94 L1165.56,1215.82 L1159.62,1217.64 M1081.77,975.62 L1078.95,976.43 L1076.11,977.21 L1073.26,977.96 L1070.40,978.67 M1107.17,1056.45 L1103.29,1057.57 L1099.40,1058.64 L1095.50,1059.67 L1091.58,1060.64 M1132.57,1137.29 L1127.64,1138.71 L1122.70,1140.07 L1117.74,1141.37 L1112.77,1142.61 M1147.80,1185.79 L1142.25,1187.40 L1136.68,1188.93 L1131.09,1190.39 L1125.47,1191.79 M1157.96,1218.13 L1151.99,1219.85 L1146.00,1221.50 L1139.98,1223.08 L1133.95,1224.58 M1069.61,978.86 L1066.74,979.53 L1063.86,980.16 L1060.98,980.76 L1058.08,981.32 M1090.49,1060.90 L1086.56,1061.82 L1082.62,1062.69 L1078.66,1063.50 L1074.70,1064.28 M1111.38,1142.94 L1106.38,1144.11 L1101.37,1145.21 L1096.35,1146.25 L1091.31,1147.23 M1123.91,1192.17 L1118.28,1193.48 L1112.63,1194.72 L1106.96,1195.89 L1101.28,1197.00 M1132.27,1224.98 L1126.21,1226.39 L1120.13,1227.73 L1114.04,1228.99 L1107.93,1230.18 M1057.28,981.47 L1054.38,981.99 L1051.47,982.47 L1048.55,982.92 L1045.63,983.33 M1073.59,1064.48 L1069.62,1065.19 L1065.63,1065.85 L1061.64,1066.46 L1057.63,1067.03 M1089.91,1147.49 L1084.86,1148.39 L1079.79,1149.23 L1074.72,1150.01 L1069.64,1150.72 M1099.70,1197.29 L1094.00,1198.31 L1088.29,1199.26 L1082.57,1200.13 L1076.84,1200.94 M1106.23,1230.50 L1100.10,1231.59 L1093.96,1232.61 L1087.80,1233.55 L1081.64,1234.42 M1044.82,983.44 L1041.89,983.80 L1038.96,984.13 L1036.03,984.43 L1033.09,984.69 M1056.52,1067.17 L1052.51,1067.68 L1048.49,1068.13 L1044.47,1068.53 L1040.44,1068.89 M1068.22,1150.91 L1063.13,1151.55 L1058.02,1152.12 L1052.91,1152.64 L1047.80,1153.09 M1075.24,1201.15 L1069.50,1201.87 L1063.74,1202.52 L1057.98,1203.10 L1052.21,1203.61 M1079.92,1234.65 L1073.74,1235.42 L1067.55,1236.12 L1061.36,1236.74 L1055.15,1237.29 M1032.27,984.75 L1029.33,984.97 L1026.39,985.14 L1023.44,985.29 L1020.49,985.39 M1039.32,1068.98 L1035.29,1069.27 L1031.26,1069.51 L1027.22,1069.71 L1023.17,1069.85 M1046.37,1153.20 L1041.25,1153.57 L1036.12,1153.88 L1030.99,1154.13 L1025.86,1154.31 M1050.61,1203.73 L1044.83,1204.15 L1039.05,1204.50 L1033.26,1204.78 L1027.47,1204.99 M1053.43,1237.42 L1047.21,1237.87 L1040.99,1238.25 L1034.77,1238.55 L1028.54,1238.77 M1019.67,985.42 L1016.72,985.48 L1013.77,985.50 L1010.82,985.49 L1007.87,985.44 M1022.05,1069.88 L1018.01,1069.97 L1013.96,1070.00 L1009.92,1069.98 L1005.88,1069.92 M1024.43,1154.35 L1019.30,1154.46 L1014.16,1154.50 L1009.02,1154.48 L1003.88,1154.40 M1025.86,1205.03 L1020.07,1205.15 L1014.27,1205.20 L1008.48,1205.18 L1002.69,1205.08 M1026.81,1238.82 L1020.58,1238.95 L1014.35,1239.00 L1008.12,1238.97 L1001.89,1238.87 M1007.05,985.42 L1004.10,985.33 L1001.15,985.20 L998.21,985.03 L995.27,984.83 M1004.75,1069.89 L1000.71,1069.76 L996.67,1069.59 L992.64,1069.36 L988.60,1069.09 M1002.46,1154.36 L997.32,1154.20 L992.19,1153.98 L987.06,1153.69 L981.94,1153.34 M1001.08,1205.04 L995.29,1204.86 L989.50,1204.61 L983.72,1204.28 L977.94,1203.89 M1000.16,1238.83 L993.93,1238.64 L987.71,1238.36 L981.49,1238.02 L975.27,1237.59 M984.22,983.76 L981.30,983.39 L978.38,982.98 L975.46,982.54 L972.55,982.06 M973.47,1067.61 L969.46,1067.11 L965.45,1066.55 L961.46,1065.94 L957.47,1065.29 M962.71,1151.47 L957.61,1150.82 L952.53,1150.12 L947.45,1149.35 L942.39,1148.52 M956.25,1201.78 L950.51,1201.05 L944.77,1200.26 L939.05,1199.39 L933.34,1198.45 M951.95,1235.32 L945.77,1234.54 L939.61,1233.68 L933.45,1232.75 L927.30,1231.74 M971.75,981.93 L968.85,981.40 L965.95,980.85 L963.06,980.25 L960.19,979.63 M956.36,1065.10 L952.39,1064.38 L948.42,1063.62 L944.47,1062.81 L940.52,1061.95 M940.98,1148.28 L935.93,1147.37 L930.89,1146.40 L925.87,1145.36 L920.85,1144.27 M931.75,1198.18 L926.06,1197.16 L920.37,1196.06 L914.71,1194.90 L909.05,1193.67 M925.60,1231.45 L919.47,1230.35 L913.36,1229.17 L907.27,1227.92 L901.19,1226.60 M959.39,979.45 L956.52,978.77 L953.66,978.07 L950.81,977.33 L947.97,976.55 M939.43,1061.70 L935.50,1060.78 L931.58,1059.81 L927.67,1058.80 L923.78,1057.73 M919.46,1143.96 L914.47,1142.79 L909.49,1141.56 L904.53,1140.27 L899.59,1138.92 M907.49,1193.31 L901.86,1191.99 L896.24,1190.61 L890.65,1189.15 L885.07,1187.63 M899.50,1226.21 L893.45,1224.80 L887.41,1223.30 L881.39,1221.74 L875.39,1220.10 M947.18,976.33 L944.36,975.51 L941.54,974.65 L938.74,973.77 L935.94,972.84 M922.70,1057.43 L918.83,1056.31 L914.97,1055.13 L911.12,1053.92 L907.29,1052.65 M898.21,1138.53 L893.29,1137.10 L888.39,1135.61 L883.51,1134.07 L878.64,1132.46 M883.52,1187.19 L877.97,1185.58 L872.44,1183.90 L866.94,1182.16 L861.45,1180.35 M873.73,1219.63 L867.76,1217.90 L861.81,1216.10 L855.89,1214.22 L849.99,1212.27 M935.17,972.58 L932.39,971.62 L929.63,970.62 L926.88,969.58 L924.14,968.52 M906.23,1052.29 L902.43,1050.97 L898.64,1049.60 L894.87,1048.18 L891.12,1046.72 M877.30,1132.01 L872.46,1130.32 L867.65,1128.58 L862.86,1126.79 L858.09,1124.93 M859.93,1179.83 L854.48,1177.94 L849.05,1175.97 L843.65,1173.95 L838.27,1171.85 M848.36,1211.72 L842.49,1209.68 L836.66,1207.57 L830.85,1205.39 L825.06,1203.14 M923.38,968.22 L920.66,967.11 L917.96,965.97 L915.27,964.79 L912.59,963.58 M890.08,1046.31 L886.35,1044.79 L882.64,1043.23 L878.95,1041.62 L875.29,1039.96 M856.77,1124.40 L852.03,1122.47 L847.32,1120.49 L842.64,1118.44 L837.98,1116.34 M836.79,1171.26 L831.45,1169.08 L826.13,1166.84 L820.85,1164.54 L815.60,1162.17 M823.46,1202.50 L817.72,1200.16 L812.01,1197.75 L806.33,1195.27 L800.68,1192.72 M911.85,963.24 L909.20,961.99 L906.56,960.71 L903.94,959.40 L901.33,958.06 M874.27,1039.49 L870.63,1037.78 L867.02,1036.03 L863.43,1034.23 L859.86,1032.39 M836.69,1115.75 L832.07,1113.57 L827.48,1111.34 L822.91,1109.06 L818.38,1106.72 M814.15,1161.50 L808.93,1159.05 L803.75,1156.53 L798.61,1153.95 L793.49,1151.32 M799.11,1192.00 L793.51,1189.36 L787.94,1186.66 L782.40,1183.89 L776.90,1181.05 M900.61,957.68 L898.03,956.29 L895.47,954.88 L892.92,953.43 L890.40,951.96 M858.87,1031.87 L855.33,1029.97 L851.82,1028.03 L848.33,1026.05 L844.87,1024.02 M817.12,1106.06 L812.63,1103.65 L808.17,1101.18 L803.73,1098.66 L799.34,1096.09 M792.08,1150.57 L787.01,1147.85 L781.97,1145.07 L776.98,1142.23 L772.02,1139.33 M775.38,1180.25 L769.93,1177.32 L764.51,1174.33 L759.14,1171.28 L753.81,1168.16 M889.70,951.54 L887.20,950.02 L884.72,948.48 L882.26,946.90 L879.81,945.29 M843.91,1023.45 L840.48,1021.37 L837.08,1019.25 L833.71,1017.09 L830.36,1014.89 M798.12,1095.37 L793.76,1092.73 L789.44,1090.03 L785.16,1087.29 L780.91,1084.49 M770.65,1138.51 L765.73,1135.54 L760.86,1132.50 L756.03,1129.40 L751.24,1126.25 M752.33,1167.28 L747.05,1164.08 L741.81,1160.81 L736.61,1157.48 L731.46,1154.09 M879.14,944.84 L876.73,943.20 L874.33,941.52 L871.96,939.82 L869.62,938.09 M829.44,1014.27 L826.13,1012.02 L822.85,1009.73 L819.60,1007.39 L816.38,1005.02 M779.73,1083.70 L775.53,1080.84 L771.37,1077.93 L767.24,1074.96 L763.15,1071.95 M749.91,1125.36 L745.17,1122.13 L740.48,1118.85 L735.82,1115.50 L731.21,1112.11 M730.03,1153.13 L724.93,1149.66 L719.88,1146.13 L714.88,1142.53 L709.92,1138.88 M868.97,937.60 L866.65,935.84 L864.35,934.04 L862.08,932.22 L859.83,930.37 M815.49,1004.35 L812.32,1001.93 L809.17,999.47 L806.05,996.97 L802.97,994.43 M762.02,1071.10 L757.98,1068.02 L753.98,1064.90 L750.03,1061.72 L746.11,1058.50 M729.94,1111.15 L725.38,1107.68 L720.87,1104.16 L716.41,1100.58 L711.99,1096.94 M708.55,1137.85 L703.65,1134.12 L698.80,1130.33 L694.00,1126.48 L689.25,1122.57 M859.21,929.85 L856.99,927.96 L854.80,926.05 L852.63,924.11 L850.48,922.15 M802.12,993.72 L799.08,991.14 L796.07,988.52 L793.10,985.86 L790.16,983.17 M745.03,1057.60 L741.17,1054.32 L737.35,1050.99 L733.57,1047.61 L729.84,1044.19 M710.78,1095.92 L706.42,1092.22 L702.11,1088.47 L697.85,1084.66 L693.65,1080.80 M687.94,1121.47 L683.26,1117.49 L678.62,1113.45 L674.04,1109.36 L669.52,1105.21 M849.89,921.60 L847.78,919.60 L845.70,917.58 L843.64,915.53 L841.61,913.45 M789.35,982.41 L786.46,979.68 L783.60,976.90 L780.78,974.10 L778.00,971.25 M728.81,1043.23 L725.13,1039.75 L721.50,1036.23 L717.92,1032.66 L714.38,1029.05 M692.49,1079.72 L688.34,1075.80 L684.25,1071.83 L680.21,1067.80 L676.22,1063.73 M668.27,1104.05 L663.81,1099.83 L659.41,1095.56 L655.06,1091.23 L650.77,1086.85 M834.21,905.44 L832.31,903.25 L830.44,901.04 L828.60,898.81 L826.78,896.55 M767.86,960.27 L765.25,957.27 L762.69,954.24 L760.16,951.18 L757.67,948.09 M701.50,1015.10 L698.19,1011.29 L694.93,1007.44 L691.72,1003.55 L688.57,999.63 M661.69,1047.99 L657.96,1043.70 L654.28,1039.36 L650.66,1034.98 L647.10,1030.55 M635.15,1069.92 L631.13,1065.31 L627.18,1060.64 L623.29,1055.92 L619.46,1051.16 M826.28,895.92 L824.51,893.64 L822.76,891.34 L821.04,889.01 L819.36,886.67 M756.99,947.23 L754.55,944.10 L752.16,940.94 L749.81,937.75 L747.49,934.54 M687.70,998.53 L684.60,994.55 L681.56,990.54 L678.57,986.49 L675.63,982.41 M646.12,1029.31 L642.63,1024.83 L639.20,1020.30 L635.83,1015.74 L632.52,1011.13 M618.40,1049.83 L614.65,1045.01 L610.96,1040.14 L607.34,1035.23 L603.77,1030.28 M818.89,886.01 L817.24,883.64 L815.63,881.25 L814.04,878.84 L812.49,876.41 M746.86,933.64 L744.60,930.39 L742.39,927.11 L740.21,923.81 L738.08,920.48 M674.83,981.27 L671.96,977.14 L669.14,972.97 L666.38,968.78 L663.68,964.54 M631.61,1009.85 L628.37,1005.19 L625.20,1000.49 L622.08,995.76 L619.03,990.99 M602.80,1028.90 L599.32,1023.89 L595.90,1018.84 L592.55,1013.75 L589.27,1008.61 M812.06,875.73 L810.55,873.28 L809.06,870.80 L807.61,868.31 L806.20,865.81 M737.50,919.55 L735.42,916.18 L733.39,912.79 L731.40,909.38 L729.46,905.95 M662.93,963.36 L660.30,959.09 L657.72,954.79 L655.19,950.45 L652.72,946.09 M618.20,989.65 L615.22,984.84 L612.31,979.98 L609.46,975.09 L606.68,970.17 M588.37,1007.18 L585.17,1002.00 L582.04,996.78 L578.98,991.52 L575.98,986.22 M805.81,865.11 L804.43,862.58 L803.09,860.03 L801.78,857.47 L800.50,854.89 M728.93,904.99 L727.04,901.52 L725.20,898.03 L723.40,894.52 L721.65,890.99 M652.05,944.87 L649.65,940.46 L647.31,936.03 L645.03,931.57 L642.81,927.08 M605.92,968.80 L603.22,963.83 L600.58,958.83 L598.00,953.80 L595.50,948.74 M575.17,984.75 L572.26,979.41 L569.42,974.03 L566.65,968.62 L563.96,963.18 M800.15,854.17 L798.92,851.58 L797.72,848.97 L796.55,846.34 L795.42,843.70 M721.18,890.00 L719.48,886.44 L717.84,882.86 L716.24,879.26 L714.69,875.65 M642.20,925.83 L640.05,921.31 L637.96,916.76 L635.93,912.19 L633.96,907.59 M594.81,947.33 L592.39,942.23 L590.03,937.10 L587.74,931.94 L585.52,926.76 M563.22,961.66 L560.61,956.18 L558.08,950.66 L555.62,945.11 L553.22,939.54 M795.11,842.96 L794.02,840.31 L792.97,837.64 L791.95,834.95 L790.96,832.26 M714.26,874.64 L712.77,871.00 L711.33,867.34 L709.93,863.66 L708.58,859.96 M633.42,906.31 L631.52,901.68 L629.69,897.04 L627.91,892.36 L626.20,887.67 M584.91,925.32 L582.77,920.10 L580.70,914.85 L578.70,909.59 L576.77,904.29 M552.57,937.99 L550.27,932.37 L548.05,926.73 L545.89,921.07 L543.81,915.38 M790.69,831.51 L789.75,828.80 L788.85,826.08 L787.98,823.34 L787.14,820.60 M708.21,858.94 L706.92,855.22 L705.68,851.49 L704.49,847.75 L703.35,843.99 M625.73,886.36 L624.09,881.64 L622.52,876.91 L621.00,872.15 L619.55,867.37 M576.24,902.82 L574.39,897.50 L572.62,892.16 L570.91,886.79 L569.27,881.41 M543.25,913.79 L541.26,908.07 L539.35,902.32 L537.51,896.55 L535.75,890.76 M786.92,819.84 L786.13,817.08 L785.38,814.32 L784.66,811.55 L783.98,808.76 M703.04,842.94 L701.96,839.17 L700.92,835.38 L699.94,831.58 L699.01,827.76 M619.16,866.05 L617.78,861.25 L616.47,856.43 L615.22,851.61 L614.04,846.76 M568.83,879.91 L567.28,874.50 L565.80,869.07 L564.39,863.62 L563.05,858.16 M535.28,889.15 L533.61,883.33 L532.02,877.49 L530.50,871.64 L529.07,865.76 M783.80,807.99 L783.16,805.20 L782.56,802.40 L782.00,799.59 L781.47,796.78 M698.76,826.70 L697.89,822.88 L697.06,819.04 L696.29,815.19 L695.57,811.34 M613.72,845.41 L612.61,840.55 L611.57,835.68 L610.59,830.79 L609.67,825.89 M562.69,856.64 L561.45,851.16 L560.27,845.66 L559.17,840.15 L558.13,834.63 M528.68,864.13 L527.34,858.23 L526.07,852.32 L524.88,846.39 L523.77,840.45 M781.33,796.00 L780.85,793.17 L780.41,790.35 L780.00,787.52 L779.63,784.68 M695.38,810.26 L694.72,806.40 L694.11,802.52 L693.56,798.64 L693.05,794.75 M609.43,824.53 L608.59,819.62 L607.82,814.70 L607.11,809.77 L606.47,804.83 M557.86,833.09 L556.91,827.55 L556.04,822.00 L555.25,816.44 L554.52,810.87 M523.48,838.80 L522.46,832.84 L521.53,826.87 L520.67,820.89 L519.89,814.90 M778.78,776.61 L778.49,772.85 L778.26,769.09 L778.09,765.32 L777.99,761.56 M691.88,783.69 L691.48,778.54 L691.17,773.38 L690.94,768.22 L690.80,763.06 M604.99,790.77 L604.48,784.23 L604.08,777.68 L603.79,771.12 L603.61,764.57 M552.85,795.02 L552.27,787.64 L551.82,780.26 L551.50,772.87 L551.30,765.47 M518.09,797.85 L517.47,789.92 L516.98,781.97 L516.63,774.03 L516.42,766.07 M778.00,761.76 L777.96,758.90 L777.96,756.04 L778.00,753.18 L778.07,750.32 M690.81,763.34 L690.76,759.42 L690.76,755.50 L690.81,751.58 L690.91,747.67 M603.62,764.92 L603.55,759.94 L603.55,754.96 L603.62,749.98 L603.75,745.01 M551.30,765.86 L551.23,760.25 L551.23,754.64 L551.31,749.02 L551.45,743.41 M516.43,766.50 L516.35,760.46 L516.35,754.42 L516.43,748.38 L516.59,742.35 M778.10,749.53 L778.22,746.67 L778.38,743.82 L778.57,740.97 L778.81,738.12 M690.95,746.58 L691.11,742.66 L691.33,738.75 L691.60,734.84 L691.92,730.93 M603.80,743.62 L604.01,738.65 L604.28,733.68 L604.62,728.71 L605.03,723.75 M551.51,741.85 L551.74,736.24 L552.06,730.64 L552.44,725.03 L552.90,719.44 M516.65,740.67 L516.90,734.64 L517.24,728.61 L517.65,722.58 L518.14,716.56 M778.88,737.33 L779.16,734.48 L779.47,731.64 L779.83,728.80 L780.22,725.96 M692.02,729.85 L692.40,725.95 L692.83,722.05 L693.32,718.16 L693.85,714.28 M605.15,722.37 L605.64,717.42 L606.19,712.47 L606.81,707.52 L607.48,702.59 M553.04,717.88 L553.58,712.30 L554.21,706.71 L554.90,701.14 L555.66,695.58 M518.29,714.89 L518.88,708.88 L519.55,702.88 L520.30,696.89 L521.12,690.90 M780.33,725.18 L780.77,722.35 L781.24,719.53 L781.75,716.71 L782.30,713.90 M694.01,713.20 L694.61,709.32 L695.25,705.45 L695.95,701.59 L696.70,697.74 M607.68,701.22 L608.44,696.30 L609.27,691.38 L610.16,686.48 L611.11,681.59 M555.89,694.03 L556.75,688.48 L557.68,682.94 L558.68,677.41 L559.75,671.89 M521.36,689.24 L522.28,683.27 L523.28,677.31 L524.36,671.36 L525.51,665.43 M782.45,713.12 L783.05,710.32 L783.68,707.53 L784.34,704.74 L785.04,701.97 M696.92,696.68 L697.73,692.84 L698.59,689.01 L699.50,685.19 L700.46,681.38 M611.38,680.23 L612.41,675.35 L613.51,670.49 L614.67,665.64 L615.89,660.80 M560.06,670.36 L561.22,664.86 L562.46,659.38 L563.76,653.91 L565.14,648.45 M525.85,663.78 L527.10,657.87 L528.42,651.97 L529.83,646.09 L531.31,640.22 M785.24,701.20 L785.99,698.43 L786.77,695.67 L787.59,692.93 L788.44,690.19 M700.74,680.33 L701.76,676.54 L702.83,672.76 L703.95,668.99 L705.12,665.24 M616.24,659.46 L617.54,654.65 L618.90,649.84 L620.32,645.06 L621.81,640.30 M565.53,646.94 L567.00,641.51 L568.54,636.10 L570.14,630.70 L571.82,625.33 M531.73,638.59 L533.31,632.75 L534.96,626.93 L536.69,621.13 L538.49,615.35 M788.68,689.43 L789.58,686.71 L790.52,684.00 L791.49,681.29 L792.49,678.61 M705.46,664.20 L706.69,660.47 L707.97,656.75 L709.30,653.05 L710.67,649.37 M622.23,638.98 L623.80,634.23 L625.42,629.51 L627.11,624.81 L628.86,620.13 M572.29,623.84 L574.06,618.49 L575.89,613.17 L577.79,607.86 L579.77,602.58 M539.00,613.75 L540.90,608.00 L542.87,602.27 L544.92,596.57 L547.04,590.89 M792.77,677.86 L793.82,675.19 L794.90,672.53 L796.02,669.88 L797.17,667.25 M711.06,648.35 L712.50,644.68 L713.98,641.04 L715.51,637.41 L717.09,633.80 M629.35,618.83 L631.18,614.18 L633.06,609.55 L635.01,604.94 L637.01,600.35 M580.32,601.12 L582.38,595.87 L584.51,590.65 L586.70,585.45 L588.96,580.29 M547.64,589.32 L549.85,583.67 L552.14,578.05 L554.50,572.47 L556.93,566.91 M797.50,666.52 L798.69,663.91 L799.92,661.31 L801.18,658.72 L802.48,656.15 M717.54,632.80 L719.17,629.22 L720.86,625.66 L722.59,622.11 L724.36,618.59 M637.58,599.09 L639.66,594.53 L641.79,590.01 L643.99,585.51 L646.25,581.03 M589.60,578.85 L591.95,573.72 L594.36,568.62 L596.83,563.54 L599.38,558.50 M557.62,565.37 L560.14,559.85 L562.73,554.36 L565.40,548.90 L568.13,543.47 M802.84,655.44 L804.18,652.89 L805.55,650.36 L806.95,647.85 L808.39,645.35 M724.86,617.62 L726.70,614.13 L728.57,610.66 L730.50,607.21 L732.46,603.78 M646.88,579.80 L649.21,575.36 L651.60,570.95 L654.04,566.57 L656.54,562.22 M600.09,557.10 L602.72,552.10 L605.41,547.12 L608.17,542.19 L610.98,537.28 M568.90,541.97 L571.73,536.59 L574.62,531.24 L577.58,525.93 L580.61,520.65 M808.79,644.66 L810.27,642.18 L811.78,639.73 L813.32,637.29 L814.89,634.87 M733.02,602.84 L735.04,599.44 L737.11,596.08 L739.22,592.73 L741.37,589.42 M657.24,561.02 L659.81,556.71 L662.44,552.43 L665.12,548.18 L667.86,543.97 M611.78,535.92 L614.68,531.06 L617.64,526.24 L620.66,521.45 L623.75,516.70 M581.47,519.20 L584.59,513.97 L587.77,508.78 L591.02,503.63 L594.34,498.52 M815.33,634.20 L816.94,631.80 L818.58,629.43 L820.26,627.07 L821.96,624.74 M741.98,588.50 L744.19,585.22 L746.44,581.96 L748.73,578.73 L751.06,575.53 M668.63,542.80 L671.43,538.63 L674.29,534.50 L677.20,530.40 L680.17,526.33 M624.62,515.38 L627.78,510.68 L631.00,506.02 L634.29,501.39 L637.63,496.81 M595.27,497.11 L598.68,492.05 L602.15,487.03 L605.68,482.06 L609.27,477.13 M822.44,624.09 L824.18,621.78 L825.95,619.50 L827.75,617.23 L829.58,614.99 M751.72,574.65 L754.11,571.49 L756.53,568.35 L759.00,565.25 L761.51,562.17 M681.00,525.21 L684.03,521.19 L687.12,517.21 L690.25,513.26 L693.44,509.36 M638.57,495.54 L641.99,491.01 L645.47,486.52 L649.00,482.07 L652.60,477.67 M610.28,475.76 L613.96,470.89 L617.70,466.06 L621.50,461.28 L625.37,456.54 M830.09,614.37 L831.96,612.16 L833.86,609.97 L835.78,607.80 L837.73,605.65 M762.21,561.33 L764.77,558.29 L767.37,555.29 L770.01,552.31 L772.68,549.38 M694.33,508.28 L697.58,504.42 L700.88,500.61 L704.23,496.83 L707.63,493.10 M653.61,476.45 L657.27,472.10 L660.99,467.80 L664.77,463.54 L668.60,459.33 M626.45,455.23 L630.40,450.56 L634.40,445.93 L638.46,441.35 L642.58,436.82 M838.28,605.06 L840.26,602.95 L842.28,600.86 L844.32,598.79 L846.38,596.75 M773.43,548.56 L776.15,545.67 L778.91,542.80 L781.71,539.97 L784.54,537.18 M708.58,492.07 L712.04,488.39 L715.55,484.75 L719.10,481.15 L722.70,477.60 M669.67,458.17 L673.57,454.02 L677.53,449.92 L681.54,445.86 L685.59,441.86 M643.73,435.57 L647.93,431.11 L652.18,426.69 L656.49,422.33 L660.86,418.03" fill="none" stroke="#161616" stroke-width="3"/>
<path d="M968.60,620.68 L970.62,620.07 L972.65,619.50 L974.69,618.95 L976.74,618.43 M976.23,618.55 L978.29,618.06 L980.35,617.59 L982.41,617.15 L984.48,616.73 M983.98,616.83 L986.05,616.44 L988.14,616.08 L990.22,615.75 L992.31,615.44 M991.80,615.51 L993.90,615.23 L996.00,614.98 L998.10,614.75 L1000.21,614.56 M999.69,614.60 L1001.80,614.43 L1003.91,614.29 L1006.02,614.17 L1008.13,614.09 M1007.62,614.10 L1009.73,614.04 L1011.85,614.01 L1013.96,614.00 L1016.08,614.03 M1015.56,614.02 L1017.67,614.06 L1019.79,614.14 L1021.90,614.24 L1024.01,614.38 M1029.94,614.91 L1032.04,615.16 L1034.13,615.43 L1036.23,615.74 L1038.31,616.07 M1037.80,615.99 L1039.89,616.34 L1041.96,616.72 L1044.04,617.14 L1046.10,617.58 M1045.60,617.46 L1047.66,617.93 L1049.71,618.42 L1051.76,618.94 L1053.80,619.48 M1053.30,619.35 L1055.33,619.92 L1057.36,620.51 L1059.37,621.14 L1061.38,621.79 M1060.89,621.63 L1062.88,622.30 L1064.87,623.00 L1066.85,623.73 L1068.82,624.48 M1068.34,624.30 L1070.29,625.07 L1072.24,625.88 L1074.17,626.71 L1076.10,627.56 M1075.63,627.35 L1077.54,628.23 L1079.44,629.13 L1081.32,630.06 L1083.20,631.01 M1088.38,633.84 L1090.20,634.89 L1092.00,635.97 L1093.78,637.07 L1095.55,638.20 M1095.12,637.92 L1096.87,639.07 L1098.61,640.24 L1100.33,641.43 L1102.03,642.65 M1101.62,642.35 L1103.31,643.58 L1104.98,644.84 L1106.63,646.12 L1108.26,647.42 M1112.75,651.21 L1114.30,652.60 L1115.84,654.01 L1117.35,655.44 L1118.85,656.89 M1118.48,656.53 L1119.96,658.00 L1121.42,659.49 L1122.85,661.00 L1124.26,662.52 M1123.92,662.15 L1125.31,663.69 L1126.69,665.25 L1128.03,666.83 L1129.36,668.43 M1129.04,668.03 L1130.34,669.65 L1131.63,671.28 L1132.89,672.92 L1134.12,674.59 M1133.82,674.18 L1135.04,675.86 L1136.23,677.55 L1137.39,679.26 L1138.53,680.99 M1138.26,680.56 L1139.38,682.30 L1140.47,684.05 L1141.54,685.82 L1142.59,687.61 M1142.34,687.17 L1143.36,688.96 L1144.36,690.77 L1145.33,692.59 L1146.27,694.43 M1146.04,693.98 L1146.96,695.82 L1147.86,697.68 L1148.73,699.55 L1149.57,701.43 M1151.78,706.78 L1152.52,708.70 L1153.22,710.64 L1153.90,712.58 L1154.55,714.53 M1154.39,714.05 L1155.02,716.01 L1155.61,717.97 L1156.18,719.95 L1156.72,721.93 M1156.59,721.45 L1157.11,723.43 L1157.60,725.43 L1158.05,727.43 L1158.48,729.44 M1158.38,728.94 L1158.79,730.96 L1159.16,732.97 L1159.51,735.00 L1159.83,737.02 M1159.75,736.53 L1160.05,738.56 L1160.31,740.59 L1160.54,742.63 L1160.75,744.67 M1160.70,744.17 L1160.88,746.21 L1161.03,748.25 L1161.16,750.30 L1161.25,752.35 M1161.23,751.85 L1161.30,753.90 L1161.33,755.95 L1161.34,758.00 L1161.32,760.05 M1161.33,759.54 L1161.28,761.59 L1161.21,763.64 L1161.10,765.69 L1160.96,767.73 M1160.42,773.48 L1160.17,775.51 L1159.89,777.54 L1159.58,779.57 L1159.24,781.60 M1159.33,781.10 L1158.96,783.12 L1158.57,785.13 L1158.15,787.14 L1157.70,789.15 M1157.81,788.66 L1157.34,790.65 L1156.83,792.64 L1156.30,794.63 L1155.74,796.60 M1155.88,796.12 L1155.29,798.09 L1154.68,800.05 L1154.04,802.01 L1153.37,803.95 M1153.54,803.48 L1152.84,805.41 L1152.12,807.34 L1151.37,809.26 L1150.60,811.16 M1150.79,810.70 L1149.99,812.60 L1149.17,814.48 L1148.31,816.36 L1147.43,818.22 M1147.65,817.77 L1146.75,819.62 L1145.82,821.46 L1144.86,823.29 L1143.88,825.11 M1144.12,824.66 L1143.12,826.47 L1142.09,828.26 L1141.03,830.03 L1139.95,831.80 M1136.77,836.67 L1135.59,838.37 L1134.38,840.06 L1133.15,841.72 L1131.90,843.37 M1132.21,842.97 L1130.93,844.61 L1129.64,846.23 L1128.32,847.83 L1126.98,849.42 M1127.31,849.03 L1125.95,850.60 L1124.56,852.15 L1123.15,853.68 L1121.73,855.19 M1122.08,854.82 L1120.63,856.32 L1119.16,857.80 L1117.67,859.25 L1116.16,860.69 M1116.54,860.34 L1115.01,861.76 L1113.46,863.15 L1111.89,864.53 L1110.31,865.89 M1110.70,865.56 L1109.09,866.89 L1107.47,868.21 L1105.83,869.50 L1104.17,870.77 M1104.58,870.46 L1102.90,871.72 L1101.21,872.95 L1099.50,874.15 L1097.77,875.33 M1098.20,875.05 L1096.45,876.21 L1094.70,877.35 L1092.92,878.46 L1091.13,879.55 M1091.57,879.29 L1089.77,880.36 L1087.95,881.41 L1086.11,882.43 L1084.26,883.43 M1084.72,883.18 L1082.86,884.16 L1080.98,885.11 L1079.10,886.04 L1077.19,886.93 M1071.78,889.32 L1069.83,890.12 L1067.87,890.88 L1065.89,891.63 L1063.91,892.34 M1064.40,892.17 L1062.41,892.86 L1060.41,893.53 L1058.40,894.17 L1056.38,894.78 M1056.87,894.63 L1054.85,895.22 L1052.81,895.78 L1050.77,896.32 L1048.72,896.82 M1049.22,896.70 L1047.17,897.19 L1045.10,897.64 L1043.03,898.07 L1040.96,898.47 M1041.47,898.37 L1039.39,898.75 L1037.30,899.09 L1035.21,899.41 L1033.12,899.70 M1033.63,899.63 L1031.54,899.90 L1029.43,900.14 L1027.33,900.35 L1025.22,900.53 M1025.74,900.49 L1023.63,900.65 L1021.52,900.78 L1019.41,900.88 L1017.29,900.95 M1017.81,900.93 L1015.69,900.98 L1013.58,901.00 L1011.46,900.99 L1009.35,900.95 M1009.87,900.96 L1007.75,900.90 L1005.64,900.81 L1003.53,900.69 L1001.42,900.54 M995.49,899.96 L993.40,899.70 L991.30,899.42 L989.21,899.10 L987.13,898.75 M987.64,898.84 L985.56,898.47 L983.48,898.07 L981.41,897.64 L979.35,897.19 M979.85,897.30 L977.80,896.83 L975.75,896.32 L973.70,895.79 L971.67,895.23 M972.17,895.37 L970.14,894.78 L968.12,894.17 L966.11,893.54 L964.11,892.87 M964.60,893.03 L962.60,892.35 L960.62,891.63 L958.65,890.89 L956.69,890.12 M957.17,890.31 L955.21,889.52 L953.27,888.71 L951.35,887.86 L949.43,886.99 M949.90,887.21 L947.99,886.32 L946.10,885.40 L944.22,884.46 L942.36,883.49 M942.81,883.73 L940.96,882.74 L939.12,881.73 L937.30,880.69 L935.49,879.62 M935.93,879.89 L934.13,878.81 L932.35,877.70 L930.59,876.57 L928.84,875.41 M929.27,875.69 L927.53,874.52 L925.82,873.32 L924.12,872.10 L922.44,870.85 M922.85,871.16 L921.18,869.90 L919.54,868.61 L917.91,867.30 L916.30,865.97 M916.69,866.30 L915.10,864.95 L913.52,863.58 L911.97,862.19 L910.44,860.78 M910.81,861.13 L909.29,859.70 L907.80,858.25 L906.32,856.78 L904.87,855.29 M900.90,850.99 L899.53,849.43 L898.19,847.84 L896.87,846.24 L895.57,844.62 M895.89,845.02 L894.61,843.39 L893.36,841.74 L892.13,840.07 L890.92,838.38 M891.22,838.80 L890.03,837.10 L888.87,835.39 L887.73,833.66 L886.62,831.91 M886.89,832.34 L885.80,830.58 L884.74,828.81 L883.70,827.03 L882.69,825.22 M882.93,825.67 L881.94,823.86 L880.98,822.03 L880.04,820.19 L879.13,818.34 M879.35,818.80 L878.46,816.94 L877.60,815.07 L876.76,813.18 L875.96,811.29 M876.15,811.75 L875.36,809.85 L874.61,807.94 L873.88,806.01 L873.18,804.08 M873.35,804.55 L872.67,802.61 L872.02,800.66 L871.39,798.70 L870.80,796.73 M870.94,797.22 L870.37,795.24 L869.83,793.26 L869.32,791.27 L868.83,789.28 M868.95,789.77 L868.49,787.77 L868.06,785.76 L867.66,783.75 L867.28,781.73 M867.37,782.22 L867.02,780.20 L866.70,778.17 L866.41,776.14 L866.15,774.11 M865.68,769.53 L865.50,767.19 L865.35,764.86 L865.25,762.52 L865.18,760.18 M865.19,760.68 L865.16,758.63 L865.16,756.58 L865.19,754.53 L865.25,752.48 M865.23,752.98 L865.31,750.94 L865.42,748.89 L865.57,746.84 L865.74,744.80 M865.69,745.30 L865.89,743.26 L866.11,741.22 L866.37,739.19 L866.65,737.16 M866.58,737.65 L866.89,735.62 L867.23,733.60 L867.59,731.58 L867.99,729.57 M867.89,730.06 L868.31,728.05 L868.76,726.05 L869.24,724.05 L869.74,722.06 M869.62,722.55 L870.15,720.56 L870.71,718.59 L871.30,716.62 L871.91,714.66 M871.76,715.14 L872.40,713.18 L873.07,711.24 L873.76,709.30 L874.49,707.38 M874.31,707.85 L875.05,705.93 L875.83,704.02 L876.63,702.12 L877.46,700.24 M877.25,700.70 L878.10,698.82 L878.98,696.96 L879.89,695.11 L880.82,693.27 M880.59,693.71 L881.55,691.89 L882.53,690.07 L883.53,688.27 L884.57,686.48 M884.31,686.91 L885.37,685.14 L886.45,683.37 L887.55,681.63 L888.68,679.89 M888.40,680.32 L889.55,678.60 L890.73,676.89 L891.93,675.21 L893.16,673.53 M892.85,673.94 L894.10,672.28 L895.37,670.64 L896.66,669.02 L897.97,667.42 M897.65,667.81 L898.98,666.22 L900.34,664.64 L901.72,663.09 L903.13,661.56 M902.78,661.93 L904.20,660.41 L905.64,658.91 L907.11,657.43 L908.59,655.97" fill="none" stroke="#161616" stroke-width="3.6" stroke-dasharray="2.4 1.5"/>
<rect x="25" y="57.5" width="507" height="277" fill="none" stroke="#2c4a62" stroke-width="3.5"/>
<rect x="45" y="84" width="32.5" height="42" fill="#236a30"/>
<rect x="45" y="133" width="32.5" height="41.5" fill="#7cc142"/>
<rect x="45" y="179.5" width="32.5" height="42" fill="#f4b51d"/>
<rect x="45" y="228.5" width="32.5" height="41.5" fill="#e31d25"/>
<rect x="45" y="274.5" width="32.5" height="43" fill="#a8a8a8"/>
<text x="95.8" y="116.3" font-size="35.5" font-weight="bold" fill="#0e3a58" textLength="409.7" lengthAdjust="spacingAndGlyphs">Sumamente importante</text>
<text x="95.8" y="167.6" font-size="35.5" font-weight="bold" fill="#0e3a58" textLength="194.2" lengthAdjust="spacingAndGlyphs">Importante</text>
<text x="95.8" y="216.1" font-size="35.5" font-weight="bold" fill="#0e3a58" textLength="337.9" lengthAdjust="spacingAndGlyphs">No muy importante</text>
<text x="95.8" y="266.8" font-size="35.5" font-weight="bold" fill="#0e3a58" textLength="299.2" lengthAdjust="spacingAndGlyphs">No es importante</text>
<text x="95.8" y="315.3" font-size="35.5" font-weight="bold" fill="#0e3a58" textLength="389.8" lengthAdjust="spacingAndGlyphs">Sin opinión al respecto</text>
<text x="723.6" y="101.6" font-size="28" font-weight="bold" fill="#0e3a58" textLength="419.1" lengthAdjust="spacingAndGlyphs">Fisiopatología del dolor (T. 1, 9)</text>
<text x="719.1" y="147.6" font-size="29"  fill="#0e3a58" textLength="429.2" lengthAdjust="spacingAndGlyphs">(nuevos objetivos y traslacional)</text>
<text x="1206.9" y="128.7" font-size="28" font-weight="bold" fill="#0e3a58" textLength="347.1" lengthAdjust="spacingAndGlyphs">Farmacoterapia (T. 3, 5, 9)</text>
<text x="1293.8" y="176.2" font-size="29"  fill="#0e3a58" textLength="174.1" lengthAdjust="spacingAndGlyphs">(traslacional)</text>
<text x="1443.3" y="244.8" font-size="28" font-weight="bold" fill="#0e3a58" textLength="451.9" lengthAdjust="spacingAndGlyphs">Enfoques no farmacológicos (T. 5)</text>
<text x="1467.9" y="293.3" font-size="29"  fill="#0e3a58" textLength="402.7" lengthAdjust="spacingAndGlyphs">(mecanismos neurobiológicos</text>
<text x="1524.2" y="332.7" font-size="29"  fill="#0e3a58" textLength="290.1" lengthAdjust="spacingAndGlyphs">de neuromodulación)</text>
<text x="1621.5" y="413.8" font-size="28" font-weight="bold" fill="#0e3a58" textLength="275.4" lengthAdjust="spacingAndGlyphs">Especificidades (T. 7)</text>
<text x="1607.9" y="452" font-size="28" font-weight="bold" fill="#0e3a58" textLength="302.1" lengthAdjust="spacingAndGlyphs">y comorbilidades (T. 8)</text>
<text x="1583.2" y="512.2" font-size="29"  fill="#0e3a58" textLength="352.8" lengthAdjust="spacingAndGlyphs">(interacciones fisiológicas)</text>
<text x="1627" y="620.2" font-size="28" font-weight="bold" fill="#0e3a58" textLength="387" lengthAdjust="spacingAndGlyphs">Prevalencia del dolor (T. 6, 7)</text>
<text x="1627" y="668" font-size="29"  fill="#0e3a58" textLength="388.3" lengthAdjust="spacingAndGlyphs">(especificidades sociales, por</text>
<text x="1642" y="707.7" font-size="29"  fill="#0e3a58" textLength="355.5" lengthAdjust="spacingAndGlyphs">ejemplo voz, género, edad</text>
<text x="1732.3" y="747.4" font-size="29"  fill="#0e3a58" textLength="173.7" lengthAdjust="spacingAndGlyphs">del paciente)</text>
<text x="1610.8" y="910" font-size="28" font-weight="bold" fill="#0e3a58" textLength="387.8" lengthAdjust="spacingAndGlyphs">Fisiopatología del dolor (T. 1)</text>
<text x="1610.8" y="959.3" font-size="29"  fill="#0e3a58" textLength="386.2" lengthAdjust="spacingAndGlyphs">(MSK, cáncer, posoperatorio,</text>
<text x="1715.5" y="998.7" font-size="29"  fill="#0e3a58" textLength="175.5" lengthAdjust="spacingAndGlyphs">visceral, etc.)</text>
<text x="1497" y="1162.4" font-size="28" font-weight="bold" fill="#0e3a58" textLength="364.7" lengthAdjust="spacingAndGlyphs">Prevalencia y perjuicios del</text>
<text x="1475.4" y="1204" font-size="28" font-weight="bold" fill="#0e3a58" textLength="407.8" lengthAdjust="spacingAndGlyphs">infradiagnóstico de problemas</text>
<text x="1518.5" y="1242.4" font-size="28" font-weight="bold" fill="#0e3a58" textLength="321.5" lengthAdjust="spacingAndGlyphs">de salud con dolor (T. 2)</text>
<text x="1409.2" y="1290.1" font-size="29"  fill="#0e3a58" textLength="541.8" lengthAdjust="spacingAndGlyphs">(biomarcadores/diagnóstico/predicción)</text>
<text x="989.9" y="1363" font-size="28" font-weight="bold" fill="#0e3a58" textLength="281.6" lengthAdjust="spacingAndGlyphs">Farmacoterapia (T. 4)</text>
<text x="985.7" y="1412" font-size="29"  fill="#0e3a58" textLength="289.9" lengthAdjust="spacingAndGlyphs">(beneficios, perjuicio)</text>
<text x="165.9" y="1279.6" font-size="28" font-weight="bold" fill="#0e3a58" textLength="516.1" lengthAdjust="spacingAndGlyphs">B: Enfoques no farmacológicos (T. 4, 5)</text>
<text x="291.3" y="1322.5" font-size="29"  fill="#0e3a58" textLength="266.8" lengthAdjust="spacingAndGlyphs">(físico y psicológico)</text>
<text x="69" y="1004.9" font-size="28" font-weight="bold" fill="#0e3a58" textLength="357.3" lengthAdjust="spacingAndGlyphs">Prestación del tratamiento</text>
<text x="199.3" y="1044.6" font-size="28" font-weight="bold" fill="#0e3a58" textLength="96.8" lengthAdjust="spacingAndGlyphs">(T. 2, 7)</text>
<text x="133.2" y="1093.8" font-size="29"  fill="#0e3a58" textLength="229.6" lengthAdjust="spacingAndGlyphs">(medicina digital,</text>
<text x="104" y="1133.5" font-size="29"  fill="#0e3a58" textLength="288.3" lengthAdjust="spacingAndGlyphs">aplicaciones, realidad</text>
<text x="200.8" y="1173.2" font-size="29"  fill="#0e3a58" textLength="94.4" lengthAdjust="spacingAndGlyphs">virtual)</text>
<text x="26.9" y="452.5" font-size="28" font-weight="bold" fill="#0e3a58" textLength="420.1" lengthAdjust="spacingAndGlyphs">Condiciones específicas (T. 2, 7)</text>
<text x="85.5" y="492.8" font-size="28" font-weight="bold" fill="#0e3a58" textLength="302.9" lengthAdjust="spacingAndGlyphs">y comorbilidades (T. 8)</text>
<text x="42.7" y="549" font-size="29"  fill="#0e3a58" textLength="389.6" lengthAdjust="spacingAndGlyphs">(especificidades sociales, por</text>
<text x="53.7" y="589.3" font-size="29"  fill="#0e3a58" textLength="366.3" lengthAdjust="spacingAndGlyphs">ejemplo el género, la edad)</text>
<line x1="1155.6" y1="700.2" x2="1524" y2="556.6" stroke="#3c3ca6" stroke-width="2.6"/>
<g transform="translate(1013.25,757.5) scale(1.032,1)" fill="#1f1f1f">
<text transform="rotate(-105.91)" x="491" y="0" font-size="23" dominant-baseline="central">Q10</text>
<text transform="rotate(-102.84)" x="491" y="0" font-size="23" dominant-baseline="central">Q11</text>
<text transform="rotate(-99.76)" x="491" y="0" font-size="23" dominant-baseline="central">Q12</text>
<text transform="rotate(-96.69)" x="491" y="0" font-size="23" dominant-baseline="central">Q13</text>
<text transform="rotate(-93.62)" x="491" y="0" font-size="23" dominant-baseline="central">Q14</text>
<text transform="rotate(-90.54)" x="491" y="0" font-size="23" dominant-baseline="central">Q15</text>
<text transform="rotate(-87.47)" x="491" y="0" font-size="23" dominant-baseline="central">Q16</text>
<text transform="rotate(-81.89)" x="491" y="0" font-size="23" dominant-baseline="central">Q19</text>
<text transform="rotate(-78.82)" x="491" y="0" font-size="23" dominant-baseline="central">Q20</text>
<text transform="rotate(-75.75)" x="491" y="0" font-size="23" dominant-baseline="central">Q21</text>
<text transform="rotate(-72.67)" x="491" y="0" font-size="23" dominant-baseline="central">Q22</text>
<text transform="rotate(-69.60)" x="491" y="0" font-size="23" dominant-baseline="central">Q23</text>
<text transform="rotate(-66.53)" x="491" y="0" font-size="23" dominant-baseline="central">Q24</text>
<text transform="rotate(-63.45)" x="491" y="0" font-size="23" dominant-baseline="central">Q25</text>
<text transform="rotate(-57.88)" x="491" y="0" font-size="23" dominant-baseline="central">Q28</text>
<text transform="rotate(-54.80)" x="491" y="0" font-size="23" dominant-baseline="central">Q29</text>
<text transform="rotate(-51.73)" x="491" y="0" font-size="23" dominant-baseline="central">Q30</text>
<text transform="rotate(-46.15)" x="491" y="0" font-size="23" dominant-baseline="central">Q33</text>
<text transform="rotate(-43.08)" x="491" y="0" font-size="23" dominant-baseline="central">Q34</text>
<text transform="rotate(-40.01)" x="491" y="0" font-size="23" dominant-baseline="central">Q35</text>
<text transform="rotate(-36.93)" x="491" y="0" font-size="23" dominant-baseline="central">Q36</text>
<text transform="rotate(-33.86)" x="491" y="0" font-size="23" dominant-baseline="central">Q37</text>
<text transform="rotate(-30.78)" x="491" y="0" font-size="23" dominant-baseline="central">Q38</text>
<text transform="rotate(-27.71)" x="491" y="0" font-size="23" dominant-baseline="central">Q39</text>
<text transform="rotate(-24.64)" x="491" y="0" font-size="23" dominant-baseline="central">Q40</text>
<text transform="rotate(-19.06)" x="491" y="0" font-size="23" dominant-baseline="central">Q4ʼ3</text>
<text transform="rotate(-15.99)" x="491" y="0" font-size="23" dominant-baseline="central">Q44</text>
<text transform="rotate(-12.91)" x="491" y="0" font-size="23" dominant-baseline="central">Q45</text>
<text transform="rotate(-9.84)" x="491" y="0" font-size="23" dominant-baseline="central">Q46</text>
<text transform="rotate(-6.77)" x="491" y="0" font-size="23" dominant-baseline="central">Q47</text>
<text transform="rotate(-3.69)" x="491" y="0" font-size="23" dominant-baseline="central">Q48</text>
<text transform="rotate(-0.62)" x="491" y="0" font-size="23" dominant-baseline="central">Q49</text>
<text transform="rotate(2.45)" x="491" y="0" font-size="23" dominant-baseline="central">Q50</text>
<text transform="rotate(8.03)" x="491" y="0" font-size="23" dominant-baseline="central">Q53</text>
<text transform="rotate(11.10)" x="491" y="0" font-size="23" dominant-baseline="central">Q54</text>
<text transform="rotate(14.18)" x="491" y="0" font-size="23" dominant-baseline="central">Q55</text>
<text transform="rotate(17.25)" x="491" y="0" font-size="23" dominant-baseline="central">Q56</text>
<text transform="rotate(20.32)" x="491" y="0" font-size="23" dominant-baseline="central">Q57</text>
<text transform="rotate(23.40)" x="491" y="0" font-size="23" dominant-baseline="central">Q58</text>
<text transform="rotate(26.47)" x="491" y="0" font-size="23" dominant-baseline="central">Q59</text>
<text transform="rotate(29.54)" x="491" y="0" font-size="23" dominant-baseline="central">Q60</text>
<text transform="rotate(35.12)" x="491" y="0" font-size="23" dominant-baseline="central">Q63</text>
<text transform="rotate(38.19)" x="491" y="0" font-size="23" dominant-baseline="central">Q64</text>
<text transform="rotate(41.27)" x="491" y="0" font-size="23" dominant-baseline="central">Q65</text>
<text transform="rotate(44.34)" x="491" y="0" font-size="23" dominant-baseline="central">Q66</text>
<text transform="rotate(47.41)" x="491" y="0" font-size="23" dominant-baseline="central">Q67</text>
<text transform="rotate(50.49)" x="491" y="0" font-size="23" dominant-baseline="central">Q68</text>
<text transform="rotate(53.56)" x="491" y="0" font-size="23" dominant-baseline="central">Q69</text>
<text transform="rotate(56.64)" x="491" y="0" font-size="23" dominant-baseline="central">Q70</text>
<text transform="rotate(59.71)" x="491" y="0" font-size="23" dominant-baseline="central">Q71</text>
<text transform="rotate(62.78)" x="491" y="0" font-size="23" dominant-baseline="central">Q72</text>
<text transform="rotate(68.36)" x="491" y="0" font-size="23" dominant-baseline="central">Q75</text>
<text transform="rotate(71.43)" x="491" y="0" font-size="23" dominant-baseline="central">Q76</text>
<text transform="rotate(74.51)" x="491" y="0" font-size="23" dominant-baseline="central">Q77</text>
<text transform="rotate(77.58)" x="491" y="0" font-size="23" dominant-baseline="central">Q78</text>
<text transform="rotate(80.65)" x="491" y="0" font-size="23" dominant-baseline="central">Q79</text>
<text transform="rotate(83.73)" x="491" y="0" font-size="23" dominant-baseline="central">Q80</text>
<text transform="rotate(86.80)" x="491" y="0" font-size="23" dominant-baseline="central">Q81</text>
<text transform="rotate(89.87)" x="491" y="0" font-size="23" dominant-baseline="central">Q82</text>
<text transform="rotate(272.95)" x="-491" y="0" font-size="23" text-anchor="end" dominant-baseline="central">Q83</text>
<text transform="rotate(278.52)" x="-491" y="0" font-size="23" text-anchor="end" dominant-baseline="central">Q86</text>
<text transform="rotate(281.60)" x="-491" y="0" font-size="23" text-anchor="end" dominant-baseline="central">Q87</text>
<text transform="rotate(284.67)" x="-491" y="0" font-size="23" text-anchor="end" dominant-baseline="central">Q88</text>
<text transform="rotate(287.74)" x="-491" y="0" font-size="23" text-anchor="end" dominant-baseline="central">Q89</text>
<text transform="rotate(290.82)" x="-491" y="0" font-size="23" text-anchor="end" dominant-baseline="central">Q90</text>
<text transform="rotate(293.89)" x="-491" y="0" font-size="23" text-anchor="end" dominant-baseline="central">Q91</text>
<text transform="rotate(296.96)" x="-491" y="0" font-size="23" text-anchor="end" dominant-baseline="central">Q92</text>
<text transform="rotate(300.04)" x="-491" y="0" font-size="23" text-anchor="end" dominant-baseline="central">Q93</text>
<text transform="rotate(303.11)" x="-491" y="0" font-size="23" text-anchor="end" dominant-baseline="central">Q94</text>
<text transform="rotate(306.18)" x="-491" y="0" font-size="23" text-anchor="end" dominant-baseline="central">Q95</text>
<text transform="rotate(309.26)" x="-491" y="0" font-size="23" text-anchor="end" dominant-baseline="central">Q96</text>
<text transform="rotate(312.33)" x="-491" y="0" font-size="23" text-anchor="end" dominant-baseline="central">Q97</text>
<text transform="rotate(315.40)" x="-491" y="0" font-size="23" text-anchor="end" dominant-baseline="central">Q98</text>
<text transform="rotate(320.98)" x="-491" y="0" font-size="23" text-anchor="end" dominant-baseline="central">Q101</text>
<text transform="rotate(324.06)" x="-491" y="0" font-size="23" text-anchor="end" dominant-baseline="central">Q102</text>
<text transform="rotate(327.13)" x="-491" y="0" font-size="23" text-anchor="end" dominant-baseline="central">Q103</text>
<text transform="rotate(330.20)" x="-491" y="0" font-size="23" text-anchor="end" dominant-baseline="central">Q104</text>
<text transform="rotate(333.28)" x="-491" y="0" font-size="23" text-anchor="end" dominant-baseline="central">Q105</text>
<text transform="rotate(336.35)" x="-491" y="0" font-size="23" text-anchor="end" dominant-baseline="central">Q106</text>
<text transform="rotate(339.42)" x="-491" y="0" font-size="23" text-anchor="end" dominant-baseline="central">Q107</text>
<text transform="rotate(342.50)" x="-491" y="0" font-size="23" text-anchor="end" dominant-baseline="central">Q108</text>
<text transform="rotate(345.57)" x="-491" y="0" font-size="23" text-anchor="end" dominant-baseline="central">Q109</text>
<text transform="rotate(348.64)" x="-491" y="0" font-size="23" text-anchor="end" dominant-baseline="central">Q110</text>
<text transform="rotate(351.72)" x="-491" y="0" font-size="23" text-anchor="end" dominant-baseline="central">Q111</text>
<text transform="rotate(357.29)" x="-491" y="0" font-size="23" text-anchor="end" dominant-baseline="central">Q114</text>
<text transform="rotate(180.37)" x="491" y="0" font-size="23" dominant-baseline="central">Q115</text>
<text transform="rotate(183.44)" x="491" y="0" font-size="23" dominant-baseline="central">Q116</text>
<text transform="rotate(186.51)" x="491" y="0" font-size="23" dominant-baseline="central">Q117</text>
<text transform="rotate(189.59)" x="491" y="0" font-size="23" dominant-baseline="central">Q118</text>
<text transform="rotate(192.66)" x="491" y="0" font-size="23" dominant-baseline="central">Q119</text>
<text transform="rotate(195.73)" x="491" y="0" font-size="23" dominant-baseline="central">Q120</text>
<text transform="rotate(198.81)" x="491" y="0" font-size="23" dominant-baseline="central">Q121</text>
<text transform="rotate(201.88)" x="491" y="0" font-size="23" dominant-baseline="central">Q122</text>
<text transform="rotate(204.95)" x="491" y="0" font-size="23" dominant-baseline="central">Q123</text>
<text transform="rotate(208.03)" x="491" y="0" font-size="23" dominant-baseline="central">Q124</text>
<text transform="rotate(211.10)" x="491" y="0" font-size="23" dominant-baseline="central">Q125</text>
<text transform="rotate(214.18)" x="491" y="0" font-size="23" dominant-baseline="central">Q126</text>
<text transform="rotate(217.25)" x="491" y="0" font-size="23" dominant-baseline="central">Q127</text>
<text transform="rotate(220.32)" x="491" y="0" font-size="23" dominant-baseline="central">Q128</text>
<text transform="rotate(223.40)" x="491" y="0" font-size="23" dominant-baseline="central">Q129</text>
<text transform="rotate(-6.69)" x="0" y="-553" font-size="20" font-weight="bold" text-anchor="middle" dominant-baseline="central">D01</text>
<text transform="rotate(17.33)" x="0" y="-553" font-size="20" font-weight="bold" text-anchor="middle" dominant-baseline="central">D02</text>
<text transform="rotate(35.20)" x="0" y="-553" font-size="20" font-weight="bold" text-anchor="middle" dominant-baseline="central">D03</text>
<text transform="rotate(54.60)" x="0" y="-553" font-size="20" font-weight="bold" text-anchor="middle" dominant-baseline="central">D04</text>
<text transform="rotate(81.70)" x="0" y="-553" font-size="20" font-weight="bold" text-anchor="middle" dominant-baseline="central">D05</text>
<text transform="rotate(108.79)" x="0" y="-553" font-size="20" font-weight="bold" text-anchor="middle" dominant-baseline="central">D06</text>
<text transform="rotate(138.95)" x="0" y="-553" font-size="20" font-weight="bold" text-anchor="middle" dominant-baseline="central">D07</text>
<text transform="rotate(170.65)" x="0" y="-553" font-size="20" font-weight="bold" text-anchor="middle" dominant-baseline="central">D08</text>
<text transform="rotate(206.96)" x="0" y="-553" font-size="20" font-weight="bold" text-anchor="middle" dominant-baseline="central">D09</text>
<text transform="rotate(246.35)" x="0" y="-553" font-size="20" font-weight="bold" text-anchor="middle" dominant-baseline="central">D10</text>
<text transform="rotate(290.34)" x="0" y="-553" font-size="20" font-weight="bold" text-anchor="middle" dominant-baseline="central">D11</text>
</g>
<text transform="translate(816.5,311) rotate(-19)" x="0" y="0" font-size="30.5" fill="#1f1f1f" text-anchor="middle" dominant-baseline="central">100%</text>
<text transform="translate(835.3,341.5) rotate(-19)" x="0" y="0" font-size="30.5" fill="#1f1f1f" text-anchor="middle" dominant-baseline="central">90%</text>
<text transform="translate(850.9,389.5) rotate(-19)" x="0" y="0" font-size="30.5" fill="#1f1f1f" text-anchor="middle" dominant-baseline="central">75%</text>
<text transform="translate(877.4,472.5) rotate(-19)" x="0" y="0" font-size="30.5" fill="#1f1f1f" text-anchor="middle" dominant-baseline="central">50%</text>
<text transform="translate(902.9,554.5) rotate(-19)" x="0" y="0" font-size="30.5" fill="#1f1f1f" text-anchor="middle" dominant-baseline="central">25%</text>
<text transform="translate(937.1,629.5) rotate(-19)" x="0" y="0" font-size="30.5" fill="#1f1f1f" text-anchor="middle" dominant-baseline="central">0%</text>
</svg></body></html>
